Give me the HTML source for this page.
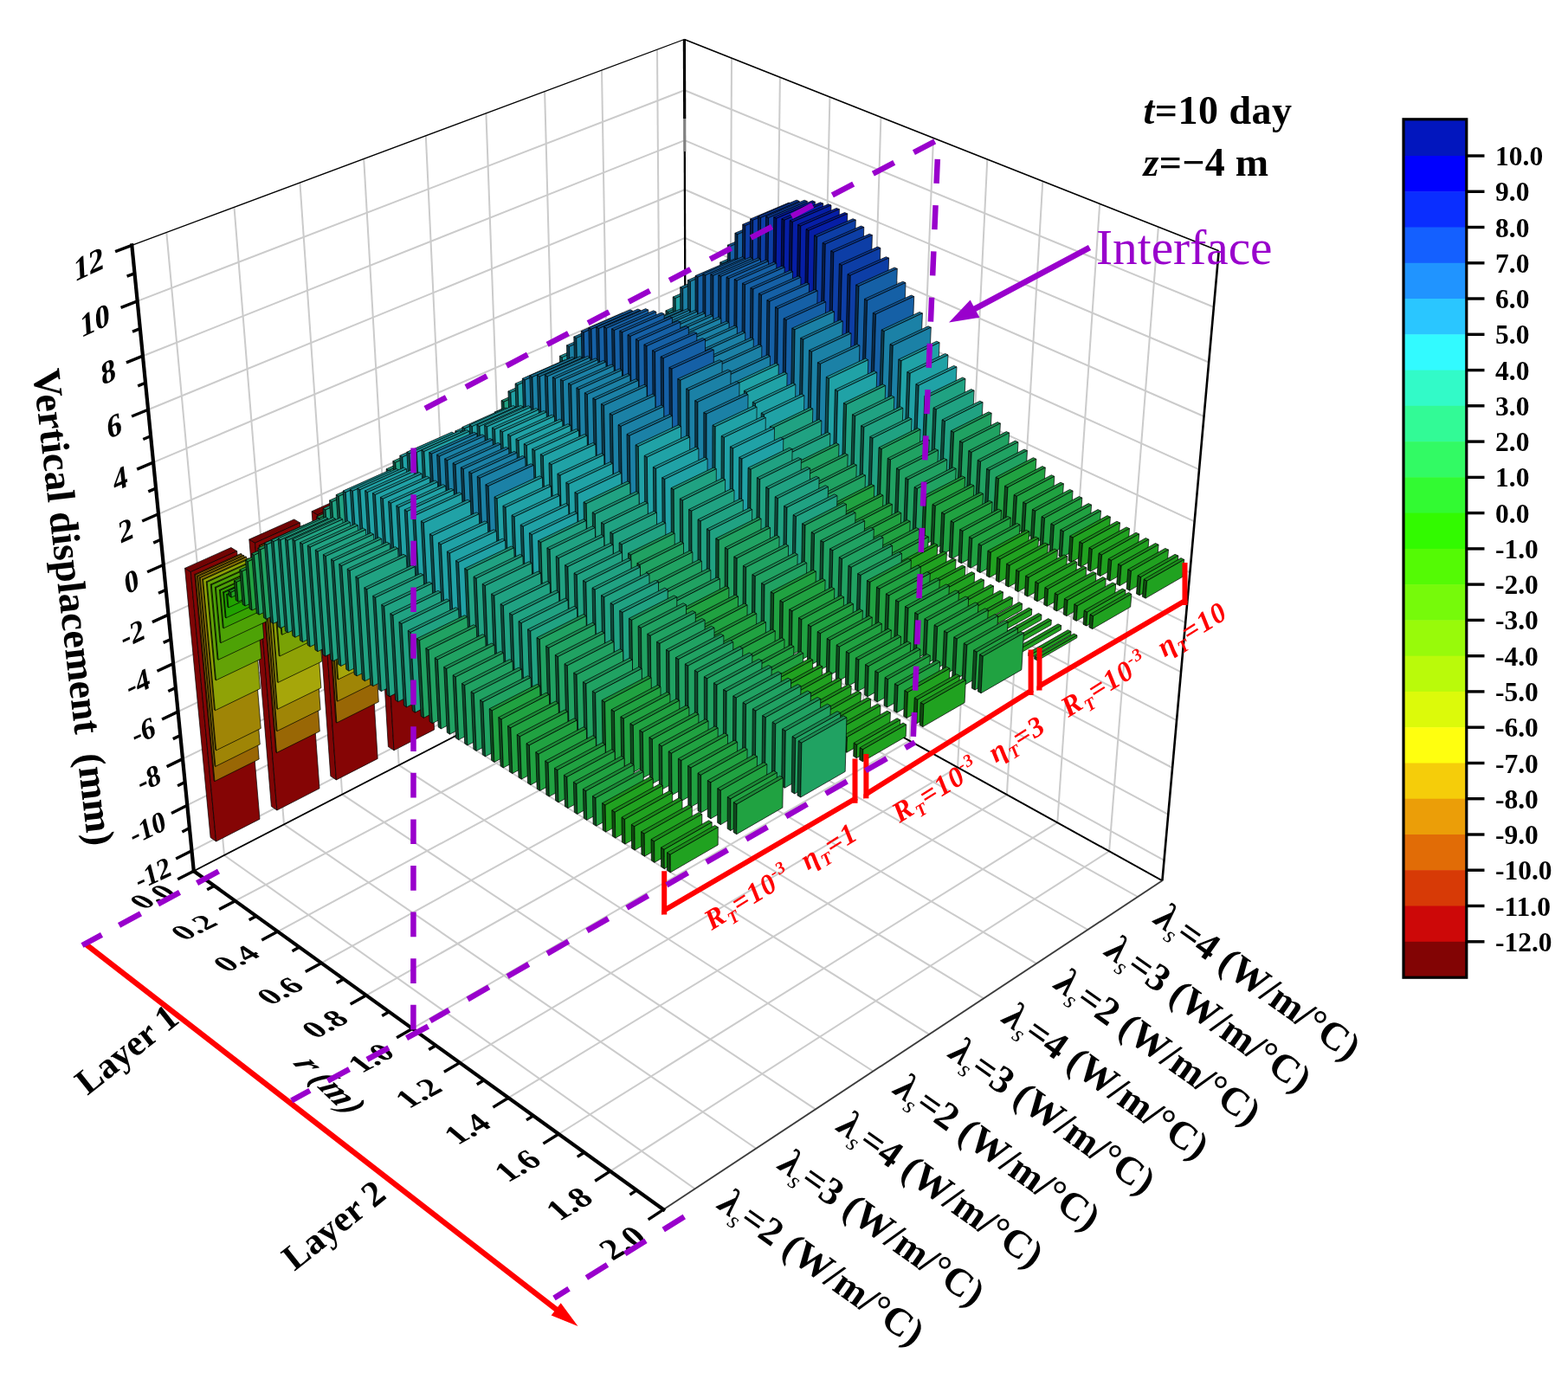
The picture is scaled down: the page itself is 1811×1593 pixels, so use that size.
<!DOCTYPE html>
<html><head><meta charset="utf-8"><title>3D bar chart</title>
<style>
html,body{margin:0;padding:0;background:#fff;}
svg{display:block;}
text{font-family:"Liberation Serif",serif;font-weight:bold;}
</style></head><body>
<svg width="1811" height="1593" viewBox="0 0 1811 1593">
<rect width="1811" height="1593" fill="#fff"/>
<g id="grid" fill="none">
<line x1="259" y1="988" x2="192.3" y2="268.5" stroke="#cbcbcb" stroke-width="2.0" />
<line x1="328" y1="952.4" x2="270.5" y2="239.4" stroke="#cbcbcb" stroke-width="2.0" />
<line x1="395.2" y1="917.7" x2="346.4" y2="211" stroke="#cbcbcb" stroke-width="2.0" />
<line x1="460.7" y1="883.9" x2="420.2" y2="183.6" stroke="#cbcbcb" stroke-width="2.0" />
<line x1="524.5" y1="851" x2="491.8" y2="156.8" stroke="#cbcbcb" stroke-width="2.0" />
<line x1="586.6" y1="818.9" x2="561.4" y2="130.9" stroke="#cbcbcb" stroke-width="2.0" />
<line x1="647.3" y1="787.6" x2="629.1" y2="105.6" stroke="#cbcbcb" stroke-width="2.0" />
<line x1="706.4" y1="757.1" x2="695" y2="81.1" stroke="#cbcbcb" stroke-width="2.0" />
<line x1="764.1" y1="727.3" x2="759" y2="57.2" stroke="#cbcbcb" stroke-width="2.0" />
<line x1="221.5" y1="982.8" x2="792.4" y2="690.8" stroke="#cbcbcb" stroke-width="2.0" />
<line x1="216.3" y1="930.2" x2="792.2" y2="641.7" stroke="#cbcbcb" stroke-width="2.0" />
<line x1="211" y1="876.6" x2="792.1" y2="591.8" stroke="#cbcbcb" stroke-width="2.0" />
<line x1="205.6" y1="822.1" x2="791.9" y2="541.1" stroke="#cbcbcb" stroke-width="2.0" />
<line x1="200.1" y1="766.6" x2="791.8" y2="489.6" stroke="#cbcbcb" stroke-width="2.0" />
<line x1="194.5" y1="710.1" x2="791.6" y2="437.2" stroke="#cbcbcb" stroke-width="2.0" />
<line x1="188.8" y1="652.5" x2="791.4" y2="384" stroke="#cbcbcb" stroke-width="2.0" />
<line x1="183" y1="593.8" x2="791.3" y2="329.9" stroke="#cbcbcb" stroke-width="2.0" />
<line x1="177.1" y1="534.1" x2="791.1" y2="274.9" stroke="#cbcbcb" stroke-width="2.0" />
<line x1="171.1" y1="473.2" x2="791" y2="219" stroke="#cbcbcb" stroke-width="2.0" />
<line x1="165" y1="411.2" x2="790.8" y2="162.1" stroke="#cbcbcb" stroke-width="2.0" />
<line x1="158.7" y1="347.9" x2="790.6" y2="104.3" stroke="#cbcbcb" stroke-width="2.0" />
<line x1="841.7" y1="739.9" x2="845" y2="67.1" stroke="#cbcbcb" stroke-width="2.0" />
<line x1="892" y1="767.8" x2="900.9" y2="89.2" stroke="#cbcbcb" stroke-width="2.0" />
<line x1="943.6" y1="796.4" x2="958.4" y2="112" stroke="#cbcbcb" stroke-width="2.0" />
<line x1="996.5" y1="825.7" x2="1017.4" y2="135.3" stroke="#cbcbcb" stroke-width="2.0" />
<line x1="1050.6" y1="855.7" x2="1078" y2="159.3" stroke="#cbcbcb" stroke-width="2.0" />
<line x1="1106.1" y1="886.4" x2="1140.3" y2="184" stroke="#cbcbcb" stroke-width="2.0" />
<line x1="1162.9" y1="917.9" x2="1204.3" y2="209.3" stroke="#cbcbcb" stroke-width="2.0" />
<line x1="1221.3" y1="950.2" x2="1270.2" y2="235.4" stroke="#cbcbcb" stroke-width="2.0" />
<line x1="1281.1" y1="983.3" x2="1337.9" y2="262.2" stroke="#cbcbcb" stroke-width="2.0" />
<line x1="792.4" y1="690.8" x2="1344.6" y2="993.8" stroke="#cbcbcb" stroke-width="2.0" />
<line x1="792.2" y1="641.7" x2="1349.3" y2="940.9" stroke="#cbcbcb" stroke-width="2.0" />
<line x1="792.1" y1="591.8" x2="1354.1" y2="887" stroke="#cbcbcb" stroke-width="2.0" />
<line x1="791.9" y1="541.1" x2="1359.1" y2="832.2" stroke="#cbcbcb" stroke-width="2.0" />
<line x1="791.8" y1="489.6" x2="1364.1" y2="776.3" stroke="#cbcbcb" stroke-width="2.0" />
<line x1="791.6" y1="437.2" x2="1369.2" y2="719.4" stroke="#cbcbcb" stroke-width="2.0" />
<line x1="791.4" y1="384" x2="1374.4" y2="661.5" stroke="#cbcbcb" stroke-width="2.0" />
<line x1="791.3" y1="329.9" x2="1379.6" y2="602.4" stroke="#cbcbcb" stroke-width="2.0" />
<line x1="791.1" y1="274.9" x2="1385" y2="542.3" stroke="#cbcbcb" stroke-width="2.0" />
<line x1="791" y1="219" x2="1390.5" y2="481" stroke="#cbcbcb" stroke-width="2.0" />
<line x1="790.8" y1="162.1" x2="1396.1" y2="418.5" stroke="#cbcbcb" stroke-width="2.0" />
<line x1="790.6" y1="104.3" x2="1401.9" y2="354.8" stroke="#cbcbcb" stroke-width="2.0" />
<line x1="271.7" y1="1040.7" x2="841.7" y2="739.9" stroke="#cbcbcb" stroke-width="2.0" />
<line x1="320.8" y1="1076.1" x2="892" y2="767.8" stroke="#cbcbcb" stroke-width="2.0" />
<line x1="371.2" y1="1112.4" x2="943.6" y2="796.4" stroke="#cbcbcb" stroke-width="2.0" />
<line x1="423" y1="1149.8" x2="996.5" y2="825.7" stroke="#cbcbcb" stroke-width="2.0" />
<line x1="476.3" y1="1188.2" x2="1050.6" y2="855.7" stroke="#cbcbcb" stroke-width="2.0" />
<line x1="531" y1="1227.6" x2="1106.1" y2="886.4" stroke="#cbcbcb" stroke-width="2.0" />
<line x1="587.3" y1="1268.2" x2="1162.9" y2="917.9" stroke="#cbcbcb" stroke-width="2.0" />
<line x1="645.2" y1="1310" x2="1221.3" y2="950.2" stroke="#cbcbcb" stroke-width="2.0" />
<line x1="704.9" y1="1352.9" x2="1281.1" y2="983.3" stroke="#cbcbcb" stroke-width="2.0" />
<line x1="259" y1="988" x2="802.5" y2="1373.3" stroke="#cbcbcb" stroke-width="2.0" />
<line x1="328" y1="952.4" x2="873.3" y2="1326.7" stroke="#cbcbcb" stroke-width="2.0" />
<line x1="395.2" y1="917.7" x2="941.9" y2="1281.4" stroke="#cbcbcb" stroke-width="2.0" />
<line x1="460.7" y1="883.9" x2="1008.5" y2="1237.5" stroke="#cbcbcb" stroke-width="2.0" />
<line x1="524.5" y1="851" x2="1073.2" y2="1194.8" stroke="#cbcbcb" stroke-width="2.0" />
<line x1="586.6" y1="818.9" x2="1136.1" y2="1153.4" stroke="#cbcbcb" stroke-width="2.0" />
<line x1="647.3" y1="787.6" x2="1197.1" y2="1113.2" stroke="#cbcbcb" stroke-width="2.0" />
<line x1="706.4" y1="757.1" x2="1256.5" y2="1074" stroke="#cbcbcb" stroke-width="2.0" />
<line x1="764.1" y1="727.3" x2="1314.2" y2="1036" stroke="#cbcbcb" stroke-width="2.0" />
<line x1="152.3" y1="283.4" x2="790.4" y2="45.5" stroke="#000" stroke-width="1.3" />
<line x1="790.4" y1="45.5" x2="1407.7" y2="289.8" stroke="#000" stroke-width="1.6" />
<line x1="223.8" y1="1006.2" x2="792.4" y2="712.7" stroke="#000" stroke-width="1.8" />
<line x1="792.4" y1="712.7" x2="1342.4" y2="1017.3" stroke="#000" stroke-width="2.0" />
<line x1="766.3" y1="1397.2" x2="1342.4" y2="1017.3" stroke="#3c3c3c" stroke-width="1.9" />
<line x1="790.8" y1="175" x2="792.4" y2="712.7" stroke="#000" stroke-width="2.3" />
<line x1="790.7" y1="137" x2="790.8" y2="175" stroke="#808080" stroke-width="3.2" />
<line x1="790.4" y1="45.5" x2="790.7" y2="137" stroke="#000" stroke-width="3.2" />
<line x1="1342.4" y1="1017.3" x2="1407.7" y2="289.8" stroke="#000" stroke-width="2.6" />
</g>
<g id="bars" stroke="#000" stroke-width="0.7" stroke-linejoin="round">
<polygon points="756.9,705.1 763.6,708.8 761.4,417.3 754.4,413.9" fill="#7f0505"/>
<polygon points="754.4,413.9 761.4,417.3 804.3,398 797.4,394.6" fill="#710404"/>
<polygon points="763.6,708.8 804.6,687.7 804.3,398 761.4,417.3" fill="#850505"/>
<polygon points="767.6,644.9 768.6,645.4 767.1,420.1 766,419.6" fill="#845804"/>
<polygon points="766,419.6 767.1,420.1 810,400.7 809,400.2" fill="#815704"/>
<polygon points="768.6,645.4 810.1,624.7 810,400.7 767.1,420.1" fill="#996705"/>
<polygon points="770.2,621 771.2,621.5 769.9,421.5 768.9,421" fill="#897306"/>
<polygon points="768.9,421 769.9,421.5 812.9,402.1 811.9,401.6" fill="#877106"/>
<polygon points="771.2,621.5 812.8,600.9 812.9,402.1 769.9,421.5" fill="#9f8506"/>
<polygon points="772.8,596.8 773.8,597.4 772.8,422.8 771.7,422.3" fill="#8f8f08"/>
<polygon points="771.7,422.3 772.8,422.8 815.7,403.4 814.7,402.9" fill="#8c8c08"/>
<polygon points="773.8,597.4 815.6,576.9 815.7,403.4 772.8,422.8" fill="#a6a60a"/>
<polygon points="775.9,567.5 776.9,568.1 776.2,424.5 775.1,424" fill="#7b8c06"/>
<polygon points="775.1,424 776.2,424.5 819.1,405 818.1,404.5" fill="#798a06"/>
<polygon points="776.9,568.1 819,547.7 819.1,405 776.2,424.5" fill="#8fa206"/>
<polygon points="780.3,538.5 781.4,539.1 780.8,426.8 779.8,426.3" fill="#688c06"/>
<polygon points="779.8,426.3 780.8,426.8 823.8,407.3 822.8,406.8" fill="#668a06"/>
<polygon points="781.4,539.1 823.6,518.9 823.8,407.3 780.8,426.8" fill="#79a206"/>
<polygon points="785.4,514.8 786.4,515.3 786.1,429.3 785,428.8" fill="#558c06"/>
<polygon points="785,428.8 786.1,429.3 829,409.8 828,409.3" fill="#548a06"/>
<polygon points="786.4,515.3 828.8,495.2 829,409.8 786.1,429.3" fill="#63a206"/>
<polygon points="790.5,496.1 791.5,496.6 791.3,431.9 790.2,431.4" fill="#428c06"/>
<polygon points="790.2,431.4 791.3,431.9 834.3,412.3 833.2,411.8" fill="#418a06"/>
<polygon points="791.5,496.6 834.1,476.6 834.3,412.3 791.3,431.9" fill="#4da206"/>
<polygon points="795.6,480 796.6,480.5 796.5,434.4 795.5,433.9" fill="#2f8c03"/>
<polygon points="795.5,433.9 796.5,434.4 839.5,414.8 838.5,414.3" fill="#2e8a03"/>
<polygon points="796.6,480.5 839.3,460.5 839.5,414.8 796.5,434.4" fill="#37a203"/>
<polygon points="799.7,465.9 800.8,466.4 800.7,436.5 799.7,436" fill="#2f8c03"/>
<polygon points="799.7,436 800.7,436.5 843.7,416.8 842.7,416.3" fill="#2e8a03"/>
<polygon points="800.8,466.4 843.6,446.5 843.7,416.8 800.7,436.5" fill="#37a203"/>
<polygon points="803.9,451.6 805,452.2 805,438.5 803.9,438" fill="#1c8c00"/>
<polygon points="803.9,438 805,438.5 848,418.8 846.9,418.3" fill="#1c8a00"/>
<polygon points="805,452.2 847.9,432.4 848,418.8 805,438.5" fill="#20a200"/>
<polygon points="806.8,439.4 809.7,440.9 809.7,427.5 806.8,426.1" fill="#0f4b0f"/>
<polygon points="806.8,426.1 809.7,427.5 852.8,407.8 849.9,406.4" fill="#1c8a1c"/>
<polygon points="809.7,440.9 852.7,421.1 852.8,407.8 809.7,427.5" fill="#20a220"/>
<polygon points="814.9,443.4 817.8,444.8 817.8,390.3 814.9,388.9" fill="#0f4b1e"/>
<polygon points="814.9,388.9 817.8,390.3 861.2,370.8 858.3,369.5" fill="#1c8a37"/>
<polygon points="817.8,444.8 860.8,424.9 861.2,370.8 817.8,390.3" fill="#20a241"/>
<polygon points="823,447.3 825.9,448.8 826.2,345.1 823.2,343.7" fill="#0f4b3c"/>
<polygon points="823.2,343.7 826.2,345.1 869.9,325.9 866.9,324.5" fill="#1c8a6e"/>
<polygon points="825.9,448.8 869,428.8 869.9,325.9 826.2,345.1" fill="#20a282"/>
<polygon points="831.2,451.3 834.2,452.8 834.7,304.4 831.7,303.1" fill="#0d3b4c"/>
<polygon points="831.7,303.1 834.7,304.4 878.7,285.4 875.7,284.1" fill="#176d8c"/>
<polygon points="834.2,452.8 877.2,432.8 878.7,285.4 834.7,304.4" fill="#1b81a6"/>
<polygon points="839.5,455.4 842.5,456.8 843.3,284.6 840.3,283.2" fill="#0a2c4c"/>
<polygon points="840.3,283.2 843.3,284.6 887.4,265.7 884.4,264.3" fill="#12518c"/>
<polygon points="842.5,456.8 885.5,436.7 887.4,265.7 843.3,284.6" fill="#1560a6"/>
<polygon points="847.9,459.4 850.8,460.9 852,270.7 848.9,269.3" fill="#0a2c4c"/>
<polygon points="848.9,269.3 852,270.7 896.3,251.8 893.2,250.4" fill="#12518c"/>
<polygon points="850.8,460.9 893.9,440.8 896.3,251.8 852,270.7" fill="#1560a6"/>
<polygon points="856.3,463.6 859.3,465 860.8,260.7 857.7,259.3" fill="#061d4c"/>
<polygon points="857.7,259.3 860.8,260.7 905.2,241.8 902.1,240.5" fill="#0b358c"/>
<polygon points="859.3,465 902.3,444.8 905.2,241.8 860.8,260.7" fill="#0d3ea6"/>
<polygon points="864.8,467.7 867.8,469.2 869.7,254.3 866.6,253" fill="#061d4c"/>
<polygon points="866.6,253 869.7,254.3 914.2,235.4 911.1,234.1" fill="#0b358c"/>
<polygon points="867.8,469.2 910.9,448.9 914.2,235.4 869.7,254.3" fill="#0d3ea6"/>
<polygon points="873.4,471.9 876.4,473.4 878.7,251.4 875.6,250" fill="#061d4c"/>
<polygon points="875.6,250 878.7,251.4 923.2,232.5 920.1,231.1" fill="#0b358c"/>
<polygon points="876.4,473.4 919.5,453 923.2,232.5 878.7,251.4" fill="#0d3ea6"/>
<polygon points="882.1,476.2 885.1,477.6 887.7,251.5 884.6,250.1" fill="#061d4c"/>
<polygon points="884.6,250.1 887.7,251.5 932.3,232.5 929.1,231.2" fill="#0b358c"/>
<polygon points="885.1,477.6 928.2,457.2 932.3,232.5 887.7,251.5" fill="#0d3ea6"/>
<polygon points="890.9,480.4 893.9,481.9 896.9,252.2 893.7,250.8" fill="#030e4c"/>
<polygon points="893.7,250.8 896.9,252.2 941.4,233.2 938.3,231.8" fill="#06198c"/>
<polygon points="893.9,481.9 937,461.4 941.4,233.2 896.9,252.2" fill="#061ea6"/>
<polygon points="899.8,484.7 902.8,486.2 906.1,254.2 902.9,252.8" fill="#030e4c"/>
<polygon points="902.9,252.8 906.1,254.2 950.7,235.1 947.5,233.8" fill="#06198c"/>
<polygon points="902.8,486.2 945.9,465.6 950.7,235.1 906.1,254.2" fill="#061ea6"/>
<polygon points="908.7,489.1 911.8,490.6 915.4,256.3 912.2,254.9" fill="#030e4c"/>
<polygon points="912.2,254.9 915.4,256.3 960,237.1 956.8,235.8" fill="#06198c"/>
<polygon points="911.8,490.6 954.8,469.9 960,237.1 915.4,256.3" fill="#061ea6"/>
<polygon points="917.7,493.5 920.8,495 924.8,261 921.6,259.6" fill="#030e4c"/>
<polygon points="921.6,259.6 924.8,261 969.4,241.7 966.2,240.4" fill="#06198c"/>
<polygon points="920.8,495 963.9,474.2 969.4,241.7 924.8,261" fill="#061ea6"/>
<polygon points="926.9,497.9 929.9,499.4 934.2,266.2 931,264.8" fill="#030e4c"/>
<polygon points="931,264.8 934.2,266.2 978.8,246.9 975.6,245.5" fill="#06198c"/>
<polygon points="929.9,499.4 973,478.6 978.8,246.9 934.2,266.2" fill="#061ea6"/>
<polygon points="936.1,502.4 939.1,503.9 943.7,273.5 940.5,272.1" fill="#061d4c"/>
<polygon points="940.5,272.1 943.7,273.5 988.3,254.1 985.1,252.7" fill="#0b358c"/>
<polygon points="939.1,503.9 982.2,483 988.3,254.1 943.7,273.5" fill="#0d3ea6"/>
<polygon points="945.4,507 948.5,508.5 953.3,281.9 950.1,280.5" fill="#061d4c"/>
<polygon points="950.1,280.5 953.3,281.9 997.8,262.4 994.6,261" fill="#0b358c"/>
<polygon points="948.5,508.5 991.5,487.4 997.8,262.4 953.3,281.9" fill="#0d3ea6"/>
<polygon points="954.7,511.5 957.9,513.1 962.9,291.3 959.7,289.9" fill="#061d4c"/>
<polygon points="959.7,289.9 962.9,291.3 1007.4,271.6 1004.2,270.2" fill="#0b358c"/>
<polygon points="957.9,513.1 1000.9,491.9 1007.4,271.6 962.9,291.3" fill="#0d3ea6"/>
<polygon points="964.2,516.2 967.3,517.7 972.5,306.3 969.3,304.9" fill="#061d4c"/>
<polygon points="969.3,304.9 972.5,306.3 1016.9,286.5 1013.7,285.1" fill="#0b358c"/>
<polygon points="967.3,517.7 1010.4,496.5 1016.9,286.5 972.5,306.3" fill="#0d3ea6"/>
<polygon points="973.8,520.8 976.9,522.4 982.2,318.1 979,316.7" fill="#061d4c"/>
<polygon points="979,316.7 982.2,318.1 1026.6,298.1 1023.4,296.7" fill="#0b358c"/>
<polygon points="976.9,522.4 1020,501 1026.6,298.1 982.2,318.1" fill="#0d3ea6"/>
<polygon points="983.5,525.5 986.6,527.1 992,330.5 988.7,329.1" fill="#0a2c4c"/>
<polygon points="988.7,329.1 992,330.5 1036.3,310.4 1033.1,309" fill="#12518c"/>
<polygon points="986.6,527.1 1029.7,505.7 1036.3,310.4 992,330.5" fill="#1560a6"/>
<polygon points="993.2,530.3 996.4,531.8 1001.7,346.9 998.5,345.4" fill="#0a2c4c"/>
<polygon points="998.5,345.4 1001.7,346.9 1046,326.6 1042.7,325.2" fill="#12518c"/>
<polygon points="996.4,531.8 1039.5,510.3 1046,326.6 1001.7,346.9" fill="#1560a6"/>
<polygon points="1003.1,535.1 1006.3,536.7 1011.6,362.9 1008.3,361.5" fill="#0a2c4c"/>
<polygon points="1008.3,361.5 1011.6,362.9 1055.7,342.5 1052.5,341" fill="#12518c"/>
<polygon points="1006.3,536.7 1049.4,515.1 1055.7,342.5 1011.6,362.9" fill="#1560a6"/>
<polygon points="1013,540 1016.2,541.5 1021.3,382.5 1018.1,381.1" fill="#0d3b4c"/>
<polygon points="1018.1,381.1 1021.3,382.5 1065.4,361.9 1062.1,360.4" fill="#176d8c"/>
<polygon points="1016.2,541.5 1059.3,519.8 1065.4,361.9 1021.3,382.5" fill="#1b81a6"/>
<polygon points="1023.1,544.9 1026.3,546.4 1031.3,399.1 1028,397.6" fill="#0d3b4c"/>
<polygon points="1028,397.6 1031.3,399.1 1075.3,378.2 1072,376.8" fill="#176d8c"/>
<polygon points="1026.3,546.4 1069.4,524.6 1075.3,378.2 1031.3,399.1" fill="#1b81a6"/>
<polygon points="1033.2,549.8 1036.4,551.3 1041.1,416.7 1037.8,415.2" fill="#0f4b4c"/>
<polygon points="1037.8,415.2 1041.1,416.7 1085.1,395.7 1081.8,394.2" fill="#1c8a8c"/>
<polygon points="1036.4,551.3 1079.5,529.4 1085.1,395.7 1041.1,416.7" fill="#20a2a6"/>
<polygon points="1043.3,554.7 1046.5,556.3 1051.2,431.2 1047.8,429.7" fill="#0f4b4c"/>
<polygon points="1047.8,429.7 1051.2,431.2 1095,410 1091.7,408.5" fill="#1c8a8c"/>
<polygon points="1046.5,556.3 1089.6,534.3 1095,410 1051.2,431.2" fill="#20a2a6"/>
<polygon points="1053.5,559.7 1056.7,561.3 1061.2,445.2 1057.9,443.7" fill="#0f4b4c"/>
<polygon points="1057.9,443.7 1061.2,445.2 1105,423.9 1101.7,422.4" fill="#1c8a8c"/>
<polygon points="1056.7,561.3 1099.8,539.2 1105,423.9 1061.2,445.2" fill="#20a2a6"/>
<polygon points="1063.7,564.6 1067,566.2 1071.3,459 1067.9,457.4" fill="#0f4b3c"/>
<polygon points="1067.9,457.4 1071.3,459 1115,437.5 1111.7,436" fill="#1c8a6e"/>
<polygon points="1067,566.2 1110,544.1 1115,437.5 1071.3,459" fill="#20a282"/>
<polygon points="1074,569.7 1077.3,571.3 1081.4,472.8 1078,471.2" fill="#0f4b3c"/>
<polygon points="1078,471.2 1081.4,472.8 1125.1,451.1 1121.7,449.6" fill="#1c8a6e"/>
<polygon points="1077.3,571.3 1120.3,549 1125.1,451.1 1081.4,472.8" fill="#20a282"/>
<polygon points="1084.3,574.7 1087.6,576.3 1091.5,486.5 1088.1,485" fill="#0f4b3c"/>
<polygon points="1088.1,485 1091.5,486.5 1135.1,464.7 1131.8,463.2" fill="#1c8a6e"/>
<polygon points="1087.6,576.3 1130.7,553.9 1135.1,464.7 1091.5,486.5" fill="#20a282"/>
<polygon points="1094.7,579.7 1098,581.3 1101.7,499.3 1098.3,497.7" fill="#0f4b2d"/>
<polygon points="1098.3,497.7 1101.7,499.3 1145.2,477.3 1141.9,475.8" fill="#1c8a52"/>
<polygon points="1098,581.3 1141,558.9 1145.2,477.3 1101.7,499.3" fill="#20a262"/>
<polygon points="1105.1,584.8 1108.4,586.4 1111.9,511.2 1108.5,509.6" fill="#0f4b2d"/>
<polygon points="1108.5,509.6 1111.9,511.2 1155.4,489.1 1152.1,487.6" fill="#1c8a52"/>
<polygon points="1108.4,586.4 1151.5,563.8 1155.4,489.1 1111.9,511.2" fill="#20a262"/>
<polygon points="1115.5,589.9 1118.9,591.5 1122.2,522.4 1118.8,520.8" fill="#0f4b2d"/>
<polygon points="1118.8,520.8 1122.2,522.4 1165.7,500.1 1162.3,498.6" fill="#1c8a52"/>
<polygon points="1118.9,591.5 1161.9,568.8 1165.7,500.1 1122.2,522.4" fill="#20a262"/>
<polygon points="1126,595 1129.4,596.7 1132.6,533.1 1129.2,531.5" fill="#0f4b2d"/>
<polygon points="1129.2,531.5 1132.6,533.1 1176,510.7 1172.6,509.1" fill="#1c8a52"/>
<polygon points="1129.4,596.7 1172.4,573.9 1176,510.7 1132.6,533.1" fill="#20a262"/>
<polygon points="1136.6,600.2 1140,601.8 1143,543.1 1139.6,541.5" fill="#0f4b2d"/>
<polygon points="1139.6,541.5 1143,543.1 1186.4,520.6 1183,519" fill="#1c8a52"/>
<polygon points="1140,601.8 1183,578.9 1186.4,520.6 1143,543.1" fill="#20a262"/>
<polygon points="1147.2,605.3 1150.6,607 1153.5,552.9 1150.1,551.3" fill="#0f4b1e"/>
<polygon points="1150.1,551.3 1153.5,552.9 1196.9,530.3 1193.4,528.7" fill="#1c8a37"/>
<polygon points="1150.6,607 1193.6,584 1196.9,530.3 1153.5,552.9" fill="#20a241"/>
<polygon points="1157.9,610.5 1161.3,612.2 1164,563 1160.6,561.4" fill="#0f4b1e"/>
<polygon points="1160.6,561.4 1164,563 1207.3,540.2 1203.9,538.6" fill="#1c8a37"/>
<polygon points="1161.3,612.2 1204.3,589.1 1207.3,540.2 1164,563" fill="#20a241"/>
<polygon points="1168.6,615.8 1172,617.4 1174.5,573.2 1171.1,571.6" fill="#0f4b1e"/>
<polygon points="1171.1,571.6 1174.5,573.2 1217.8,550.3 1214.4,548.7" fill="#1c8a37"/>
<polygon points="1172,617.4 1215,594.2 1217.8,550.3 1174.5,573.2" fill="#20a241"/>
<polygon points="1179.3,621 1182.8,622.7 1185.2,581.9 1181.7,580.2" fill="#0f4b1e"/>
<polygon points="1181.7,580.2 1185.2,581.9 1228.4,558.8 1225,557.2" fill="#1c8a37"/>
<polygon points="1182.8,622.7 1225.8,599.4 1228.4,558.8 1185.2,581.9" fill="#20a241"/>
<polygon points="1190.1,626.3 1193.6,628 1195.9,590.2 1192.4,588.6" fill="#0f4b1e"/>
<polygon points="1192.4,588.6 1195.9,590.2 1239.1,567.1 1235.6,565.4" fill="#1c8a37"/>
<polygon points="1193.6,628 1236.6,604.5 1239.1,567.1 1195.9,590.2" fill="#20a241"/>
<polygon points="1201,631.6 1204.5,633.3 1206.6,598.4 1203.1,596.8" fill="#0f4b1e"/>
<polygon points="1203.1,596.8 1206.6,598.4 1249.8,575.1 1246.3,573.5" fill="#1c8a37"/>
<polygon points="1204.5,633.3 1247.5,609.7 1249.8,575.1 1206.6,598.4" fill="#20a241"/>
<polygon points="1211.9,636.9 1215.4,638.6 1217.4,606.7 1213.9,605" fill="#0f4b1e"/>
<polygon points="1213.9,605 1217.4,606.7 1260.6,583.2 1257.1,581.6" fill="#1c8a37"/>
<polygon points="1215.4,638.6 1258.4,614.9 1260.6,583.2 1217.4,606.7" fill="#20a241"/>
<polygon points="1222.9,642.2 1226.4,643.9 1228.4,613.8 1224.8,612.1" fill="#0f4b1e"/>
<polygon points="1224.8,612.1 1228.4,613.8 1271.5,590.2 1268,588.6" fill="#1c8a37"/>
<polygon points="1226.4,643.9 1269.3,620.2 1271.5,590.2 1228.4,613.8" fill="#20a241"/>
<polygon points="1233.9,647.6 1237.4,649.3 1239.3,620.9 1235.8,619.2" fill="#0f4b0f"/>
<polygon points="1235.8,619.2 1239.3,620.9 1282.4,597.2 1278.9,595.6" fill="#1c8a1c"/>
<polygon points="1237.4,649.3 1280.4,625.4 1282.4,597.2 1239.3,620.9" fill="#20a220"/>
<polygon points="1244.9,653 1248.5,654.7 1250.4,627.7 1246.8,626" fill="#0f4b0f"/>
<polygon points="1246.8,626 1250.4,627.7 1293.5,603.9 1289.9,602.2" fill="#1c8a1c"/>
<polygon points="1248.5,654.7 1291.4,630.7 1293.5,603.9 1250.4,627.7" fill="#20a220"/>
<polygon points="1256.1,658.4 1259.6,660.1 1261.4,634.5 1257.9,632.8" fill="#0f4b0f"/>
<polygon points="1257.9,632.8 1261.4,634.5 1304.5,610.6 1301,608.9" fill="#1c8a1c"/>
<polygon points="1259.6,660.1 1302.5,636 1304.5,610.6 1261.4,634.5" fill="#20a220"/>
<polygon points="1267.2,663.8 1270.8,665.6 1272.6,640.9 1269,639.2" fill="#0f4b0f"/>
<polygon points="1269,639.2 1272.6,640.9 1315.7,616.9 1312.1,615.2" fill="#1c8a1c"/>
<polygon points="1270.8,665.6 1313.7,641.4 1315.7,616.9 1272.6,640.9" fill="#20a220"/>
<polygon points="1278.5,669.3 1282,671.1 1283.8,647.3 1280.2,645.6" fill="#0f4b0f"/>
<polygon points="1280.2,645.6 1283.8,647.3 1326.9,623.2 1323.3,621.5" fill="#1c8a1c"/>
<polygon points="1282,671.1 1324.9,646.8 1326.9,623.2 1283.8,647.3" fill="#20a220"/>
<polygon points="1289.7,674.8 1293.3,676.6 1295.1,653.4 1291.5,651.7" fill="#0f4b0f"/>
<polygon points="1291.5,651.7 1295.1,653.4 1338.1,629.2 1334.5,627.5" fill="#1c8a1c"/>
<polygon points="1293.3,676.6 1336.2,652.1 1338.1,629.2 1295.1,653.4" fill="#20a220"/>
<polygon points="1301.1,680.3 1304.7,682.1 1306.5,659.5 1302.8,657.8" fill="#0f4b0f"/>
<polygon points="1302.8,657.8 1306.5,659.5 1349.5,635.1 1345.8,633.4" fill="#1c8a1c"/>
<polygon points="1304.7,682.1 1347.6,657.6 1349.5,635.1 1306.5,659.5" fill="#20a220"/>
<polygon points="1312.5,685.9 1316.1,687.7 1317.8,666.6 1314.1,664.8" fill="#0f4b0f"/>
<polygon points="1314.1,664.8 1317.8,666.6 1360.8,642 1357.1,640.3" fill="#1c8a1c"/>
<polygon points="1316.1,687.7 1359,663 1360.8,642 1317.8,666.6" fill="#20a220"/>
<polygon points="1319.4,689.3 1323.1,691.1 1324.7,671 1321.1,669.2" fill="#0f4b0f"/>
<polygon points="1321.1,669.2 1324.7,671 1367.7,646.4 1364,644.6" fill="#1c8a1c"/>
<polygon points="1323.1,691.1 1365.9,666.3 1367.7,646.4 1324.7,671" fill="#20a220"/>
<polygon points="698.3,735 705,738.8 699.9,444.9 693,441.4" fill="#7f0505"/>
<polygon points="693,441.4 699.9,444.9 744,425.1 737.1,421.7" fill="#710404"/>
<polygon points="705,738.8 747,717.2 744,425.1 699.9,444.9" fill="#850505"/>
<polygon points="708.3,674.5 709.3,675 705.6,447.8 704.6,447.3" fill="#845804"/>
<polygon points="704.6,447.3 705.6,447.8 749.7,427.9 748.7,427.4" fill="#815704"/>
<polygon points="709.3,675 751.8,653.8 749.7,427.9 705.6,447.8" fill="#996705"/>
<polygon points="710.7,650.4 711.7,651 708.5,449.2 707.4,448.7" fill="#897306"/>
<polygon points="707.4,448.7 708.5,449.2 752.6,429.3 751.5,428.8" fill="#877106"/>
<polygon points="711.7,651 754.4,629.8 752.6,429.3 708.5,449.2" fill="#9f8506"/>
<polygon points="713,626.1 714,626.6 711.3,450.6 710.3,450.1" fill="#8f8f08"/>
<polygon points="710.3,450.1 711.3,450.6 755.4,430.7 754.4,430.2" fill="#8c8c08"/>
<polygon points="714,626.6 756.9,605.6 755.4,430.7 711.3,450.6" fill="#a6a60a"/>
<polygon points="715.8,596.6 716.8,597.1 714.7,452.3 713.6,451.8" fill="#7b8c06"/>
<polygon points="713.6,451.8 714.7,452.3 758.8,432.4 757.8,431.8" fill="#798a06"/>
<polygon points="716.8,597.1 760,576.3 758.8,432.4 714.7,452.3" fill="#8fa206"/>
<polygon points="719.9,567.4 721,567.9 719.4,454.7 718.3,454.1" fill="#688c06"/>
<polygon points="718.3,454.1 719.4,454.7 763.5,434.7 762.4,434.1" fill="#668a06"/>
<polygon points="721,567.9 764.3,547.2 763.5,434.7 719.4,454.7" fill="#79a206"/>
<polygon points="724.7,543.5 725.7,544 724.6,457.3 723.5,456.8" fill="#558c06"/>
<polygon points="723.5,456.8 724.6,457.3 768.7,437.2 767.7,436.7" fill="#548a06"/>
<polygon points="725.7,544 769.3,523.4 768.7,437.2 724.6,457.3" fill="#63a206"/>
<polygon points="729.6,524.7 730.6,525.2 729.8,459.9 728.8,459.4" fill="#428c06"/>
<polygon points="728.8,459.4 729.8,459.9 773.9,439.8 772.9,439.3" fill="#418a06"/>
<polygon points="730.6,525.2 774.3,504.7 773.9,439.8 729.8,459.9" fill="#4da206"/>
<polygon points="734.5,508.4 735.6,509 735,462.5 734,462" fill="#2f8c03"/>
<polygon points="734,462 735,462.5 779.2,442.4 778.1,441.8" fill="#2e8a03"/>
<polygon points="735.6,509 779.4,488.5 779.2,442.4 735,462.5" fill="#37a203"/>
<polygon points="738.5,494.3 739.6,494.8 739.2,464.6 738.2,464.1" fill="#2f8c03"/>
<polygon points="738.2,464.1 739.2,464.6 783.4,444.4 782.3,443.9" fill="#2e8a03"/>
<polygon points="739.6,494.8 783.5,474.4 783.4,444.4 739.2,464.6" fill="#37a203"/>
<polygon points="742.5,480 743.6,480.5 743.5,466.7 742.4,466.2" fill="#1c8c00"/>
<polygon points="742.4,466.2 743.5,466.7 787.6,446.5 786.5,446" fill="#1c8a00"/>
<polygon points="743.6,480.5 787.6,460.2 787.6,446.5 743.5,466.7" fill="#20a200"/>
<polygon points="745.3,467.7 748.2,469.1 748.1,458 745.2,456.6" fill="#0f4b0f"/>
<polygon points="745.2,456.6 748.1,458 792.3,437.8 789.4,436.4" fill="#1c8a1c"/>
<polygon points="748.2,469.1 792.3,448.8 792.3,437.8 748.1,458" fill="#20a220"/>
<polygon points="753.3,471.7 756.3,473.2 755.9,428.3 752.9,426.9" fill="#0f4b1e"/>
<polygon points="752.9,426.9 755.9,428.3 800.3,408.2 797.4,406.8" fill="#1c8a37"/>
<polygon points="756.3,473.2 800.4,452.8 800.3,408.2 755.9,428.3" fill="#20a241"/>
<polygon points="761.5,475.8 764.4,477.2 763.8,392.5 760.8,391" fill="#0f4b3c"/>
<polygon points="760.8,391 763.8,392.5 808.5,372.6 805.6,371.2" fill="#1c8a6e"/>
<polygon points="764.4,477.2 808.6,456.8 808.5,372.6 763.8,392.5" fill="#20a282"/>
<polygon points="769.7,479.9 772.6,481.4 771.9,360.3 768.9,358.9" fill="#0f4b4c"/>
<polygon points="768.9,358.9 771.9,360.3 816.9,340.5 813.9,339.2" fill="#1c8a8c"/>
<polygon points="772.6,481.4 816.8,460.8 816.9,340.5 771.9,360.3" fill="#20a2a6"/>
<polygon points="777.9,484 780.9,485.5 780.2,344.5 777.2,343.1" fill="#0f4b4c"/>
<polygon points="777.2,343.1 780.2,344.5 825.4,324.8 822.4,323.4" fill="#1c8a8c"/>
<polygon points="780.9,485.5 825.1,464.9 825.4,324.8 780.2,344.5" fill="#20a2a6"/>
<polygon points="786.3,488.2 789.3,489.7 788.7,333.2 785.7,331.8" fill="#0d3b4c"/>
<polygon points="785.7,331.8 788.7,333.2 834,313.6 831,312.2" fill="#176d8c"/>
<polygon points="789.3,489.7 833.4,469 834,313.6 788.7,333.2" fill="#1b81a6"/>
<polygon points="794.7,492.5 797.7,493.9 797.4,325.1 794.3,323.7" fill="#0d3b4c"/>
<polygon points="794.3,323.7 797.4,325.1 842.7,305.4 839.7,304" fill="#176d8c"/>
<polygon points="797.7,493.9 841.9,473.2 842.7,305.4 797.4,325.1" fill="#1b81a6"/>
<polygon points="803.3,496.7 806.2,498.2 806.1,320 803,318.6" fill="#0a2c4c"/>
<polygon points="803,318.6 806.1,320 851.5,300.4 848.4,299" fill="#12518c"/>
<polygon points="806.2,498.2 850.4,477.4 851.5,300.4 806.1,320" fill="#1560a6"/>
<polygon points="811.8,501 814.8,502.5 814.9,317.8 811.9,316.4" fill="#0a2c4c"/>
<polygon points="811.9,316.4 814.9,317.8 860.4,298.1 857.3,296.7" fill="#12518c"/>
<polygon points="814.8,502.5 859.1,481.6 860.4,298.1 814.9,317.8" fill="#1560a6"/>
<polygon points="820.5,505.4 823.5,506.9 823.9,318.3 820.8,316.9" fill="#0a2c4c"/>
<polygon points="820.8,316.9 823.9,318.3 869.4,298.5 866.3,297.1" fill="#12518c"/>
<polygon points="823.5,506.9 867.8,485.9 869.4,298.5 823.9,318.3" fill="#1560a6"/>
<polygon points="829.3,509.8 832.3,511.3 832.9,319.2 829.8,317.8" fill="#0a2c4c"/>
<polygon points="829.8,317.8 832.9,319.2 878.5,299.4 875.4,298" fill="#12518c"/>
<polygon points="832.3,511.3 876.5,490.2 878.5,299.4 832.9,319.2" fill="#1560a6"/>
<polygon points="838.1,514.2 841.2,515.7 842.1,321.6 839,320.2" fill="#0a2c4c"/>
<polygon points="839,320.2 842.1,321.6 887.6,301.7 884.5,300.3" fill="#12518c"/>
<polygon points="841.2,515.7 885.4,494.6 887.6,301.7 842.1,321.6" fill="#1560a6"/>
<polygon points="847.1,518.7 850.1,520.2 851.3,324.1 848.2,322.7" fill="#0a2c4c"/>
<polygon points="848.2,322.7 851.3,324.1 896.9,304.1 893.7,302.7" fill="#12518c"/>
<polygon points="850.1,520.2 894.4,499 896.9,304.1 851.3,324.1" fill="#1560a6"/>
<polygon points="856.1,523.2 859.2,524.8 860.6,328.8 857.5,327.3" fill="#0a2c4c"/>
<polygon points="857.5,327.3 860.6,328.8 906.2,308.7 903,307.3" fill="#12518c"/>
<polygon points="859.2,524.8 903.4,503.4 906.2,308.7 860.6,328.8" fill="#1560a6"/>
<polygon points="865.2,527.8 868.3,529.3 870,333.9 866.9,332.5" fill="#0a2c4c"/>
<polygon points="866.9,332.5 870,333.9 915.6,313.8 912.4,312.3" fill="#12518c"/>
<polygon points="868.3,529.3 912.5,507.9 915.6,313.8 870,333.9" fill="#1560a6"/>
<polygon points="874.4,532.4 877.5,533.9 879.5,340.6 876.3,339.2" fill="#0a2c4c"/>
<polygon points="876.3,339.2 879.5,340.6 925,320.3 921.9,318.9" fill="#12518c"/>
<polygon points="877.5,533.9 921.7,512.4 925,320.3 879.5,340.6" fill="#1560a6"/>
<polygon points="883.7,537.1 886.8,538.6 889,348.1 885.9,346.7" fill="#0a2c4c"/>
<polygon points="885.9,346.7 889,348.1 934.6,327.8 931.4,326.4" fill="#12518c"/>
<polygon points="886.8,538.6 931.1,517 934.6,327.8 889,348.1" fill="#1560a6"/>
<polygon points="893.1,541.8 896.2,543.3 898.7,356.4 895.5,354.9" fill="#0a2c4c"/>
<polygon points="895.5,354.9 898.7,356.4 944.2,335.9 941,334.5" fill="#12518c"/>
<polygon points="896.2,543.3 940.5,521.6 944.2,335.9 898.7,356.4" fill="#1560a6"/>
<polygon points="902.6,546.5 905.7,548.1 908.3,369.5 905.1,368" fill="#0a2c4c"/>
<polygon points="905.1,368 908.3,369.5 953.8,348.8 950.6,347.4" fill="#12518c"/>
<polygon points="905.7,548.1 949.9,526.3 953.8,348.8 908.3,369.5" fill="#1560a6"/>
<polygon points="912.1,551.3 915.3,552.9 918.1,380.7 914.8,379.2" fill="#0d3b4c"/>
<polygon points="914.8,379.2 918.1,380.7 963.5,360 960.3,358.5" fill="#176d8c"/>
<polygon points="915.3,552.9 959.5,531 963.5,360 918.1,380.7" fill="#1b81a6"/>
<polygon points="921.8,556.2 924.9,557.7 927.9,392 924.7,390.5" fill="#0d3b4c"/>
<polygon points="924.7,390.5 927.9,392 973.3,371 970,369.6" fill="#176d8c"/>
<polygon points="924.9,557.7 969.2,535.7 973.3,371 927.9,392" fill="#1b81a6"/>
<polygon points="931.5,561 934.7,562.6 937.7,406.2 934.5,404.7" fill="#0d3b4c"/>
<polygon points="934.5,404.7 937.7,406.2 983.1,385.1 979.8,383.7" fill="#176d8c"/>
<polygon points="934.7,562.6 979,540.5 983.1,385.1 937.7,406.2" fill="#1b81a6"/>
<polygon points="941.4,566 944.6,567.6 947.7,420.3 944.4,418.8" fill="#0d3b4c"/>
<polygon points="944.4,418.8 947.7,420.3 992.9,399.1 989.7,397.6" fill="#176d8c"/>
<polygon points="944.6,567.6 988.9,545.4 992.9,399.1 947.7,420.3" fill="#1b81a6"/>
<polygon points="951.4,571 954.6,572.6 957.6,437.1 954.3,435.5" fill="#0f4b4c"/>
<polygon points="954.3,435.5 957.6,437.1 1002.8,415.7 999.5,414.1" fill="#1c8a8c"/>
<polygon points="954.6,572.6 998.8,550.3 1002.8,415.7 957.6,437.1" fill="#20a2a6"/>
<polygon points="961.4,576 964.6,577.6 967.6,451.7 964.4,450.2" fill="#0f4b4c"/>
<polygon points="964.4,450.2 967.6,451.7 1012.8,430.2 1009.5,428.6" fill="#1c8a8c"/>
<polygon points="964.6,577.6 1008.9,555.2 1012.8,430.2 967.6,451.7" fill="#20a2a6"/>
<polygon points="971.5,581.1 974.7,582.7 977.7,467.2 974.4,465.6" fill="#0f4b3c"/>
<polygon points="974.4,465.6 977.7,467.2 1022.7,445.4 1019.4,443.9" fill="#1c8a6e"/>
<polygon points="974.7,582.7 1019,560.2 1022.7,445.4 977.7,467.2" fill="#20a282"/>
<polygon points="981.6,586.1 984.9,587.8 987.8,480.5 984.5,478.9" fill="#0f4b3c"/>
<polygon points="984.5,478.9 987.8,480.5 1032.8,458.6 1029.5,457" fill="#1c8a6e"/>
<polygon points="984.9,587.8 1029.1,565.2 1032.8,458.6 987.8,480.5" fill="#20a282"/>
<polygon points="991.8,591.3 995,592.9 997.9,493.4 994.6,491.8" fill="#0f4b3c"/>
<polygon points="994.6,491.8 997.9,493.4 1042.9,471.4 1039.6,469.8" fill="#1c8a6e"/>
<polygon points="995,592.9 1039.3,570.2 1042.9,471.4 997.9,493.4" fill="#20a282"/>
<polygon points="1002,596.4 1005.3,598 1008.1,506.1 1004.8,504.5" fill="#0f4b3c"/>
<polygon points="1004.8,504.5 1008.1,506.1 1053,483.9 1049.7,482.3" fill="#1c8a6e"/>
<polygon points="1005.3,598 1049.6,575.2 1053,483.9 1008.1,506.1" fill="#20a282"/>
<polygon points="1012.3,601.5 1015.6,603.2 1018.3,518.6 1015,517" fill="#0f4b2d"/>
<polygon points="1015,517 1018.3,518.6 1063.1,496.2 1059.8,494.6" fill="#1c8a52"/>
<polygon points="1015.6,603.2 1059.9,580.3 1063.1,496.2 1018.3,518.6" fill="#20a262"/>
<polygon points="1022.6,606.7 1025.9,608.4 1028.5,531 1025.2,529.4" fill="#0f4b2d"/>
<polygon points="1025.2,529.4 1028.5,531 1073.3,508.5 1070,506.9" fill="#1c8a52"/>
<polygon points="1025.9,608.4 1070.2,585.3 1073.3,508.5 1028.5,531" fill="#20a262"/>
<polygon points="1033,611.9 1036.3,613.6 1038.8,542.8 1035.5,541.1" fill="#0f4b2d"/>
<polygon points="1035.5,541.1 1038.8,542.8 1083.6,520.1 1080.2,518.5" fill="#1c8a52"/>
<polygon points="1036.3,613.6 1080.6,590.4 1083.6,520.1 1038.8,542.8" fill="#20a262"/>
<polygon points="1043.4,617.1 1046.7,618.8 1049.1,553.9 1045.8,552.2" fill="#0f4b2d"/>
<polygon points="1045.8,552.2 1049.1,553.9 1093.8,531.1 1090.5,529.5" fill="#1c8a52"/>
<polygon points="1046.7,618.8 1091,595.6 1093.8,531.1 1049.1,553.9" fill="#20a262"/>
<polygon points="1053.9,622.4 1057.2,624 1059.5,564.4 1056.1,562.7" fill="#0f4b2d"/>
<polygon points="1056.1,562.7 1059.5,564.4 1104.2,541.4 1100.8,539.8" fill="#1c8a52"/>
<polygon points="1057.2,624 1101.5,600.7 1104.2,541.4 1059.5,564.4" fill="#20a262"/>
<polygon points="1064.4,627.6 1067.7,629.3 1070,574.6 1066.6,572.9" fill="#0f4b1e"/>
<polygon points="1066.6,572.9 1070,574.6 1114.6,551.5 1111.2,549.9" fill="#1c8a37"/>
<polygon points="1067.7,629.3 1112,605.9 1114.6,551.5 1070,574.6" fill="#20a241"/>
<polygon points="1074.9,632.9 1078.3,634.6 1080.4,584.3 1077,582.6" fill="#0f4b1e"/>
<polygon points="1077,582.6 1080.4,584.3 1125,561 1121.6,559.4" fill="#1c8a37"/>
<polygon points="1078.3,634.6 1122.6,611.1 1125,561 1080.4,584.3" fill="#20a241"/>
<polygon points="1085.5,638.3 1088.9,640 1091,593.8 1087.6,592.1" fill="#0f4b1e"/>
<polygon points="1087.6,592.1 1091,593.8 1135.5,570.4 1132.1,568.8" fill="#1c8a37"/>
<polygon points="1088.9,640 1133.2,616.3 1135.5,570.4 1091,593.8" fill="#20a241"/>
<polygon points="1096.2,643.6 1099.6,645.3 1101.5,603.5 1098.1,601.8" fill="#0f4b1e"/>
<polygon points="1098.1,601.8 1101.5,603.5 1146.1,580 1142.6,578.4" fill="#1c8a37"/>
<polygon points="1099.6,645.3 1143.9,621.5 1146.1,580 1101.5,603.5" fill="#20a241"/>
<polygon points="1106.9,649 1110.4,650.7 1112.1,613.4 1108.7,611.7" fill="#0f4b1e"/>
<polygon points="1108.7,611.7 1112.1,613.4 1156.6,589.7 1153.2,588.1" fill="#1c8a37"/>
<polygon points="1110.4,650.7 1154.6,626.8 1156.6,589.7 1112.1,613.4" fill="#20a241"/>
<polygon points="1117.7,654.4 1121.1,656.1 1122.8,622 1119.4,620.3" fill="#0f4b1e"/>
<polygon points="1119.4,620.3 1122.8,622 1167.3,598.2 1163.8,596.5" fill="#1c8a37"/>
<polygon points="1121.1,656.1 1165.4,632.1 1167.3,598.2 1122.8,622" fill="#20a241"/>
<polygon points="1128.5,659.8 1132,661.5 1133.6,630.1 1130.1,628.4" fill="#0f4b1e"/>
<polygon points="1130.1,628.4 1133.6,630.1 1178,606.2 1174.5,604.5" fill="#1c8a37"/>
<polygon points="1132,661.5 1176.2,637.4 1178,606.2 1133.6,630.1" fill="#20a241"/>
<polygon points="1139.4,665.2 1142.9,667 1144.4,638 1140.9,636.3" fill="#0f4b0f"/>
<polygon points="1140.9,636.3 1144.4,638 1188.8,614 1185.3,612.3" fill="#1c8a1c"/>
<polygon points="1142.9,667 1187.1,642.8 1188.8,614 1144.4,638" fill="#20a220"/>
<polygon points="1150.3,670.7 1153.8,672.5 1155.2,646 1151.7,644.2" fill="#0f4b0f"/>
<polygon points="1151.7,644.2 1155.2,646 1199.6,621.8 1196.1,620.1" fill="#1c8a1c"/>
<polygon points="1153.8,672.5 1198,648.1 1199.6,621.8 1155.2,646" fill="#20a220"/>
<polygon points="1161.3,676.2 1164.8,678 1166.2,653.1 1162.7,651.3" fill="#0f4b0f"/>
<polygon points="1162.7,651.3 1166.2,653.1 1210.6,628.8 1207,627.1" fill="#1c8a1c"/>
<polygon points="1164.8,678 1209,653.5 1210.6,628.8 1166.2,653.1" fill="#20a220"/>
<polygon points="1172.3,681.8 1175.8,683.5 1177.2,660.2 1173.6,658.4" fill="#0f4b0f"/>
<polygon points="1173.6,658.4 1177.2,660.2 1221.5,635.8 1218,634" fill="#1c8a1c"/>
<polygon points="1175.8,683.5 1220,659 1221.5,635.8 1177.2,660.2" fill="#20a220"/>
<polygon points="1183.4,687.3 1186.9,689.1 1188.2,667 1184.7,665.3" fill="#0f4b0f"/>
<polygon points="1184.7,665.3 1188.2,667 1232.6,642.5 1229,640.8" fill="#1c8a1c"/>
<polygon points="1186.9,689.1 1231.1,664.4 1232.6,642.5 1188.2,667" fill="#20a220"/>
<polygon points="1194.5,692.9 1198.1,694.7 1199.4,673.9 1195.8,672.1" fill="#0f4b0f"/>
<polygon points="1195.8,672.1 1199.4,673.9 1243.7,649.3 1240.1,647.5" fill="#1c8a1c"/>
<polygon points="1198.1,694.7 1242.3,669.9 1243.7,649.3 1199.4,673.9" fill="#20a220"/>
<polygon points="1205.7,698.5 1209.3,700.3 1210.5,680.5 1206.9,678.7" fill="#0f4b0f"/>
<polygon points="1206.9,678.7 1210.5,680.5 1254.8,655.7 1251.3,654" fill="#1c8a1c"/>
<polygon points="1209.3,700.3 1253.5,675.4 1254.8,655.7 1210.5,680.5" fill="#20a220"/>
<polygon points="1216.9,704.1 1220.5,705.9 1221.8,687.1 1218.2,685.3" fill="#0f4b0f"/>
<polygon points="1218.2,685.3 1221.8,687.1 1266.1,662.2 1262.5,660.4" fill="#1c8a1c"/>
<polygon points="1220.5,705.9 1264.7,680.9 1266.1,662.2 1221.8,687.1" fill="#20a220"/>
<polygon points="1228.2,709.8 1231.8,711.6 1233.1,693.4 1229.4,691.6" fill="#0f4b0f"/>
<polygon points="1229.4,691.6 1233.1,693.4 1277.3,668.4 1273.7,666.6" fill="#1c8a1c"/>
<polygon points="1231.8,711.6 1276,686.5 1277.3,668.4 1233.1,693.4" fill="#20a220"/>
<polygon points="1239.6,715.5 1243.2,717.3 1244.4,699.9 1240.8,698" fill="#0f4b0f"/>
<polygon points="1240.8,698 1244.4,699.9 1288.7,674.7 1285,672.9" fill="#1c8a1c"/>
<polygon points="1243.2,717.3 1287.4,692 1288.7,674.7 1244.4,699.9" fill="#20a220"/>
<polygon points="1251,721.2 1254.6,723 1255.8,707.1 1252.1,705.3" fill="#0f4b0f"/>
<polygon points="1252.1,705.3 1255.8,707.1 1300,681.8 1296.3,680" fill="#1c8a1c"/>
<polygon points="1254.6,723 1298.8,697.6 1300,681.8 1255.8,707.1" fill="#20a220"/>
<polygon points="1258,724.7 1261.6,726.5 1262.7,711.6 1259,709.8" fill="#0f4b0f"/>
<polygon points="1259,709.8 1262.7,711.6 1306.9,686.3 1303.3,684.5" fill="#1c8a1c"/>
<polygon points="1261.6,726.5 1305.7,701.1 1306.9,686.3 1262.7,711.6" fill="#20a220"/>
<polygon points="638.2,765.7 644.9,769.6 636.9,473.3 629.9,469.7" fill="#7f0505"/>
<polygon points="629.9,469.7 636.9,473.3 682.1,452.9 675.2,449.4" fill="#710404"/>
<polygon points="644.9,769.6 688,747.5 682.1,452.9 636.9,473.3" fill="#850505"/>
<polygon points="647.5,704.8 648.5,705.4 642.5,476.2 641.5,475.7" fill="#845804"/>
<polygon points="641.5,475.7 642.5,476.2 687.8,455.8 686.8,455.3" fill="#815704"/>
<polygon points="648.5,705.4 692.1,683.6 687.8,455.8 642.5,476.2" fill="#996705"/>
<polygon points="649.6,680.6 650.6,681.1 645.4,477.7 644.3,477.2" fill="#897306"/>
<polygon points="644.3,477.2 645.4,477.7 690.7,457.2 689.6,456.7" fill="#877106"/>
<polygon points="650.6,681.1 694.4,659.5 690.7,457.2 645.4,477.7" fill="#9f8506"/>
<polygon points="651.7,656.1 652.7,656.6 648.2,479.2 647.2,478.6" fill="#8f8f08"/>
<polygon points="647.2,478.6 648.2,479.2 693.5,458.7 692.5,458.2" fill="#8c8c08"/>
<polygon points="652.7,656.6 696.7,635.1 693.5,458.7 648.2,479.2" fill="#a6a60a"/>
<polygon points="654.2,626.4 655.2,626.9 651.6,480.9 650.6,480.4" fill="#7b8c06"/>
<polygon points="650.6,480.4 651.6,480.9 696.9,460.4 695.8,459.9" fill="#798a06"/>
<polygon points="655.2,626.9 699.4,605.5 696.9,460.4 651.6,480.9" fill="#8fa206"/>
<polygon points="658,597 659,597.5 656.3,483.3 655.2,482.8" fill="#688c06"/>
<polygon points="655.2,482.8 656.3,483.3 701.6,462.8 700.5,462.2" fill="#668a06"/>
<polygon points="659,597.5 703.5,576.3 701.6,462.8 656.3,483.3" fill="#79a206"/>
<polygon points="662.5,572.9 663.5,573.5 661.5,486 660.4,485.4" fill="#558c06"/>
<polygon points="660.4,485.4 661.5,486 706.8,465.4 705.7,464.9" fill="#548a06"/>
<polygon points="663.5,573.5 708.2,552.3 706.8,465.4 661.5,486" fill="#63a206"/>
<polygon points="667.1,554 668.1,554.6 666.7,488.7 665.6,488.1" fill="#428c06"/>
<polygon points="665.6,488.1 666.7,488.7 712,468 710.9,467.5" fill="#418a06"/>
<polygon points="668.1,554.6 713,533.5 712,468 666.7,488.7" fill="#4da206"/>
<polygon points="671.9,537.7 672.9,538.2 671.9,491.4 670.9,490.8" fill="#2f8c03"/>
<polygon points="670.9,490.8 671.9,491.4 717.2,470.7 716.2,470.1" fill="#2e8a03"/>
<polygon points="672.9,538.2 717.9,517.2 717.2,470.7 671.9,491.4" fill="#37a203"/>
<polygon points="675.7,523.4 676.7,524 676.1,493.5 675,493" fill="#2f8c03"/>
<polygon points="675,493 676.1,493.5 721.4,472.8 720.4,472.3" fill="#2e8a03"/>
<polygon points="676.7,524 721.8,503 721.4,472.8 676.1,493.5" fill="#37a203"/>
<polygon points="679.5,509 680.6,509.6 680.3,495.7 679.2,495.2" fill="#1c8c00"/>
<polygon points="679.2,495.2 680.3,495.7 725.6,474.9 724.6,474.4" fill="#1c8a00"/>
<polygon points="680.6,509.6 725.8,488.7 725.6,474.9 680.3,495.7" fill="#20a200"/>
<polygon points="682.1,496.7 685,498.2 684.8,488.8 681.9,487.3" fill="#0f4b0f"/>
<polygon points="681.9,487.3 684.8,488.8 730.3,468 727.3,466.6" fill="#1c8a1c"/>
<polygon points="685,498.2 730.4,477.3 730.3,468 684.8,488.8" fill="#20a220"/>
<polygon points="690.2,500.8 693.1,502.3 692.4,464.3 689.5,462.8" fill="#0f4b1e"/>
<polygon points="689.5,462.8 692.4,464.3 738,443.6 735.1,442.2" fill="#1c8a37"/>
<polygon points="693.1,502.3 738.4,481.4 738,443.6 692.4,464.3" fill="#20a241"/>
<polygon points="698.3,505 701.2,506.5 700,434.4 697,432.9" fill="#0f4b2d"/>
<polygon points="697,432.9 700,434.4 745.8,413.8 742.9,412.4" fill="#1c8a52"/>
<polygon points="701.2,506.5 746.6,485.5 745.8,413.8 700,434.4" fill="#20a262"/>
<polygon points="706.5,509.2 709.4,510.7 707.8,407.7 704.8,406.2" fill="#0f4b3c"/>
<polygon points="704.8,406.2 707.8,407.7 753.9,387.3 750.9,385.8" fill="#1c8a6e"/>
<polygon points="709.4,510.7 754.8,489.6 753.9,387.3 707.8,407.7" fill="#20a282"/>
<polygon points="714.7,513.5 717.7,515 715.9,395.5 712.9,394" fill="#0f4b4c"/>
<polygon points="712.9,394 715.9,395.5 762.2,375.1 759.2,373.7" fill="#1c8a8c"/>
<polygon points="717.7,515 763,493.8 762.2,375.1 715.9,395.5" fill="#20a2a6"/>
<polygon points="723.1,517.8 726,519.3 724.3,387.4 721.3,385.9" fill="#0f4b4c"/>
<polygon points="721.3,385.9 724.3,387.4 770.6,367 767.6,365.6" fill="#1c8a8c"/>
<polygon points="726,519.3 771.4,498.1 770.6,367 724.3,387.4" fill="#20a2a6"/>
<polygon points="731.5,522.1 734.5,523.7 732.8,382 729.7,380.6" fill="#0f4b4c"/>
<polygon points="729.7,380.6 732.8,382 779.2,361.6 776.1,360.2" fill="#1c8a8c"/>
<polygon points="734.5,523.7 779.9,502.3 779.2,361.6 732.8,382" fill="#20a2a6"/>
<polygon points="740,526.5 743,528.1 741.4,379.2 738.3,377.8" fill="#0d3b4c"/>
<polygon points="738.3,377.8 741.4,379.2 787.9,358.8 784.8,357.4" fill="#176d8c"/>
<polygon points="743,528.1 788.4,506.6 787.9,358.8 741.4,379.2" fill="#1b81a6"/>
<polygon points="748.6,530.9 751.6,532.5 750.1,378.8 747.1,377.3" fill="#0d3b4c"/>
<polygon points="747.1,377.3 750.1,378.8 796.6,358.3 793.6,356.8" fill="#176d8c"/>
<polygon points="751.6,532.5 797,511 796.6,358.3 750.1,378.8" fill="#1b81a6"/>
<polygon points="757.2,535.4 760.2,537 759,380.4 755.9,378.9" fill="#0d3b4c"/>
<polygon points="755.9,378.9 759,380.4 805.5,359.8 802.5,358.4" fill="#176d8c"/>
<polygon points="760.2,537 805.7,515.4 805.5,359.8 759,380.4" fill="#1b81a6"/>
<polygon points="766,539.9 769,541.5 768,382.5 764.9,381" fill="#0d3b4c"/>
<polygon points="764.9,381 768,382.5 814.5,361.8 811.4,360.4" fill="#176d8c"/>
<polygon points="769,541.5 814.4,519.8 814.5,361.8 768,382.5" fill="#1b81a6"/>
<polygon points="774.8,544.5 777.9,546.1 777,385.5 773.9,384" fill="#0d3b4c"/>
<polygon points="773.9,384 777,385.5 823.6,364.8 820.5,363.3" fill="#176d8c"/>
<polygon points="777.9,546.1 823.3,524.3 823.6,364.8 777,385.5" fill="#1b81a6"/>
<polygon points="783.7,549.1 786.8,550.7 786.2,388.5 783.1,387" fill="#0d3b4c"/>
<polygon points="783.1,387 786.2,388.5 832.8,367.7 829.7,366.3" fill="#176d8c"/>
<polygon points="786.8,550.7 832.2,528.8 832.8,367.7 786.2,388.5" fill="#1b81a6"/>
<polygon points="792.8,553.8 795.8,555.3 795.4,393.4 792.3,391.9" fill="#0d3b4c"/>
<polygon points="792.3,391.9 795.4,393.4 842,372.5 838.9,371" fill="#176d8c"/>
<polygon points="795.8,555.3 841.3,533.4 842,372.5 795.4,393.4" fill="#1b81a6"/>
<polygon points="801.9,558.5 804.9,560 804.8,398.6 801.6,397.1" fill="#0d3b4c"/>
<polygon points="801.6,397.1 804.8,398.6 851.4,377.6 848.2,376.2" fill="#176d8c"/>
<polygon points="804.9,560 850.4,538 851.4,377.6 804.8,398.6" fill="#1b81a6"/>
<polygon points="811,563.2 814.1,564.8 814.2,405.3 811,403.8" fill="#0d3b4c"/>
<polygon points="811,403.8 814.2,405.3 860.8,384.2 857.6,382.7" fill="#176d8c"/>
<polygon points="814.1,564.8 859.6,542.6 860.8,384.2 814.2,405.3" fill="#1b81a6"/>
<polygon points="820.3,568 823.4,569.6 823.7,412.7 820.5,411.2" fill="#0d3b4c"/>
<polygon points="820.5,411.2 823.7,412.7 870.3,391.6 867.1,390.1" fill="#176d8c"/>
<polygon points="823.4,569.6 868.9,547.4 870.3,391.6 823.7,412.7" fill="#1b81a6"/>
<polygon points="829.7,572.8 832.8,574.4 833.3,420.8 830.1,419.3" fill="#0d3b4c"/>
<polygon points="830.1,419.3 833.3,420.8 879.9,399.5 876.7,398" fill="#176d8c"/>
<polygon points="832.8,574.4 878.3,552.1 879.9,399.5 833.3,420.8" fill="#1b81a6"/>
<polygon points="839.2,577.7 842.3,579.3 843,432.9 839.8,431.4" fill="#0d3b4c"/>
<polygon points="839.8,431.4 843,432.9 889.5,411.4 886.3,409.9" fill="#176d8c"/>
<polygon points="842.3,579.3 887.8,556.9 889.5,411.4 843,432.9" fill="#1b81a6"/>
<polygon points="848.7,582.6 851.9,584.3 852.8,442.7 849.6,441.2" fill="#0f4b4c"/>
<polygon points="849.6,441.2 852.8,442.7 899.3,421.1 896.1,419.6" fill="#1c8a8c"/>
<polygon points="851.9,584.3 897.4,561.7 899.3,421.1 852.8,442.7" fill="#20a2a6"/>
<polygon points="858.4,587.6 861.5,589.3 862.6,453 859.4,451.4" fill="#0f4b4c"/>
<polygon points="859.4,451.4 862.6,453 909.1,431.3 905.9,429.8" fill="#1c8a8c"/>
<polygon points="861.5,589.3 907,566.6 909.1,431.3 862.6,453" fill="#20a2a6"/>
<polygon points="868.1,592.7 871.3,594.3 872.5,466 869.3,464.4" fill="#0f4b4c"/>
<polygon points="869.3,464.4 872.5,466 918.9,444.1 915.7,442.6" fill="#1c8a8c"/>
<polygon points="871.3,594.3 916.8,571.6 918.9,444.1 872.5,466" fill="#20a2a6"/>
<polygon points="878,597.7 881.2,599.4 882.5,478.8 879.2,477.2" fill="#0f4b4c"/>
<polygon points="879.2,477.2 882.5,478.8 928.9,456.8 925.6,455.2" fill="#1c8a8c"/>
<polygon points="881.2,599.4 926.7,576.6 928.9,456.8 882.5,478.8" fill="#20a2a6"/>
<polygon points="887.9,602.9 891.1,604.5 892.5,494.4 889.3,492.8" fill="#0f4b3c"/>
<polygon points="889.3,492.8 892.5,494.4 938.8,472.2 935.6,470.6" fill="#1c8a6e"/>
<polygon points="891.1,604.5 936.7,581.6 938.8,472.2 892.5,494.4" fill="#20a282"/>
<polygon points="898,608.1 901.2,609.7 902.6,508.5 899.3,506.9" fill="#0f4b3c"/>
<polygon points="899.3,506.9 902.6,508.5 948.9,486.1 945.6,484.5" fill="#1c8a6e"/>
<polygon points="901.2,609.7 946.7,586.7 948.9,486.1 902.6,508.5" fill="#20a282"/>
<polygon points="908,613.3 911.3,614.9 912.7,523.4 909.4,521.8" fill="#0f4b3c"/>
<polygon points="909.4,521.8 912.7,523.4 958.9,500.9 955.6,499.3" fill="#1c8a6e"/>
<polygon points="911.3,614.9 956.8,591.8 958.9,500.9 912.7,523.4" fill="#20a282"/>
<polygon points="918.2,618.5 921.4,620.2 922.9,536 919.6,534.4" fill="#0f4b2d"/>
<polygon points="919.6,534.4 922.9,536 969,513.3 965.7,511.7" fill="#1c8a52"/>
<polygon points="921.4,620.2 967,596.9 969,513.3 922.9,536" fill="#20a262"/>
<polygon points="928.3,623.7 931.6,625.4 933.1,548.2 929.8,546.6" fill="#0f4b2d"/>
<polygon points="929.8,546.6 933.1,548.2 979.2,525.3 975.9,523.7" fill="#1c8a52"/>
<polygon points="931.6,625.4 977.1,602.1 979.2,525.3 933.1,548.2" fill="#20a262"/>
<polygon points="938.6,629 941.8,630.7 943.3,560.2 940,558.6" fill="#0f4b2d"/>
<polygon points="940,558.6 943.3,560.2 989.3,537.2 986,535.6" fill="#1c8a52"/>
<polygon points="941.8,630.7 987.4,607.2 989.3,537.2 943.3,560.2" fill="#20a262"/>
<polygon points="948.8,634.3 952.1,636 953.5,572.3 950.2,570.6" fill="#0f4b2d"/>
<polygon points="950.2,570.6 953.5,572.3 999.5,549.1 996.2,547.5" fill="#1c8a52"/>
<polygon points="952.1,636 997.7,612.4 999.5,549.1 953.5,572.3" fill="#20a262"/>
<polygon points="959.1,639.6 962.4,641.3 963.8,584.3 960.5,582.7" fill="#0f4b1e"/>
<polygon points="960.5,582.7 963.8,584.3 1009.8,561 1006.4,559.4" fill="#1c8a37"/>
<polygon points="962.4,641.3 1008,617.7 1009.8,561 963.8,584.3" fill="#20a241"/>
<polygon points="969.5,645 972.8,646.7 974.1,595.6 970.8,593.9" fill="#0f4b1e"/>
<polygon points="970.8,593.9 974.1,595.6 1020,572.2 1016.7,570.5" fill="#1c8a37"/>
<polygon points="972.8,646.7 1018.4,622.9 1020,572.2 974.1,595.6" fill="#20a241"/>
<polygon points="979.9,650.4 983.3,652.1 984.5,606.3 981.2,604.6" fill="#0f4b1e"/>
<polygon points="981.2,604.6 984.5,606.3 1030.4,582.7 1027,581" fill="#1c8a37"/>
<polygon points="983.3,652.1 1028.8,628.2 1030.4,582.7 984.5,606.3" fill="#20a241"/>
<polygon points="990.4,655.8 993.7,657.5 994.9,616.4 991.6,614.7" fill="#0f4b1e"/>
<polygon points="991.6,614.7 994.9,616.4 1040.8,592.6 1037.4,590.9" fill="#1c8a37"/>
<polygon points="993.7,657.5 1039.3,633.5 1040.8,592.6 994.9,616.4" fill="#20a241"/>
<polygon points="1000.9,661.2 1004.3,662.9 1005.4,626.1 1002,624.4" fill="#0f4b1e"/>
<polygon points="1002,624.4 1005.4,626.1 1051.2,602.2 1047.8,600.6" fill="#1c8a37"/>
<polygon points="1004.3,662.9 1049.8,638.8 1051.2,602.2 1005.4,626.1" fill="#20a241"/>
<polygon points="1011.5,666.6 1014.9,668.4 1015.9,635.3 1012.5,633.6" fill="#0f4b1e"/>
<polygon points="1012.5,633.6 1015.9,635.3 1061.7,611.3 1058.3,609.6" fill="#1c8a37"/>
<polygon points="1014.9,668.4 1060.4,644.2 1061.7,611.3 1015.9,635.3" fill="#20a241"/>
<polygon points="1022.1,672.1 1025.5,673.9 1026.5,644.4 1023.1,642.7" fill="#0f4b1e"/>
<polygon points="1023.1,642.7 1026.5,644.4 1072.3,620.2 1068.8,618.5" fill="#1c8a37"/>
<polygon points="1025.5,673.9 1071,649.5 1072.3,620.2 1026.5,644.4" fill="#20a241"/>
<polygon points="1032.8,677.6 1036.2,679.4 1037.1,653.7 1033.7,652" fill="#0f4b0f"/>
<polygon points="1033.7,652 1037.1,653.7 1082.8,629.4 1079.4,627.7" fill="#1c8a1c"/>
<polygon points="1036.2,679.4 1081.7,654.9 1082.8,629.4 1037.1,653.7" fill="#20a220"/>
<polygon points="1043.5,683.2 1046.9,684.9 1047.7,663.1 1044.3,661.4" fill="#0f4b0f"/>
<polygon points="1044.3,661.4 1047.7,663.1 1093.4,638.7 1090,637" fill="#1c8a1c"/>
<polygon points="1046.9,684.9 1092.5,660.4 1093.4,638.7 1047.7,663.1" fill="#20a220"/>
<polygon points="1054.2,688.7 1057.7,690.5 1058.4,671.3 1055,669.5" fill="#0f4b0f"/>
<polygon points="1055,669.5 1058.4,671.3 1104.1,646.7 1100.7,645" fill="#1c8a1c"/>
<polygon points="1057.7,690.5 1103.2,665.8 1104.1,646.7 1058.4,671.3" fill="#20a220"/>
<polygon points="1065.1,694.3 1068.5,696.1 1069.2,679.3 1065.8,677.5" fill="#0f4b0f"/>
<polygon points="1065.8,677.5 1069.2,679.3 1114.9,654.6 1111.4,652.9" fill="#1c8a1c"/>
<polygon points="1068.5,696.1 1114.1,671.3 1114.9,654.6 1069.2,679.3" fill="#20a220"/>
<polygon points="1075.9,699.9 1079.4,701.7 1080,687.2 1076.6,685.4" fill="#0f4b0f"/>
<polygon points="1076.6,685.4 1080,687.2 1125.7,662.3 1122.2,660.6" fill="#1c8a1c"/>
<polygon points="1079.4,701.7 1125,676.8 1125.7,662.3 1080,687.2" fill="#20a220"/>
<polygon points="1086.9,705.6 1090.4,707.4 1090.9,695.1 1087.4,693.3" fill="#0f4b0f"/>
<polygon points="1087.4,693.3 1090.9,695.1 1136.5,670.1 1133,668.4" fill="#1c8a1c"/>
<polygon points="1090.4,707.4 1135.9,682.3 1136.5,670.1 1090.9,695.1" fill="#20a220"/>
<polygon points="1097.9,711.2 1101.4,713 1101.9,702.2 1098.4,700.3" fill="#0f4b0f"/>
<polygon points="1098.4,700.3 1101.9,702.2 1147.5,677 1144,675.3" fill="#1c8a1c"/>
<polygon points="1101.4,713 1146.9,687.9 1147.5,677 1101.9,702.2" fill="#20a220"/>
<polygon points="1108.9,716.9 1112.4,718.7 1112.9,709.2 1109.3,707.4" fill="#0f4b0f"/>
<polygon points="1109.3,707.4 1112.9,709.2 1158.5,684 1154.9,682.2" fill="#1c8a1c"/>
<polygon points="1112.4,718.7 1157.9,693.5 1158.5,684 1112.9,709.2" fill="#20a220"/>
<polygon points="1120,722.7 1123.5,724.5 1123.9,716 1120.4,714.2" fill="#0f4b0f"/>
<polygon points="1120.4,714.2 1123.9,716 1169.5,690.7 1166,688.9" fill="#1c8a1c"/>
<polygon points="1123.5,724.5 1169,699.1 1169.5,690.7 1123.9,716" fill="#20a220"/>
<polygon points="1131.1,728.4 1134.7,730.2 1135.1,722.9 1131.5,721.1" fill="#0f4b0f"/>
<polygon points="1131.5,721.1 1135.1,722.9 1180.6,697.4 1177.1,695.6" fill="#1c8a1c"/>
<polygon points="1134.7,730.2 1180.2,704.7 1180.6,697.4 1135.1,722.9" fill="#20a220"/>
<polygon points="1142.3,734.2 1145.9,736 1146.3,729.4 1142.7,727.6" fill="#0f4b0f"/>
<polygon points="1142.7,727.6 1146.3,729.4 1191.8,703.8 1188.2,702" fill="#1c8a1c"/>
<polygon points="1145.9,736 1191.4,710.4 1191.8,703.8 1146.3,729.4" fill="#20a220"/>
<polygon points="1153.6,740 1157.2,741.8 1157.5,736 1153.9,734.1" fill="#0f4b0f"/>
<polygon points="1153.9,734.1 1157.5,736 1203,710.2 1199.4,708.4" fill="#1c8a1c"/>
<polygon points="1157.2,741.8 1202.7,716.1 1203,710.2 1157.5,736" fill="#20a220"/>
<polygon points="1164.9,745.8 1168.5,747.7 1168.8,742.3 1165.2,740.4" fill="#0f4b0f"/>
<polygon points="1165.2,740.4 1168.8,742.3 1214.3,716.4 1210.7,714.6" fill="#1c8a1c"/>
<polygon points="1168.5,747.7 1214,721.8 1214.3,716.4 1168.8,742.3" fill="#20a220"/>
<polygon points="1176.2,751.7 1179.9,753.6 1180.2,748.6 1176.5,746.8" fill="#0f4b0f"/>
<polygon points="1176.5,746.8 1180.2,748.6 1225.7,722.6 1222,720.8" fill="#1c8a1c"/>
<polygon points="1179.9,753.6 1225.4,727.5 1225.7,722.6 1180.2,748.6" fill="#20a220"/>
<polygon points="1187.7,757.6 1191.3,759.5 1191.5,755.7 1187.9,753.8" fill="#0f4b0f"/>
<polygon points="1187.9,753.8 1191.5,755.7 1237,729.5 1233.4,727.7" fill="#1c8a1c"/>
<polygon points="1191.3,759.5 1236.8,733.3 1237,729.5 1191.5,755.7" fill="#20a220"/>
<polygon points="1194.6,761.2 1198.3,763.1 1198.5,760.1 1194.8,758.2" fill="#0f4b0f"/>
<polygon points="1194.8,758.2 1198.5,760.1 1244,733.9 1240.3,732" fill="#1c8a1c"/>
<polygon points="1198.3,763.1 1243.8,736.8 1244,733.9 1198.5,760.1" fill="#20a220"/>
<polygon points="576.6,797.2 583.2,801.2 572.1,502.4 565.2,498.7" fill="#7f0505"/>
<polygon points="565.2,498.7 572.1,502.4 618.6,481.5 611.7,477.9" fill="#710404"/>
<polygon points="583.2,801.2 627.4,778.5 618.6,481.5 572.1,502.4" fill="#850505"/>
<polygon points="585.1,735.9 586.1,736.5 577.8,505.4 576.7,504.9" fill="#845804"/>
<polygon points="576.7,504.9 577.8,505.4 624.3,484.5 623.2,483.9" fill="#815704"/>
<polygon points="586.1,736.5 630.9,714.2 624.3,484.5 577.8,505.4" fill="#996705"/>
<polygon points="586.9,711.5 587.9,712.1 580.6,506.9 579.6,506.4" fill="#897306"/>
<polygon points="579.6,506.4 580.6,506.9 627.1,485.9 626.1,485.4" fill="#877106"/>
<polygon points="587.9,712.1 632.9,689.9 627.1,485.9 580.6,506.9" fill="#9f8506"/>
<polygon points="588.8,686.9 589.8,687.5 583.4,508.4 582.4,507.9" fill="#8f8f08"/>
<polygon points="582.4,507.9 583.4,508.4 629.9,487.4 628.9,486.9" fill="#8c8c08"/>
<polygon points="589.8,687.5 634.9,665.3 629.9,487.4 583.4,508.4" fill="#a6a60a"/>
<polygon points="590.9,656.9 591.9,657.5 586.8,510.2 585.8,509.7" fill="#7b8c06"/>
<polygon points="585.8,509.7 586.8,510.2 633.3,489.2 632.3,488.6" fill="#798a06"/>
<polygon points="591.9,657.5 637.3,635.6 633.3,489.2 586.8,510.2" fill="#8fa206"/>
<polygon points="594.4,627.4 595.4,627.9 591.4,512.7 590.4,512.2" fill="#688c06"/>
<polygon points="590.4,512.2 591.4,512.7 638,491.6 636.9,491.1" fill="#668a06"/>
<polygon points="595.4,627.9 641,606.1 638,491.6 591.4,512.7" fill="#79a206"/>
<polygon points="598.5,603.1 599.6,603.7 596.6,515.5 595.6,514.9" fill="#558c06"/>
<polygon points="595.6,514.9 596.6,515.5 643.2,494.3 642.1,493.8" fill="#548a06"/>
<polygon points="599.6,603.7 645.4,582 643.2,494.3 596.6,515.5" fill="#63a206"/>
<polygon points="603,584.1 604,584.7 601.8,518.2 600.8,517.7" fill="#428c06"/>
<polygon points="600.8,517.7 601.8,518.2 648.4,497 647.3,496.5" fill="#418a06"/>
<polygon points="604,584.7 650,563.1 648.4,497 601.8,518.2" fill="#4da206"/>
<polygon points="607.5,567.7 608.5,568.3 607,521 606,520.5" fill="#2f8c03"/>
<polygon points="606,520.5 607,521 653.6,499.7 652.5,499.2" fill="#2e8a03"/>
<polygon points="608.5,568.3 654.7,546.7 653.6,499.7 607,521" fill="#37a203"/>
<polygon points="611.1,553.4 612.2,553.9 611.2,523.2 610.2,522.7" fill="#2f8c03"/>
<polygon points="610.2,522.7 611.2,523.2 657.8,501.9 656.7,501.4" fill="#2e8a03"/>
<polygon points="612.2,553.9 658.5,532.4 657.8,501.9 611.2,523.2" fill="#37a203"/>
<polygon points="614.8,538.9 615.8,539.5 615.4,525.5 614.4,524.9" fill="#1c8c00"/>
<polygon points="614.4,524.9 615.4,525.5 662,504.1 660.9,503.6" fill="#1c8a00"/>
<polygon points="615.8,539.5 662.3,518 662,504.1 615.4,525.5" fill="#20a200"/>
<polygon points="617.3,526.4 620.1,528 619.8,517.3 616.9,515.8" fill="#0f4b0f"/>
<polygon points="616.9,515.8 619.8,517.3 666.5,496 663.6,494.5" fill="#1c8a1c"/>
<polygon points="620.1,528 666.7,506.6 666.5,496 619.8,517.3" fill="#20a220"/>
<polygon points="625.3,530.7 628.2,532.2 627,489.8 624,488.3" fill="#0f4b1e"/>
<polygon points="624,488.3 627,489.8 673.9,468.6 670.9,467.1" fill="#1c8a37"/>
<polygon points="628.2,532.2 674.8,510.8 673.9,468.6 627,489.8" fill="#20a241"/>
<polygon points="633.4,535 636.3,536.5 634.1,457.7 631.2,456.1" fill="#0f4b2d"/>
<polygon points="631.2,456.1 634.1,457.7 681.3,436.6 678.4,435.1" fill="#1c8a52"/>
<polygon points="636.3,536.5 682.9,515 681.3,436.6 634.1,457.7" fill="#20a262"/>
<polygon points="641.5,539.3 644.4,540.9 641.5,428.6 638.5,427.1" fill="#0f4b3c"/>
<polygon points="638.5,427.1 641.5,428.6 689,407.7 686,406.2" fill="#1c8a6e"/>
<polygon points="644.4,540.9 691.1,519.2 689,407.7 641.5,428.6" fill="#20a282"/>
<polygon points="649.8,543.7 652.7,545.3 649.4,412.8 646.4,411.3" fill="#0f4b4c"/>
<polygon points="646.4,411.3 649.4,412.8 697,391.9 694,390.4" fill="#1c8a8c"/>
<polygon points="652.7,545.3 699.3,523.5 697,391.9 649.4,412.8" fill="#20a2a6"/>
<polygon points="658.1,548.2 661,549.7 657.5,400.4 654.5,398.9" fill="#0d3b4c"/>
<polygon points="654.5,398.9 657.5,400.4 705.3,379.6 702.3,378.1" fill="#176d8c"/>
<polygon points="661,549.7 707.7,527.9 705.3,379.6 657.5,400.4" fill="#1b81a6"/>
<polygon points="666.5,552.6 669.5,554.2 665.8,390.5 662.8,389" fill="#0d3b4c"/>
<polygon points="662.8,389 665.8,390.5 713.7,369.7 710.7,368.2" fill="#176d8c"/>
<polygon points="669.5,554.2 716.1,532.3 713.7,369.7 665.8,390.5" fill="#1b81a6"/>
<polygon points="675,557.1 677.9,558.7 674.3,383.9 671.3,382.4" fill="#0a2c4c"/>
<polygon points="671.3,382.4 674.3,383.9 722.3,363.1 719.2,361.6" fill="#12518c"/>
<polygon points="677.9,558.7 724.6,536.7 722.3,363.1 674.3,383.9" fill="#1560a6"/>
<polygon points="683.5,561.7 686.5,563.3 683,380.2 679.9,378.7" fill="#0a2c4c"/>
<polygon points="679.9,378.7 683,380.2 731,359.3 727.9,357.8" fill="#12518c"/>
<polygon points="686.5,563.3 733.2,541.2 731,359.3 683,380.2" fill="#1560a6"/>
<polygon points="692.2,566.3 695.2,567.9 691.8,379.4 688.7,377.9" fill="#0a2c4c"/>
<polygon points="688.7,377.9 691.8,379.4 739.9,358.4 736.8,357" fill="#12518c"/>
<polygon points="695.2,567.9 741.9,545.7 739.9,358.4 691.8,379.4" fill="#1560a6"/>
<polygon points="700.9,570.9 703.9,572.5 700.7,379.1 697.6,377.6" fill="#0a2c4c"/>
<polygon points="697.6,377.6 700.7,379.1 748.8,358.1 745.7,356.6" fill="#12518c"/>
<polygon points="703.9,572.5 750.6,550.3 748.8,358.1 700.7,379.1" fill="#1560a6"/>
<polygon points="709.7,575.6 712.8,577.2 709.7,381.4 706.6,379.9" fill="#0a2c4c"/>
<polygon points="706.6,379.9 709.7,381.4 757.9,360.3 754.8,358.8" fill="#12518c"/>
<polygon points="712.8,577.2 759.5,554.9 757.9,360.3 709.7,381.4" fill="#1560a6"/>
<polygon points="718.7,580.4 721.7,582 718.9,383.7 715.8,382.2" fill="#0a2c4c"/>
<polygon points="715.8,382.2 718.9,383.7 767.1,362.6 764,361.1" fill="#12518c"/>
<polygon points="721.7,582 768.4,559.5 767.1,362.6 718.9,383.7" fill="#1560a6"/>
<polygon points="727.6,585.1 730.7,586.8 728.2,388.4 725,386.8" fill="#0a2c4c"/>
<polygon points="725,386.8 728.2,388.4 776.4,367.1 773.3,365.6" fill="#12518c"/>
<polygon points="730.7,586.8 777.4,564.2 776.4,367.1 728.2,388.4" fill="#1560a6"/>
<polygon points="736.7,590 739.8,591.6 737.6,393.5 734.4,391.9" fill="#0a2c4c"/>
<polygon points="734.4,391.9 737.6,393.5 785.8,372.1 782.6,370.6" fill="#12518c"/>
<polygon points="739.8,591.6 786.5,568.9 785.8,372.1 737.6,393.5" fill="#1560a6"/>
<polygon points="745.9,594.9 749,596.5 747.1,399.7 743.9,398.1" fill="#0a2c4c"/>
<polygon points="743.9,398.1 747.1,399.7 795.3,378.2 792.1,376.7" fill="#12518c"/>
<polygon points="749,596.5 795.7,573.7 795.3,378.2 747.1,399.7" fill="#1560a6"/>
<polygon points="755.2,599.8 758.3,601.4 756.6,406.4 753.5,404.9" fill="#0a2c4c"/>
<polygon points="753.5,404.9 756.6,406.4 804.8,384.9 801.7,383.4" fill="#12518c"/>
<polygon points="758.3,601.4 805,578.6 804.8,384.9 756.6,406.4" fill="#1560a6"/>
<polygon points="764.5,604.8 767.6,606.4 766.3,413.7 763.1,412.1" fill="#0a2c4c"/>
<polygon points="763.1,412.1 766.3,413.7 814.5,392 811.3,390.5" fill="#12518c"/>
<polygon points="767.6,606.4 814.4,583.5 814.5,392 766.3,413.7" fill="#1560a6"/>
<polygon points="774,609.8 777.1,611.4 776.1,426 772.9,424.5" fill="#0a2c4c"/>
<polygon points="772.9,424.5 776.1,426 824.3,404.2 821,402.7" fill="#12518c"/>
<polygon points="777.1,611.4 823.9,588.4 824.3,404.2 776.1,426" fill="#1560a6"/>
<polygon points="783.5,614.9 786.7,616.5 786,439.2 782.8,437.6" fill="#0d3b4c"/>
<polygon points="782.8,437.6 786,439.2 834.1,417.2 830.9,415.7" fill="#176d8c"/>
<polygon points="786.7,616.5 833.5,593.4 834.1,417.2 786,439.2" fill="#1b81a6"/>
<polygon points="793.2,620 796.3,621.7 795.9,450.7 792.7,449.1" fill="#0d3b4c"/>
<polygon points="792.7,449.1 795.9,450.7 844,428.5 840.7,427" fill="#176d8c"/>
<polygon points="796.3,621.7 843.1,598.4 844,428.5 795.9,450.7" fill="#1b81a6"/>
<polygon points="802.9,625.2 806.1,626.9 805.9,464.4 802.7,462.8" fill="#0d3b4c"/>
<polygon points="802.7,462.8 805.9,464.4 854,442.1 850.7,440.6" fill="#176d8c"/>
<polygon points="806.1,626.9 852.9,603.5 854,442.1 805.9,464.4" fill="#1b81a6"/>
<polygon points="812.8,630.4 815.9,632.1 816,478.1 812.8,476.5" fill="#0d3b4c"/>
<polygon points="812.8,476.5 816,478.1 864,455.7 860.7,454.1" fill="#176d8c"/>
<polygon points="815.9,632.1 862.8,608.6 864,455.7 816,478.1" fill="#1b81a6"/>
<polygon points="822.7,635.7 825.9,637.4 826.2,492.8 823,491.2" fill="#0f4b4c"/>
<polygon points="823,491.2 826.2,492.8 874.1,470.2 870.8,468.6" fill="#1c8a8c"/>
<polygon points="825.9,637.4 872.7,613.8 874.1,470.2 826.2,492.8" fill="#20a2a6"/>
<polygon points="832.7,641 835.9,642.7 836.5,505.2 833.2,503.6" fill="#0f4b4c"/>
<polygon points="833.2,503.6 836.5,505.2 884.3,482.5 881,480.9" fill="#1c8a8c"/>
<polygon points="835.9,642.7 882.8,619 884.3,482.5 836.5,505.2" fill="#20a2a6"/>
<polygon points="842.8,646.4 846,648.1 846.7,517.8 843.4,516.1" fill="#0f4b4c"/>
<polygon points="843.4,516.1 846.7,517.8 894.5,494.8 891.2,493.2" fill="#1c8a8c"/>
<polygon points="846,648.1 892.9,624.3 894.5,494.8 846.7,517.8" fill="#20a2a6"/>
<polygon points="852.9,651.8 856.1,653.5 857,530 853.7,528.3" fill="#0f4b4c"/>
<polygon points="853.7,528.3 857,530 904.8,506.9 901.5,505.3" fill="#1c8a8c"/>
<polygon points="856.1,653.5 903,629.6 904.8,506.9 857,530" fill="#20a2a6"/>
<polygon points="863.1,657.2 866.3,658.9 867.3,542.1 864,540.4" fill="#0f4b3c"/>
<polygon points="864,540.4 867.3,542.1 915.1,518.8 911.7,517.2" fill="#1c8a6e"/>
<polygon points="866.3,658.9 913.2,634.9 915.1,518.8 867.3,542.1" fill="#20a282"/>
<polygon points="873.3,662.6 876.5,664.3 877.7,553.6 874.4,551.9" fill="#0f4b3c"/>
<polygon points="874.4,551.9 877.7,553.6 925.4,530.2 922,528.6" fill="#1c8a6e"/>
<polygon points="876.5,664.3 923.4,640.2 925.4,530.2 877.7,553.6" fill="#20a282"/>
<polygon points="883.5,668.1 886.8,669.8 888.1,564.6 884.7,562.9" fill="#0f4b3c"/>
<polygon points="884.7,562.9 888.1,564.6 935.7,541.1 932.4,539.4" fill="#1c8a6e"/>
<polygon points="886.8,669.8 933.7,645.5 935.7,541.1 888.1,564.6" fill="#20a282"/>
<polygon points="893.8,673.5 897.1,675.3 898.5,575.6 895.2,573.9" fill="#0f4b3c"/>
<polygon points="895.2,573.9 898.5,575.6 946.1,551.9 942.8,550.3" fill="#1c8a6e"/>
<polygon points="897.1,675.3 944,650.9 946.1,551.9 898.5,575.6" fill="#20a282"/>
<polygon points="904.2,679 907.5,680.8 909,586.2 905.6,584.5" fill="#0f4b3c"/>
<polygon points="905.6,584.5 909,586.2 956.5,562.4 953.2,560.7" fill="#1c8a6e"/>
<polygon points="907.5,680.8 954.4,656.3 956.5,562.4 909,586.2" fill="#20a282"/>
<polygon points="914.6,684.6 917.9,686.4 919.5,596.6 916.1,594.8" fill="#0f4b3c"/>
<polygon points="916.1,594.8 919.5,596.6 967,572.6 963.6,570.9" fill="#1c8a6e"/>
<polygon points="917.9,686.4 964.8,661.8 967,572.6 919.5,596.6" fill="#20a282"/>
<polygon points="925.1,690.1 928.4,691.9 930,606.7 926.6,604.9" fill="#0f4b2d"/>
<polygon points="926.6,604.9 930,606.7 977.5,582.5 974.1,580.8" fill="#1c8a52"/>
<polygon points="928.4,691.9 975.3,667.2 977.5,582.5 930,606.7" fill="#20a262"/>
<polygon points="935.6,695.7 939,697.5 940.6,616.6 937.2,614.8" fill="#0f4b2d"/>
<polygon points="937.2,614.8 940.6,616.6 988.1,592.3 984.7,590.6" fill="#1c8a52"/>
<polygon points="939,697.5 985.9,672.7 988.1,592.3 940.6,616.6" fill="#20a262"/>
<polygon points="946.2,701.4 949.5,703.1 951.2,626.2 947.8,624.5" fill="#0f4b2d"/>
<polygon points="947.8,624.5 951.2,626.2 998.7,601.8 995.3,600.1" fill="#1c8a52"/>
<polygon points="949.5,703.1 996.4,678.2 998.7,601.8 951.2,626.2" fill="#20a262"/>
<polygon points="956.8,707 960.2,708.8 961.9,635.8 958.5,634" fill="#0f4b2d"/>
<polygon points="958.5,634 961.9,635.8 1009.3,611.2 1005.9,609.5" fill="#1c8a52"/>
<polygon points="960.2,708.8 1007.1,683.7 1009.3,611.2 961.9,635.8" fill="#20a262"/>
<polygon points="967.4,712.7 970.8,714.5 972.6,645.5 969.2,643.7" fill="#0f4b2d"/>
<polygon points="969.2,643.7 972.6,645.5 1020,620.8 1016.6,619" fill="#1c8a52"/>
<polygon points="970.8,714.5 1017.7,689.3 1020,620.8 972.6,645.5" fill="#20a262"/>
<polygon points="978.1,718.4 981.6,720.2 983.4,655.3 979.9,653.5" fill="#0f4b2d"/>
<polygon points="979.9,653.5 983.4,655.3 1030.7,630.4 1027.3,628.7" fill="#1c8a52"/>
<polygon points="981.6,720.2 1028.5,694.9 1030.7,630.4 983.4,655.3" fill="#20a262"/>
<polygon points="988.9,724.1 992.4,725.9 994.2,664.4 990.7,662.6" fill="#0f4b2d"/>
<polygon points="990.7,662.6 994.2,664.4 1041.5,639.4 1038,637.6" fill="#1c8a52"/>
<polygon points="992.4,725.9 1039.3,700.5 1041.5,639.4 994.2,664.4" fill="#20a262"/>
<polygon points="999.7,729.9 1003.2,731.7 1005,672.4 1001.5,670.6" fill="#0f4b1e"/>
<polygon points="1001.5,670.6 1005,672.4 1052.4,647.2 1048.9,645.4" fill="#1c8a37"/>
<polygon points="1003.2,731.7 1050.1,706.1 1052.4,647.2 1005,672.4" fill="#20a241"/>
<polygon points="1010.6,735.6 1014.1,737.5 1016,680.1 1012.5,678.3" fill="#0f4b1e"/>
<polygon points="1012.5,678.3 1016,680.1 1063.3,654.8 1059.8,653" fill="#1c8a37"/>
<polygon points="1014.1,737.5 1061,711.8 1063.3,654.8 1016,680.1" fill="#20a241"/>
<polygon points="1021.5,741.4 1025,743.3 1027,687.8 1023.4,686" fill="#0f4b1e"/>
<polygon points="1023.4,686 1027,687.8 1074.3,662.4 1070.7,660.6" fill="#1c8a37"/>
<polygon points="1025,743.3 1071.9,717.5 1074.3,662.4 1027,687.8" fill="#20a241"/>
<polygon points="1032.5,747.3 1036,749.2 1038,695.1 1034.5,693.3" fill="#0f4b1e"/>
<polygon points="1034.5,693.3 1038,695.1 1085.3,669.6 1081.7,667.8" fill="#1c8a37"/>
<polygon points="1036,749.2 1082.9,723.2 1085.3,669.6 1038,695.1" fill="#20a241"/>
<polygon points="1043.6,753.2 1047.1,755 1049.1,702.4 1045.5,700.6" fill="#0f4b1e"/>
<polygon points="1045.5,700.6 1049.1,702.4 1096.4,676.7 1092.8,674.9" fill="#1c8a37"/>
<polygon points="1047.1,755 1094,729 1096.4,676.7 1049.1,702.4" fill="#20a241"/>
<polygon points="1054.7,759.1 1058.2,760.9 1060.3,709.6 1056.7,707.8" fill="#0f4b1e"/>
<polygon points="1056.7,707.8 1060.3,709.6 1107.5,683.8 1103.9,681.9" fill="#1c8a37"/>
<polygon points="1058.2,760.9 1105.1,734.8 1107.5,683.8 1060.3,709.6" fill="#20a241"/>
<polygon points="1065.8,765 1069.4,766.9 1071.5,716.8 1067.9,714.9" fill="#0f4b1e"/>
<polygon points="1067.9,714.9 1071.5,716.8 1118.7,690.8 1115.1,689" fill="#1c8a37"/>
<polygon points="1069.4,766.9 1116.3,740.6 1118.7,690.8 1071.5,716.8" fill="#20a241"/>
<polygon points="1077,770.9 1080.6,772.9 1082.7,723.9 1079.1,722" fill="#0f4b1e"/>
<polygon points="1079.1,722 1082.7,723.9 1130,697.8 1126.4,695.9" fill="#1c8a37"/>
<polygon points="1080.6,772.9 1127.5,746.4 1130,697.8 1082.7,723.9" fill="#20a241"/>
<polygon points="1088.3,776.9 1091.9,778.8 1094.1,730.9 1090.4,729" fill="#0f4b1e"/>
<polygon points="1090.4,729 1094.1,730.9 1141.3,704.7 1137.6,702.8" fill="#1c8a37"/>
<polygon points="1091.9,778.8 1138.8,752.3 1141.3,704.7 1094.1,730.9" fill="#20a241"/>
<polygon points="1099.6,783 1103.2,784.9 1105.4,737.9 1101.8,736" fill="#0f4b1e"/>
<polygon points="1101.8,736 1105.4,737.9 1152.6,711.5 1149,709.6" fill="#1c8a37"/>
<polygon points="1103.2,784.9 1150.1,758.2 1152.6,711.5 1105.4,737.9" fill="#20a241"/>
<polygon points="1111,789 1114.6,790.9 1116.9,745.1 1113.2,743.2" fill="#0f4b1e"/>
<polygon points="1113.2,743.2 1116.9,745.1 1164.1,718.6 1160.4,716.7" fill="#1c8a37"/>
<polygon points="1114.6,790.9 1161.5,764.1 1164.1,718.6 1116.9,745.1" fill="#20a241"/>
<polygon points="1122.4,795.1 1126.1,797 1128.3,753.1 1124.6,751.2" fill="#0f4b1e"/>
<polygon points="1124.6,751.2 1128.3,753.1 1175.5,726.4 1171.8,724.6" fill="#1c8a37"/>
<polygon points="1126.1,797 1172.9,770.1 1175.5,726.4 1128.3,753.1" fill="#20a241"/>
<polygon points="1129.4,798.8 1133.1,800.7 1135.3,758.1 1131.6,756.1" fill="#0f4b1e"/>
<polygon points="1131.6,756.1 1135.3,758.1 1182.4,731.3 1178.8,729.4" fill="#1c8a37"/>
<polygon points="1133.1,800.7 1179.9,773.7 1182.4,731.3 1135.3,758.1" fill="#20a241"/>
<polygon points="513.3,829.4 519.9,833.6 505.6,532.3 498.7,528.6" fill="#7f0505"/>
<polygon points="498.7,528.6 505.6,532.3 553.3,510.9 546.4,507.2" fill="#710404"/>
<polygon points="519.9,833.6 565.3,810.3 553.3,510.9 505.6,532.3" fill="#850505"/>
<polygon points="521.1,767.9 522.1,768.5 511.2,535.4 510.2,534.9" fill="#845804"/>
<polygon points="510.2,534.9 511.2,535.4 559,513.9 557.9,513.3" fill="#815704"/>
<polygon points="522.1,768.5 568.1,745.5 559,513.9 511.2,535.4" fill="#996705"/>
<polygon points="522.6,743.3 523.6,743.9 514,537 513,536.4" fill="#897306"/>
<polygon points="513,536.4 514,537 561.8,515.4 560.8,514.9" fill="#877106"/>
<polygon points="523.6,743.9 569.8,721.1 561.8,515.4 514,537" fill="#9f8506"/>
<polygon points="524.2,718.5 525.2,719.1 516.9,538.5 515.8,538" fill="#8f8f08"/>
<polygon points="515.8,538 516.9,538.5 564.6,516.9 563.6,516.4" fill="#8c8c08"/>
<polygon points="525.2,719.1 571.5,696.4 564.6,516.9 516.9,538.5" fill="#a6a60a"/>
<polygon points="525.9,688.3 527,688.9 520.2,540.4 519.2,539.8" fill="#7b8c06"/>
<polygon points="519.2,539.8 520.2,540.4 568,518.7 567,518.2" fill="#798a06"/>
<polygon points="527,688.9 573.6,666.4 568,518.7 520.2,540.4" fill="#8fa206"/>
<polygon points="529,658.6 530,659.1 524.9,542.9 523.8,542.4" fill="#688c06"/>
<polygon points="523.8,542.4 524.9,542.9 572.6,521.2 571.6,520.7" fill="#668a06"/>
<polygon points="530,659.1 576.9,636.7 572.6,521.2 524.9,542.9" fill="#79a206"/>
<polygon points="532.9,634.2 533.9,634.8 530,545.8 529,545.2" fill="#558c06"/>
<polygon points="529,545.2 530,545.8 577.8,524 576.8,523.5" fill="#548a06"/>
<polygon points="533.9,634.8 581,612.5 577.8,524 530,545.8" fill="#63a206"/>
<polygon points="537.1,615.1 538.1,615.7 535.2,548.6 534.2,548" fill="#428c06"/>
<polygon points="534.2,548 535.2,548.6 583,526.8 582,526.2" fill="#418a06"/>
<polygon points="538.1,615.7 585.4,593.4 583,526.8 535.2,548.6" fill="#4da206"/>
<polygon points="541.4,598.6 542.4,599.1 540.4,551.5 539.4,550.9" fill="#2f8c03"/>
<polygon points="539.4,550.9 540.4,551.5 588.2,529.6 587.2,529" fill="#2e8a03"/>
<polygon points="542.4,599.1 589.9,577 588.2,529.6 540.4,551.5" fill="#37a203"/>
<polygon points="544.8,584.1 545.9,584.7 544.6,553.7 543.5,553.2" fill="#2f8c03"/>
<polygon points="543.5,553.2 544.6,553.7 592.4,531.8 591.4,531.3" fill="#2e8a03"/>
<polygon points="545.9,584.7 593.5,562.6 592.4,531.8 544.6,553.7" fill="#37a203"/>
<polygon points="548.3,569.6 549.3,570.1 548.8,556 547.7,555.5" fill="#1c8c00"/>
<polygon points="547.7,555.5 548.8,556 596.6,534.1 595.6,533.5" fill="#1c8a00"/>
<polygon points="549.3,570.1 597.1,548.1 596.6,534.1 548.8,556" fill="#20a200"/>
<polygon points="550.6,557 553.5,558.6 553.1,549.5 550.2,547.9" fill="#0f4b0f"/>
<polygon points="550.2,547.9 553.1,549.5 601,527.6 598.1,526" fill="#1c8a1c"/>
<polygon points="553.5,558.6 601.3,536.6 601,527.6 553.1,549.5" fill="#20a220"/>
<polygon points="558.6,561.4 561.5,563 560.1,526.9 557.1,525.3" fill="#0f4b1e"/>
<polygon points="557.1,525.3 560.1,526.9 608.2,505 605.3,503.5" fill="#1c8a37"/>
<polygon points="561.5,563 609.3,540.9 608.2,505 560.1,526.9" fill="#20a241"/>
<polygon points="566.6,565.8 569.5,567.4 567,500.9 564.1,499.4" fill="#0f4b2d"/>
<polygon points="564.1,499.4 567,500.9 615.4,479.2 612.5,477.7" fill="#1c8a52"/>
<polygon points="569.5,567.4 617.4,545.3 615.4,479.2 567,500.9" fill="#20a262"/>
<polygon points="574.8,570.3 577.7,571.9 574.2,477.5 571.3,476" fill="#0f4b3c"/>
<polygon points="571.3,476 574.2,477.5 622.9,455.9 619.9,454.4" fill="#1c8a6e"/>
<polygon points="577.7,571.9 625.6,549.6 622.9,455.9 574.2,477.5" fill="#20a282"/>
<polygon points="583,574.8 585.9,576.4 582,464.2 579,462.7" fill="#0f4b3c"/>
<polygon points="579,462.7 582,464.2 630.8,442.6 627.8,441.1" fill="#1c8a6e"/>
<polygon points="585.9,576.4 633.9,554.1 630.8,442.6 582,464.2" fill="#20a282"/>
<polygon points="591.3,579.4 594.2,581 589.9,453.5 586.9,452" fill="#0f4b4c"/>
<polygon points="586.9,452 589.9,453.5 638.8,431.9 635.8,430.4" fill="#1c8a8c"/>
<polygon points="594.2,581 642.2,558.5 638.8,431.9 589.9,453.5" fill="#20a2a6"/>
<polygon points="599.7,584 602.6,585.6 598,444.7 595,443.2" fill="#0f4b4c"/>
<polygon points="595,443.2 598,444.7 647.1,423.1 644.1,421.6" fill="#1c8a8c"/>
<polygon points="602.6,585.6 650.6,563.1 647.1,423.1 598,444.7" fill="#20a2a6"/>
<polygon points="608.1,588.6 611.1,590.2 606.3,438.9 603.3,437.3" fill="#0d3b4c"/>
<polygon points="603.3,437.3 606.3,438.9 655.5,417.3 652.5,415.7" fill="#176d8c"/>
<polygon points="611.1,590.2 659.1,567.6 655.5,417.3 606.3,438.9" fill="#1b81a6"/>
<polygon points="616.7,593.3 619.7,594.9 614.9,435.5 611.8,434" fill="#0d3b4c"/>
<polygon points="611.8,434 614.9,435.5 664.1,413.9 661,412.4" fill="#176d8c"/>
<polygon points="619.7,594.9 667.7,572.2 664.1,413.9 614.9,435.5" fill="#1b81a6"/>
<polygon points="625.3,598 628.3,599.7 623.6,434.9 620.5,433.4" fill="#0d3b4c"/>
<polygon points="620.5,433.4 623.6,434.9 672.9,413.2 669.8,411.7" fill="#176d8c"/>
<polygon points="628.3,599.7 676.3,576.9 672.9,413.2 623.6,434.9" fill="#1b81a6"/>
<polygon points="634,602.8 637,604.4 632.4,434.8 629.3,433.2" fill="#0d3b4c"/>
<polygon points="629.3,433.2 632.4,434.8 681.7,413 678.6,411.4" fill="#176d8c"/>
<polygon points="637,604.4 685.1,581.5 681.7,413 632.4,434.8" fill="#1b81a6"/>
<polygon points="642.8,607.6 645.9,609.3 641.4,437.3 638.3,435.8" fill="#0d3b4c"/>
<polygon points="638.3,435.8 641.4,437.3 690.7,415.5 687.6,413.9" fill="#176d8c"/>
<polygon points="645.9,609.3 693.9,586.3 690.7,415.5 641.4,437.3" fill="#1b81a6"/>
<polygon points="651.7,612.5 654.7,614.2 650.4,439.9 647.3,438.4" fill="#0d3b4c"/>
<polygon points="647.3,438.4 650.4,439.9 699.9,418 696.7,416.5" fill="#176d8c"/>
<polygon points="654.7,614.2 702.8,591.1 699.9,418 650.4,439.9" fill="#1b81a6"/>
<polygon points="660.7,617.4 663.7,619.1 659.7,444.6 656.5,443" fill="#0d3b4c"/>
<polygon points="656.5,443 659.7,444.6 709.1,422.6 706,421" fill="#176d8c"/>
<polygon points="663.7,619.1 711.8,595.9 709.1,422.6 659.7,444.6" fill="#1b81a6"/>
<polygon points="669.8,622.4 672.8,624.1 669,449.7 665.9,448.1" fill="#0d3b4c"/>
<polygon points="665.9,448.1 669,449.7 718.4,427.6 715.3,426" fill="#176d8c"/>
<polygon points="672.8,624.1 720.9,600.8 718.4,427.6 669,449.7" fill="#1b81a6"/>
<polygon points="678.9,627.4 682,629.1 678.4,455.5 675.3,453.9" fill="#0d3b4c"/>
<polygon points="675.3,453.9 678.4,455.5 727.9,433.3 724.7,431.7" fill="#176d8c"/>
<polygon points="682,629.1 730.1,605.7 727.9,433.3 678.4,455.5" fill="#1b81a6"/>
<polygon points="688.2,632.5 691.2,634.2 688,461.7 684.8,460.1" fill="#0d3b4c"/>
<polygon points="684.8,460.1 688,461.7 737.4,439.4 734.2,437.8" fill="#176d8c"/>
<polygon points="691.2,634.2 739.4,610.7 737.4,439.4 688,461.7" fill="#1b81a6"/>
<polygon points="697.5,637.6 700.6,639.3 697.6,468.3 694.4,466.7" fill="#0d3b4c"/>
<polygon points="694.4,466.7 697.6,468.3 747,445.8 743.9,444.3" fill="#176d8c"/>
<polygon points="700.6,639.3 748.7,615.7 747,445.8 697.6,468.3" fill="#1b81a6"/>
<polygon points="706.9,642.8 710,644.5 707.4,479.4 704.2,477.8" fill="#0d3b4c"/>
<polygon points="704.2,477.8 707.4,479.4 756.8,456.8 753.6,455.2" fill="#176d8c"/>
<polygon points="710,644.5 758.2,620.8 756.8,456.8 707.4,479.4" fill="#1b81a6"/>
<polygon points="716.5,648 719.6,649.7 717.3,492.4 714.1,490.8" fill="#0d3b4c"/>
<polygon points="714.1,490.8 717.3,492.4 766.7,469.6 763.5,468" fill="#176d8c"/>
<polygon points="719.6,649.7 767.7,625.9 766.7,469.6 717.3,492.4" fill="#1b81a6"/>
<polygon points="726.1,653.3 729.2,655 727.2,503.2 724,501.5" fill="#0d3b4c"/>
<polygon points="724,501.5 727.2,503.2 776.6,480.3 773.4,478.6" fill="#176d8c"/>
<polygon points="729.2,655 777.4,631.1 776.6,480.3 727.2,503.2" fill="#1b81a6"/>
<polygon points="735.8,658.6 739,660.4 737.3,515.6 734.1,514" fill="#0f4b4c"/>
<polygon points="734.1,514 737.3,515.6 786.6,492.5 783.4,490.9" fill="#1c8a8c"/>
<polygon points="739,660.4 787.1,636.3 786.6,492.5 737.3,515.6" fill="#20a2a6"/>
<polygon points="745.6,664 748.8,665.7 747.4,528.1 744.2,526.4" fill="#0f4b4c"/>
<polygon points="744.2,526.4 747.4,528.1 796.7,504.9 793.4,503.2" fill="#1c8a8c"/>
<polygon points="748.8,665.7 797,641.6 796.7,504.9 747.4,528.1" fill="#20a2a6"/>
<polygon points="755.6,669.5 758.7,671.2 757.7,541.3 754.4,539.6" fill="#0f4b4c"/>
<polygon points="754.4,539.6 757.7,541.3 806.9,517.9 803.6,516.3" fill="#1c8a8c"/>
<polygon points="758.7,671.2 806.9,646.9 806.9,517.9 757.7,541.3" fill="#20a2a6"/>
<polygon points="765.6,674.9 768.8,676.7 767.9,553.5 764.7,551.8" fill="#0f4b4c"/>
<polygon points="764.7,551.8 767.9,553.5 817.1,529.9 813.8,528.3" fill="#1c8a8c"/>
<polygon points="768.8,676.7 817,652.3 817.1,529.9 767.9,553.5" fill="#20a2a6"/>
<polygon points="775.6,680.5 778.8,682.2 778.2,565.5 775,563.8" fill="#0f4b3c"/>
<polygon points="775,563.8 778.2,565.5 827.3,541.7 824.1,540.1" fill="#1c8a6e"/>
<polygon points="778.8,682.2 827.1,657.7 827.3,541.7 778.2,565.5" fill="#20a282"/>
<polygon points="785.7,686 789,687.8 788.6,577.9 785.3,576.2" fill="#0f4b3c"/>
<polygon points="785.3,576.2 788.6,577.9 837.6,554 834.3,552.3" fill="#1c8a6e"/>
<polygon points="789,687.8 837.2,663.1 837.6,554 788.6,577.9" fill="#20a282"/>
<polygon points="795.9,691.6 799.1,693.3 798.9,590.2 795.6,588.5" fill="#0f4b3c"/>
<polygon points="795.6,588.5 798.9,590.2 848,566.2 844.6,564.5" fill="#1c8a6e"/>
<polygon points="799.1,693.3 847.4,668.6 848,566.2 798.9,590.2" fill="#20a282"/>
<polygon points="806.1,697.2 809.3,698.9 809.3,601.9 806,600.2" fill="#0f4b3c"/>
<polygon points="806,600.2 809.3,601.9 858.3,577.7 855,576" fill="#1c8a6e"/>
<polygon points="809.3,698.9 857.6,674.1 858.3,577.7 809.3,601.9" fill="#20a282"/>
<polygon points="816.3,702.8 819.6,704.6 819.7,612.8 816.4,611.1" fill="#0f4b3c"/>
<polygon points="816.4,611.1 819.7,612.8 868.7,588.5 865.4,586.7" fill="#1c8a6e"/>
<polygon points="819.6,704.6 867.9,679.6 868.7,588.5 819.7,612.8" fill="#20a282"/>
<polygon points="826.6,708.4 829.9,710.2 830.2,623.8 826.8,622" fill="#0f4b2d"/>
<polygon points="826.8,622 830.2,623.8 879.1,599.3 875.8,597.5" fill="#1c8a52"/>
<polygon points="829.9,710.2 878.2,685.1 879.1,599.3 830.2,623.8" fill="#20a262"/>
<polygon points="837,714.1 840.3,715.9 840.7,634.4 837.3,632.6" fill="#0f4b2d"/>
<polygon points="837.3,632.6 840.7,634.4 889.6,609.7 886.2,608" fill="#1c8a52"/>
<polygon points="840.3,715.9 888.6,690.7 889.6,609.7 840.7,634.4" fill="#20a262"/>
<polygon points="847.4,719.8 850.7,721.6 851.2,644.9 847.8,643.1" fill="#0f4b2d"/>
<polygon points="847.8,643.1 851.2,644.9 900.1,620.1 896.7,618.3" fill="#1c8a52"/>
<polygon points="850.7,721.6 899,696.3 900.1,620.1 851.2,644.9" fill="#20a262"/>
<polygon points="857.8,725.5 861.2,727.4 861.7,655.3 858.4,653.5" fill="#0f4b2d"/>
<polygon points="858.4,653.5 861.7,655.3 910.6,630.3 907.2,628.5" fill="#1c8a52"/>
<polygon points="861.2,727.4 909.5,701.9 910.6,630.3 861.7,655.3" fill="#20a262"/>
<polygon points="868.3,731.3 871.7,733.1 872.3,665.5 868.9,663.7" fill="#0f4b2d"/>
<polygon points="868.9,663.7 872.3,665.5 921.2,640.4 917.8,638.6" fill="#1c8a52"/>
<polygon points="871.7,733.1 920,707.6 921.2,640.4 872.3,665.5" fill="#20a262"/>
<polygon points="878.9,737.1 882.3,738.9 883,675.5 879.6,673.7" fill="#0f4b2d"/>
<polygon points="879.6,673.7 883,675.5 931.8,650.3 928.4,648.5" fill="#1c8a52"/>
<polygon points="882.3,738.9 930.6,713.2 931.8,650.3 883,675.5" fill="#20a262"/>
<polygon points="889.5,742.9 892.9,744.8 893.7,685.5 890.2,683.7" fill="#0f4b1e"/>
<polygon points="890.2,683.7 893.7,685.5 942.4,660.1 939,658.3" fill="#1c8a37"/>
<polygon points="892.9,744.8 941.2,718.9 942.4,660.1 893.7,685.5" fill="#20a241"/>
<polygon points="900.1,748.8 903.6,750.6 904.4,695.7 900.9,693.8" fill="#0f4b1e"/>
<polygon points="900.9,693.8 904.4,695.7 953.1,670.1 949.7,668.3" fill="#1c8a37"/>
<polygon points="903.6,750.6 951.9,724.7 953.1,670.1 904.4,695.7" fill="#20a241"/>
<polygon points="910.9,754.6 914.3,756.5 915.1,705.9 911.7,704" fill="#0f4b1e"/>
<polygon points="911.7,704 915.1,705.9 963.8,680.1 960.4,678.3" fill="#1c8a37"/>
<polygon points="914.3,756.5 962.6,730.4 963.8,680.1 915.1,705.9" fill="#20a241"/>
<polygon points="921.6,760.5 925.1,762.4 925.9,715.6 922.5,713.7" fill="#0f4b1e"/>
<polygon points="922.5,713.7 925.9,715.6 974.6,689.7 971.1,687.8" fill="#1c8a37"/>
<polygon points="925.1,762.4 973.4,736.2 974.6,689.7 925.9,715.6" fill="#20a241"/>
<polygon points="932.4,766.5 935.9,768.4 936.8,723.7 933.3,721.8" fill="#0f4b1e"/>
<polygon points="933.3,721.8 936.8,723.7 985.5,697.7 982,695.8" fill="#1c8a37"/>
<polygon points="935.9,768.4 984.2,742 985.5,697.7 936.8,723.7" fill="#20a241"/>
<polygon points="943.3,772.4 946.8,774.3 947.7,731.6 944.2,729.7" fill="#0f4b1e"/>
<polygon points="944.2,729.7 947.7,731.6 996.4,705.4 992.9,703.6" fill="#1c8a37"/>
<polygon points="946.8,774.3 995.1,747.9 996.4,705.4 947.7,731.6" fill="#20a241"/>
<polygon points="954.2,778.4 957.7,780.3 958.7,739.5 955.2,737.6" fill="#0f4b1e"/>
<polygon points="955.2,737.6 958.7,739.5 1007.3,713.2 1003.8,711.3" fill="#1c8a37"/>
<polygon points="957.7,780.3 1006.1,753.7 1007.3,713.2 958.7,739.5" fill="#20a241"/>
<polygon points="965.2,784.4 968.7,786.4 969.7,747.1 966.2,745.1" fill="#0f4b1e"/>
<polygon points="966.2,745.1 969.7,747.1 1018.4,720.6 1014.8,718.7" fill="#1c8a37"/>
<polygon points="968.7,786.4 1017.1,759.6 1018.4,720.6 969.7,747.1" fill="#20a241"/>
<polygon points="976.3,790.5 979.8,792.4 980.8,754.6 977.3,752.7" fill="#0f4b1e"/>
<polygon points="977.3,752.7 980.8,754.6 1029.4,728 1025.9,726.2" fill="#1c8a37"/>
<polygon points="979.8,792.4 1028.1,765.6 1029.4,728 980.8,754.6" fill="#20a241"/>
<polygon points="987.4,796.6 990.9,798.5 992,762.1 988.4,760.2" fill="#0f4b1e"/>
<polygon points="988.4,760.2 992,762.1 1040.6,735.4 1037,733.5" fill="#1c8a37"/>
<polygon points="990.9,798.5 1039.2,771.5 1040.6,735.4 992,762.1" fill="#20a241"/>
<polygon points="998.5,802.7 1002.1,804.7 1003.2,769.7 999.6,767.7" fill="#0f4b1e"/>
<polygon points="999.6,767.7 1003.2,769.7 1051.8,742.8 1048.2,740.9" fill="#1c8a37"/>
<polygon points="1002.1,804.7 1050.4,777.5 1051.8,742.8 1003.2,769.7" fill="#20a241"/>
<polygon points="1009.7,808.8 1013.3,810.8 1014.4,777.1 1010.8,775.2" fill="#0f4b1e"/>
<polygon points="1010.8,775.2 1014.4,777.1 1063,750.1 1059.4,748.2" fill="#1c8a37"/>
<polygon points="1013.3,810.8 1061.6,783.6 1063,750.1 1014.4,777.1" fill="#20a241"/>
<polygon points="1021,815 1024.6,817 1025.7,784.6 1022.1,782.6" fill="#0f4b1e"/>
<polygon points="1022.1,782.6 1025.7,784.6 1074.3,757.4 1070.7,755.5" fill="#1c8a37"/>
<polygon points="1024.6,817 1072.9,789.6 1074.3,757.4 1025.7,784.6" fill="#20a241"/>
<polygon points="1032.3,821.2 1035.9,823.2 1037.1,791.9 1033.4,790" fill="#0f4b1e"/>
<polygon points="1033.4,790 1037.1,791.9 1085.6,764.6 1082,762.7" fill="#1c8a37"/>
<polygon points="1035.9,823.2 1084.2,795.7 1085.6,764.6 1037.1,791.9" fill="#20a241"/>
<polygon points="1043.7,827.5 1047.3,829.5 1048.5,799.7 1044.8,797.7" fill="#0f4b0f"/>
<polygon points="1044.8,797.7 1048.5,799.7 1097,772.2 1093.3,770.3" fill="#1c8a1c"/>
<polygon points="1047.3,829.5 1095.6,801.8 1097,772.2 1048.5,799.7" fill="#20a220"/>
<polygon points="1055.1,833.7 1058.8,835.7 1059.9,808.2 1056.2,806.2" fill="#0f4b0f"/>
<polygon points="1056.2,806.2 1059.9,808.2 1108.4,780.6 1104.7,778.7" fill="#1c8a1c"/>
<polygon points="1058.8,835.7 1107.1,807.9 1108.4,780.6 1059.9,808.2" fill="#20a220"/>
<polygon points="1062.1,837.6 1065.8,839.6 1066.9,813.5 1063.2,811.5" fill="#0f4b0f"/>
<polygon points="1063.2,811.5 1066.9,813.5 1115.4,785.8 1111.7,783.8" fill="#1c8a1c"/>
<polygon points="1065.8,839.6 1114.1,811.7 1115.4,785.8 1066.9,813.5" fill="#20a220"/>
<polygon points="448.4,862.6 455,866.8 437.2,563.1 430.3,559.2" fill="#7f0505"/>
<polygon points="430.3,559.2 437.2,563.1 486.3,541 479.4,537.2" fill="#710404"/>
<polygon points="455,866.8 501.6,842.9 486.3,541 437.2,563.1" fill="#850505"/>
<polygon points="455.4,800.7 456.4,801.3 442.8,566.3 441.8,565.7" fill="#845804"/>
<polygon points="441.8,565.7 442.8,566.3 491.9,544.1 490.9,543.6" fill="#815704"/>
<polygon points="456.4,801.3 503.6,777.7 491.9,544.1 442.8,566.3" fill="#996705"/>
<polygon points="456.6,775.9 457.6,776.5 445.6,567.9 444.6,567.3" fill="#897306"/>
<polygon points="444.6,567.3 445.6,567.9 494.7,545.7 493.7,545.1" fill="#877106"/>
<polygon points="457.6,776.5 505,753.1 494.7,545.7 445.6,567.9" fill="#9f8506"/>
<polygon points="457.8,750.9 458.8,751.5 448.5,569.5 447.4,568.9" fill="#8f8f08"/>
<polygon points="447.4,568.9 448.5,569.5 497.6,547.3 496.5,546.7" fill="#8c8c08"/>
<polygon points="458.8,751.5 506.4,728.2 497.6,547.3 448.5,569.5" fill="#a6a60a"/>
<polygon points="459.2,720.6 460.2,721.2 451.8,571.4 450.8,570.8" fill="#7b8c06"/>
<polygon points="450.8,570.8 451.8,571.4 500.9,549.1 499.9,548.5" fill="#798a06"/>
<polygon points="460.2,721.2 508.1,698 500.9,549.1 451.8,571.4" fill="#8fa206"/>
<polygon points="461.9,690.6 462.9,691.2 456.4,574 455.4,573.4" fill="#688c06"/>
<polygon points="455.4,573.4 456.4,574 505.5,551.7 504.5,551.1" fill="#668a06"/>
<polygon points="462.9,691.2 511.1,668.2 505.5,551.7 456.4,574" fill="#79a206"/>
<polygon points="465.5,666.1 466.5,666.7 461.6,576.9 460.5,576.3" fill="#558c06"/>
<polygon points="460.5,576.3 461.6,576.9 510.7,554.5 509.7,554" fill="#548a06"/>
<polygon points="466.5,666.7 514.9,643.8 510.7,554.5 461.6,576.9" fill="#63a206"/>
<polygon points="469.4,646.9 470.4,647.5 466.7,579.8 465.7,579.2" fill="#428c06"/>
<polygon points="465.7,579.2 466.7,579.8 515.9,557.4 514.8,556.8" fill="#418a06"/>
<polygon points="470.4,647.5 519,624.6 515.9,557.4 466.7,579.8" fill="#4da206"/>
<polygon points="473.4,630.3 474.5,630.9 471.9,582.7 470.9,582.2" fill="#2f8c03"/>
<polygon points="470.9,582.2 471.9,582.7 521.1,560.3 520,559.7" fill="#2e8a03"/>
<polygon points="474.5,630.9 523.3,608.1 521.1,560.3 471.9,582.7" fill="#37a203"/>
<polygon points="476.7,615.7 477.7,616.3 476.1,585.1 475,584.5" fill="#2f8c03"/>
<polygon points="475,584.5 476.1,585.1 525.2,562.6 524.2,562" fill="#2e8a03"/>
<polygon points="477.7,616.3 526.6,593.6 525.2,562.6 476.1,585.1" fill="#37a203"/>
<polygon points="479.9,601.1 481,601.7 480.2,587.5 479.2,586.9" fill="#1c8c00"/>
<polygon points="479.2,586.9 480.2,587.5 529.4,564.9 528.4,564.3" fill="#1c8a00"/>
<polygon points="481,601.7 530,579.1 529.4,564.9 480.2,587.5" fill="#20a200"/>
<polygon points="482.1,588.5 484.9,590.1 484.5,582.5 481.7,580.8" fill="#0f4b0f"/>
<polygon points="481.7,580.8 484.5,582.5 533.8,559.9 530.9,558.3" fill="#1c8a1c"/>
<polygon points="484.9,590.1 534.1,567.5 533.8,559.9 484.5,582.5" fill="#20a220"/>
<polygon points="490,593 492.9,594.6 491.4,564.5 488.5,562.9" fill="#0f4b1e"/>
<polygon points="488.5,562.9 491.4,564.5 540.9,542 537.9,540.4" fill="#1c8a37"/>
<polygon points="492.9,594.6 542.1,571.9 540.9,542 491.4,564.5" fill="#20a241"/>
<polygon points="498.1,597.5 500.9,599.2 498.3,544.1 495.3,542.5" fill="#0f4b1e"/>
<polygon points="495.3,542.5 498.3,544.1 547.9,521.7 545,520.1" fill="#1c8a37"/>
<polygon points="500.9,599.2 550.2,576.4 547.9,521.7 498.3,544.1" fill="#20a241"/>
<polygon points="506.2,602.1 509.1,603.8 505.4,525.8 502.4,524.2" fill="#0f4b2d"/>
<polygon points="502.4,524.2 505.4,525.8 555.3,503.4 552.3,501.8" fill="#1c8a52"/>
<polygon points="509.1,603.8 558.3,580.9 555.3,503.4 505.4,525.8" fill="#20a262"/>
<polygon points="514.4,606.8 517.3,608.4 513,515.2 510,513.6" fill="#0f4b3c"/>
<polygon points="510,513.6 513,515.2 563,492.8 560,491.3" fill="#1c8a6e"/>
<polygon points="517.3,608.4 566.6,585.5 563,492.8 513,515.2" fill="#20a282"/>
<polygon points="522.6,611.5 525.6,613.1 520.8,506.7 517.8,505" fill="#0f4b3c"/>
<polygon points="517.8,505 520.8,506.7 570.9,484.3 567.9,482.7" fill="#1c8a6e"/>
<polygon points="525.6,613.1 574.9,590 570.9,484.3 520.8,506.7" fill="#20a282"/>
<polygon points="531,616.2 533.9,617.9 528.7,499.5 525.8,497.9" fill="#0f4b4c"/>
<polygon points="525.8,497.9 528.7,499.5 579,477.1 576,475.6" fill="#1c8a8c"/>
<polygon points="533.9,617.9 583.3,594.7 579,477.1 528.7,499.5" fill="#20a2a6"/>
<polygon points="539.4,621 542.4,622.6 536.9,495 533.9,493.4" fill="#0f4b4c"/>
<polygon points="533.9,493.4 536.9,495 587.3,472.6 584.3,471" fill="#1c8a8c"/>
<polygon points="542.4,622.6 591.7,599.4 587.3,472.6 536.9,495" fill="#20a2a6"/>
<polygon points="547.9,625.8 550.9,627.5 545.4,492.6 542.3,490.9" fill="#0f4b4c"/>
<polygon points="542.3,490.9 545.4,492.6 595.8,470.1 592.8,468.5" fill="#1c8a8c"/>
<polygon points="550.9,627.5 600.3,604.1 595.8,470.1 545.4,492.6" fill="#20a2a6"/>
<polygon points="556.5,630.7 559.5,632.3 554,492.5 550.9,490.9" fill="#0f4b4c"/>
<polygon points="550.9,490.9 554,492.5 604.5,470 601.4,468.4" fill="#1c8a8c"/>
<polygon points="559.5,632.3 608.9,608.9 604.5,470 554,492.5" fill="#20a2a6"/>
<polygon points="565.2,635.6 568.2,637.3 562.7,492.9 559.6,491.3" fill="#0f4b4c"/>
<polygon points="559.6,491.3 562.7,492.9 613.2,470.3 610.2,468.7" fill="#1c8a8c"/>
<polygon points="568.2,637.3 617.6,613.7 613.2,470.3 562.7,492.9" fill="#20a2a6"/>
<polygon points="574,640.5 577,642.2 571.6,495.9 568.5,494.2" fill="#0f4b4c"/>
<polygon points="568.5,494.2 571.6,495.9 622.2,473.2 619.1,471.6" fill="#1c8a8c"/>
<polygon points="577,642.2 626.4,618.6 622.2,473.2 571.6,495.9" fill="#20a2a6"/>
<polygon points="582.9,645.6 585.9,647.3 580.6,498.9 577.5,497.2" fill="#0f4b4c"/>
<polygon points="577.5,497.2 580.6,498.9 631.2,476.1 628.1,474.5" fill="#1c8a8c"/>
<polygon points="585.9,647.3 635.3,623.5 631.2,476.1 580.6,498.9" fill="#20a2a6"/>
<polygon points="591.8,650.6 594.9,652.3 589.7,503.7 586.6,502" fill="#0f4b4c"/>
<polygon points="586.6,502 589.7,503.7 640.4,480.8 637.3,479.2" fill="#1c8a8c"/>
<polygon points="594.9,652.3 644.3,628.5 640.4,480.8 589.7,503.7" fill="#20a2a6"/>
<polygon points="600.9,655.7 603.9,657.5 599,508.8 595.9,507.2" fill="#0f4b4c"/>
<polygon points="595.9,507.2 599,508.8 649.7,485.8 646.6,484.2" fill="#1c8a8c"/>
<polygon points="603.9,657.5 653.4,633.5 649.7,485.8 599,508.8" fill="#20a2a6"/>
<polygon points="610,660.9 613,662.6 608.4,514.5 605.2,512.8" fill="#0f4b4c"/>
<polygon points="605.2,512.8 608.4,514.5 659.1,491.4 655.9,489.7" fill="#1c8a8c"/>
<polygon points="613,662.6 662.5,638.6 659.1,491.4 608.4,514.5" fill="#20a2a6"/>
<polygon points="619.2,666.1 622.3,667.9 617.8,520.4 614.7,518.7" fill="#0f4b4c"/>
<polygon points="614.7,518.7 617.8,520.4 668.5,497.2 665.4,495.6" fill="#1c8a8c"/>
<polygon points="622.3,667.9 671.8,643.7 668.5,497.2 617.8,520.4" fill="#20a2a6"/>
<polygon points="628.5,671.4 631.6,673.2 627.4,526.6 624.3,524.9" fill="#0f4b4c"/>
<polygon points="624.3,524.9 627.4,526.6 678.1,503.2 675,501.6" fill="#1c8a8c"/>
<polygon points="631.6,673.2 681.1,648.9 678.1,503.2 627.4,526.6" fill="#20a2a6"/>
<polygon points="637.9,676.7 641,678.5 637.2,536.6 634,534.9" fill="#0f4b4c"/>
<polygon points="634,534.9 637.2,536.6 687.9,513.2 684.7,511.5" fill="#1c8a8c"/>
<polygon points="641,678.5 690.6,654.1 687.9,513.2 637.2,536.6" fill="#20a2a6"/>
<polygon points="647.4,682.1 650.6,683.9 647.1,549 643.9,547.3" fill="#0f4b4c"/>
<polygon points="643.9,547.3 647.1,549 697.7,525.4 694.6,523.8" fill="#1c8a8c"/>
<polygon points="650.6,683.9 700.1,659.4 697.7,525.4 647.1,549" fill="#20a2a6"/>
<polygon points="657,687.6 660.2,689.3 657,559.1 653.8,557.4" fill="#0f4b4c"/>
<polygon points="653.8,557.4 657,559.1 707.7,535.3 704.5,533.7" fill="#1c8a8c"/>
<polygon points="660.2,689.3 709.8,664.7 707.7,535.3 657,559.1" fill="#20a2a6"/>
<polygon points="666.7,693.1 669.9,694.8 667.1,570.4 663.9,568.7" fill="#0f4b4c"/>
<polygon points="663.9,568.7 667.1,570.4 717.7,546.5 714.5,544.8" fill="#1c8a8c"/>
<polygon points="669.9,694.8 719.5,670.1 717.7,546.5 667.1,570.4" fill="#20a2a6"/>
<polygon points="676.5,698.6 679.7,700.4 677.2,581.8 674,580.1" fill="#0f4b3c"/>
<polygon points="674,580.1 677.2,581.8 727.8,557.7 724.6,556" fill="#1c8a6e"/>
<polygon points="679.7,700.4 729.3,675.5 727.8,557.7 677.2,581.8" fill="#20a282"/>
<polygon points="686.5,704.2 689.6,706 687.4,593.8 684.2,592" fill="#0f4b3c"/>
<polygon points="684.2,592 687.4,593.8 738,569.5 734.7,567.8" fill="#1c8a6e"/>
<polygon points="689.6,706 739.3,681 738,569.5 687.4,593.8" fill="#20a282"/>
<polygon points="696.4,709.9 699.6,711.7 697.7,605.4 694.5,603.7" fill="#0f4b3c"/>
<polygon points="694.5,603.7 697.7,605.4 748.2,581 745,579.3" fill="#1c8a6e"/>
<polygon points="699.6,711.7 749.3,686.6 748.2,581 697.7,605.4" fill="#20a282"/>
<polygon points="706.5,715.5 709.7,717.4 708,616.7 704.8,614.9" fill="#0f4b3c"/>
<polygon points="704.8,614.9 708,616.7 758.5,592.1 755.2,590.4" fill="#1c8a6e"/>
<polygon points="709.7,717.4 759.3,692.1 758.5,592.1 708,616.7" fill="#20a282"/>
<polygon points="716.6,721.2 719.8,723.1 718.4,628.9 715.1,627.1" fill="#0f4b3c"/>
<polygon points="715.1,627.1 718.4,628.9 768.8,604.2 765.5,602.4" fill="#1c8a6e"/>
<polygon points="719.8,723.1 769.4,697.7 768.8,604.2 718.4,628.9" fill="#20a282"/>
<polygon points="726.7,727 729.9,728.8 728.8,641 725.5,639.2" fill="#0f4b2d"/>
<polygon points="725.5,639.2 728.8,641 779.2,616.1 775.9,614.4" fill="#1c8a52"/>
<polygon points="729.9,728.8 779.6,703.3 779.2,616.1 728.8,641" fill="#20a262"/>
<polygon points="736.9,732.8 740.1,734.6 739.2,652.4 735.9,650.6" fill="#0f4b2d"/>
<polygon points="735.9,650.6 739.2,652.4 789.5,627.4 786.2,625.6" fill="#1c8a52"/>
<polygon points="740.1,734.6 789.8,709 789.5,627.4 739.2,652.4" fill="#20a262"/>
<polygon points="747.1,738.5 750.4,740.4 749.6,663 746.3,661.2" fill="#0f4b2d"/>
<polygon points="746.3,661.2 749.6,663 799.9,637.8 796.6,636.1" fill="#1c8a52"/>
<polygon points="750.4,740.4 800.1,714.7 799.9,637.8 749.6,663" fill="#20a262"/>
<polygon points="757.4,744.4 760.7,746.2 760.1,673.7 756.8,671.8" fill="#0f4b2d"/>
<polygon points="756.8,671.8 760.1,673.7 810.4,648.3 807.1,646.5" fill="#1c8a52"/>
<polygon points="760.7,746.2 810.4,720.4 810.4,648.3 760.1,673.7" fill="#20a262"/>
<polygon points="767.7,750.2 771,752.1 770.6,684.1 767.2,682.2" fill="#0f4b2d"/>
<polygon points="767.2,682.2 770.6,684.1 820.9,658.6 817.5,656.8" fill="#1c8a52"/>
<polygon points="771,752.1 820.8,726.1 820.9,658.6 770.6,684.1" fill="#20a262"/>
<polygon points="778.1,756.1 781.4,758 781.1,694.4 777.8,692.6" fill="#0f4b2d"/>
<polygon points="777.8,692.6 781.1,694.4 831.4,668.7 828,666.9" fill="#1c8a52"/>
<polygon points="781.4,758 831.2,731.9 831.4,668.7 781.1,694.4" fill="#20a262"/>
<polygon points="788.5,762 791.9,763.9 791.7,704.7 788.3,702.9" fill="#0f4b1e"/>
<polygon points="788.3,702.9 791.7,704.7 841.9,678.9 838.5,677.1" fill="#1c8a37"/>
<polygon points="791.9,763.9 841.6,737.7 841.9,678.9 791.7,704.7" fill="#20a241"/>
<polygon points="799,767.9 802.4,769.8 802.3,715 798.9,713.1" fill="#0f4b1e"/>
<polygon points="798.9,713.1 802.3,715 852.5,689 849.1,687.1" fill="#1c8a37"/>
<polygon points="802.4,769.8 852.1,743.5 852.5,689 802.3,715" fill="#20a241"/>
<polygon points="809.6,773.9 812.9,775.8 813,725.1 809.6,723.2" fill="#0f4b1e"/>
<polygon points="809.6,723.2 813,725.1 863.1,698.9 859.7,697.1" fill="#1c8a37"/>
<polygon points="812.9,775.8 862.7,749.3 863.1,698.9 813,725.1" fill="#20a241"/>
<polygon points="820.2,779.9 823.6,781.8 823.6,735.1 820.2,733.2" fill="#0f4b1e"/>
<polygon points="820.2,733.2 823.6,735.1 873.8,708.8 870.4,707" fill="#1c8a37"/>
<polygon points="823.6,781.8 873.3,755.2 873.8,708.8 823.6,735.1" fill="#20a241"/>
<polygon points="830.8,785.9 834.2,787.9 834.4,745.3 830.9,743.4" fill="#0f4b1e"/>
<polygon points="830.9,743.4 834.4,745.3 884.5,718.8 881.1,717" fill="#1c8a37"/>
<polygon points="834.2,787.9 884,761.1 884.5,718.8 834.4,745.3" fill="#20a241"/>
<polygon points="841.5,792 844.9,793.9 845.1,755.5 841.7,753.6" fill="#0f4b1e"/>
<polygon points="841.7,753.6 845.1,755.5 895.3,728.9 891.8,727" fill="#1c8a37"/>
<polygon points="844.9,793.9 894.7,767.1 895.3,728.9 845.1,755.5" fill="#20a241"/>
<polygon points="852.3,798.1 855.7,800 856,765.4 852.5,763.5" fill="#0f4b1e"/>
<polygon points="852.5,763.5 856,765.4 906,738.6 902.6,736.8" fill="#1c8a37"/>
<polygon points="855.7,800 905.5,773 906,738.6 856,765.4" fill="#20a241"/>
<polygon points="863.1,804.2 866.5,806.2 866.8,773.6 863.4,771.7" fill="#0f4b1e"/>
<polygon points="863.4,771.7 866.8,773.6 916.9,746.7 913.4,744.8" fill="#1c8a37"/>
<polygon points="866.5,806.2 916.3,779 916.9,746.7 866.8,773.6" fill="#20a241"/>
<polygon points="873.9,810.4 877.4,812.3 877.7,781.6 874.3,779.6" fill="#0f4b1e"/>
<polygon points="874.3,779.6 877.7,781.6 927.8,754.5 924.3,752.6" fill="#1c8a37"/>
<polygon points="877.4,812.3 927.2,785 927.8,754.5 877.7,781.6" fill="#20a241"/>
<polygon points="884.9,816.5 888.4,818.5 888.7,789.5 885.2,787.6" fill="#0f4b0f"/>
<polygon points="885.2,787.6 888.7,789.5 938.8,762.3 935.3,760.4" fill="#1c8a1c"/>
<polygon points="888.4,818.5 938.2,791.1 938.8,762.3 888.7,789.5" fill="#20a220"/>
<polygon points="895.8,822.7 899.3,824.7 899.7,797.2 896.2,795.3" fill="#0f4b0f"/>
<polygon points="896.2,795.3 899.7,797.2 949.8,769.9 946.3,767.9" fill="#1c8a1c"/>
<polygon points="899.3,824.7 949.2,797.2 949.8,769.9 899.7,797.2" fill="#20a220"/>
<polygon points="906.9,829 910.4,831 910.8,805 907.3,803" fill="#0f4b0f"/>
<polygon points="907.3,803 910.8,805 960.9,777.5 957.3,775.5" fill="#1c8a1c"/>
<polygon points="910.4,831 960.2,803.3 960.9,777.5 910.8,805" fill="#20a220"/>
<polygon points="918,835.3 921.5,837.3 921.9,812.7 918.4,810.7" fill="#0f4b0f"/>
<polygon points="918.4,810.7 921.9,812.7 972,785 968.4,783.1" fill="#1c8a1c"/>
<polygon points="921.5,837.3 971.3,809.4 972,785 921.9,812.7" fill="#20a220"/>
<polygon points="929.1,841.6 932.7,843.6 933.1,820.4 929.5,818.4" fill="#0f4b0f"/>
<polygon points="929.5,818.4 933.1,820.4 983.2,792.6 979.6,790.6" fill="#1c8a1c"/>
<polygon points="932.7,843.6 982.5,815.6 983.2,792.6 933.1,820.4" fill="#20a220"/>
<polygon points="940.3,847.9 943.9,849.9 944.4,828.1 940.8,826.1" fill="#0f4b0f"/>
<polygon points="940.8,826.1 944.4,828.1 994.4,800.1 990.8,798.1" fill="#1c8a1c"/>
<polygon points="943.9,849.9 993.7,821.8 994.4,800.1 944.4,828.1" fill="#20a220"/>
<polygon points="951.6,854.3 955.2,856.3 955.6,835.8 952,833.7" fill="#0f4b0f"/>
<polygon points="952,833.7 955.6,835.8 1005.7,807.7 1002,805.7" fill="#1c8a1c"/>
<polygon points="955.2,856.3 1005,828.1 1005.7,807.7 955.6,835.8" fill="#20a220"/>
<polygon points="962.9,860.7 966.5,862.8 967,843.4 963.4,841.4" fill="#0f4b0f"/>
<polygon points="963.4,841.4 967,843.4 1017,815.2 1013.4,813.2" fill="#1c8a1c"/>
<polygon points="966.5,862.8 1016.4,834.4 1017,815.2 967,843.4" fill="#20a220"/>
<polygon points="974.3,867.1 977.9,869.2 978.4,851.5 974.7,849.4" fill="#0f4b0f"/>
<polygon points="974.7,849.4 978.4,851.5 1028.4,823.1 1024.7,821.1" fill="#1c8a1c"/>
<polygon points="977.9,869.2 1027.7,840.7 1028.4,823.1 978.4,851.5" fill="#20a220"/>
<polygon points="985.7,873.6 989.3,875.7 989.8,860.3 986.1,858.3" fill="#0f4b0f"/>
<polygon points="986.1,858.3 989.8,860.3 1039.8,831.7 1036.1,829.7" fill="#1c8a1c"/>
<polygon points="989.3,875.7 1039.2,847 1039.8,831.7 989.8,860.3" fill="#20a220"/>
<polygon points="992.7,877.6 996.4,879.7 996.8,865.7 993.1,863.7" fill="#0f4b0f"/>
<polygon points="993.1,863.7 996.8,865.7 1046.7,837.1 1043.1,835" fill="#1c8a1c"/>
<polygon points="996.4,879.7 1046.2,850.9 1046.7,837.1 996.8,865.7" fill="#20a220"/>
<polygon points="381.8,896.6 388.4,900.9 366.9,594.7 360.1,590.7" fill="#7f0505"/>
<polygon points="360.1,590.7 366.9,594.7 417.4,572 410.5,568.1" fill="#710404"/>
<polygon points="388.4,900.9 436.2,876.4 417.4,572 366.9,594.7" fill="#850505"/>
<polygon points="387.9,834.4 388.9,835 372.5,598 371.5,597.4" fill="#845804"/>
<polygon points="371.5,597.4 372.5,598 423,575.2 422,574.6" fill="#815704"/>
<polygon points="388.9,835 437.3,810.8 423,575.2 372.5,598" fill="#996705"/>
<polygon points="388.8,809.4 389.8,810.1 375.3,599.6 374.3,599" fill="#897306"/>
<polygon points="374.3,599 375.3,599.6 425.8,576.8 424.8,576.2" fill="#877106"/>
<polygon points="389.8,810.1 438.5,786 425.8,576.8 375.3,599.6" fill="#9f8506"/>
<polygon points="389.7,784.3 390.7,784.9 378.1,601.3 377.1,600.7" fill="#8f8f08"/>
<polygon points="377.1,600.7 378.1,601.3 428.6,578.4 427.6,577.9" fill="#8c8c08"/>
<polygon points="390.7,784.9 439.6,761 428.6,578.4 378.1,601.3" fill="#a6a60a"/>
<polygon points="390.7,753.7 391.7,754.3 381.4,603.2 380.4,602.6" fill="#7b8c06"/>
<polygon points="380.4,602.6 381.4,603.2 431.9,580.3 430.9,579.8" fill="#798a06"/>
<polygon points="391.7,754.3 440.9,730.5 431.9,580.3 381.4,603.2" fill="#8fa206"/>
<polygon points="393,723.5 394,724.2 386,605.9 385,605.3" fill="#688c06"/>
<polygon points="385,605.3 386,605.9 436.6,583 435.5,582.4" fill="#668a06"/>
<polygon points="394,724.2 443.5,700.5 436.6,583 386,605.9" fill="#79a206"/>
<polygon points="396.2,698.9 397.2,699.5 391.2,608.9 390.1,608.3" fill="#558c06"/>
<polygon points="390.1,608.3 391.2,608.9 441.7,585.9 440.7,585.3" fill="#548a06"/>
<polygon points="397.2,699.5 446.9,675.9 441.7,585.9 391.2,608.9" fill="#63a206"/>
<polygon points="399.8,679.5 400.8,680.1 396.3,611.9 395.3,611.3" fill="#428c06"/>
<polygon points="395.3,611.3 396.3,611.9 446.9,588.9 445.8,588.3" fill="#418a06"/>
<polygon points="400.8,680.1 450.8,656.7 446.9,588.9 396.3,611.9" fill="#4da206"/>
<polygon points="403.6,662.8 404.6,663.5 401.5,614.9 400.4,614.3" fill="#2f8c03"/>
<polygon points="400.4,614.3 401.5,614.9 452,591.8 451,591.2" fill="#2e8a03"/>
<polygon points="404.6,663.5 454.8,640.1 452,591.8 401.5,614.9" fill="#37a203"/>
<polygon points="406.6,648.2 407.6,648.9 405.6,617.3 404.6,616.7" fill="#2f8c03"/>
<polygon points="404.6,616.7 405.6,617.3 456.2,594.2 455.1,593.6" fill="#2e8a03"/>
<polygon points="407.6,648.9 457.9,625.5 456.2,594.2 405.6,617.3" fill="#37a203"/>
<polygon points="409.6,633.5 410.7,634.1 409.8,619.8 408.7,619.2" fill="#1c8c00"/>
<polygon points="408.7,619.2 409.8,619.8 460.3,596.6 459.3,596" fill="#1c8a00"/>
<polygon points="410.7,634.1 461.1,610.9 460.3,596.6 409.8,619.8" fill="#20a200"/>
<polygon points="411.6,620.8 414.4,622.5 414,615.1 411.1,613.4" fill="#0f4b0f"/>
<polygon points="411.1,613.4 414,615.1 464.6,591.9 461.8,590.2" fill="#1c8a1c"/>
<polygon points="414.4,622.5 465,599.3 464.6,591.9 414,615.1" fill="#20a220"/>
<polygon points="419.5,625.5 422.4,627.1 420.6,598.4 417.7,596.8" fill="#0f4b0f"/>
<polygon points="417.7,596.8 420.6,598.4 471.5,575.3 468.6,573.6" fill="#1c8a1c"/>
<polygon points="422.4,627.1 473,603.8 471.5,575.3 420.6,598.4" fill="#20a220"/>
<polygon points="427.5,630.2 430.4,631.8 427.3,580.7 424.4,579.1" fill="#0f4b1e"/>
<polygon points="424.4,579.1 427.3,580.7 478.4,557.6 475.5,556" fill="#1c8a37"/>
<polygon points="430.4,631.8 481,608.4 478.4,557.6 427.3,580.7" fill="#20a241"/>
<polygon points="435.6,634.9 438.5,636.6 434.2,564.6 431.3,562.9" fill="#0f4b2d"/>
<polygon points="431.3,562.9 434.2,564.6 485.5,541.5 482.6,539.9" fill="#1c8a52"/>
<polygon points="438.5,636.6 489.2,613 485.5,541.5 434.2,564.6" fill="#20a262"/>
<polygon points="443.8,639.7 446.7,641.4 441.6,553.5 438.6,551.8" fill="#0f4b2d"/>
<polygon points="438.6,551.8 441.6,553.5 493,530.4 490.1,528.8" fill="#1c8a52"/>
<polygon points="446.7,641.4 497.4,617.7 493,530.4 441.6,553.5" fill="#20a262"/>
<polygon points="452,644.5 454.9,646.2 449.1,543.5 446.1,541.8" fill="#0f4b3c"/>
<polygon points="446.1,541.8 449.1,543.5 500.7,520.4 497.7,518.8" fill="#1c8a6e"/>
<polygon points="454.9,646.2 505.6,622.4 500.7,520.4 449.1,543.5" fill="#20a282"/>
<polygon points="460.3,649.3 463.2,651.1 456.8,534.3 453.8,532.7" fill="#0f4b3c"/>
<polygon points="453.8,532.7 456.8,534.3 508.5,511.3 505.5,509.6" fill="#1c8a6e"/>
<polygon points="463.2,651.1 514,627.2 508.5,511.3 456.8,534.3" fill="#20a282"/>
<polygon points="468.7,654.3 471.7,656 464.8,528 461.8,526.3" fill="#0f4b4c"/>
<polygon points="461.8,526.3 464.8,528 516.6,504.9 513.6,503.3" fill="#1c8a8c"/>
<polygon points="471.7,656 522.4,632 516.6,504.9 464.8,528" fill="#20a2a6"/>
<polygon points="477.2,659.2 480.2,661 472.9,523.9 469.9,522.2" fill="#0f4b4c"/>
<polygon points="469.9,522.2 472.9,523.9 524.9,500.7 521.9,499.1" fill="#1c8a8c"/>
<polygon points="480.2,661 531,636.9 524.9,500.7 472.9,523.9" fill="#20a2a6"/>
<polygon points="485.8,664.2 488.8,666 481.4,522.5 478.3,520.8" fill="#0f4b4c"/>
<polygon points="478.3,520.8 481.4,522.5 533.4,499.3 530.4,497.7" fill="#1c8a8c"/>
<polygon points="488.8,666 539.6,641.8 533.4,499.3 481.4,522.5" fill="#20a2a6"/>
<polygon points="494.4,669.3 497.4,671.1 489.9,521.5 486.9,519.9" fill="#0f4b4c"/>
<polygon points="486.9,519.9 489.9,521.5 542.1,498.3 539,496.6" fill="#1c8a8c"/>
<polygon points="497.4,671.1 548.3,646.8 542.1,498.3 489.9,521.5" fill="#20a2a6"/>
<polygon points="503.2,674.4 506.2,676.2 498.8,524.2 495.7,522.6" fill="#0d3b4c"/>
<polygon points="495.7,522.6 498.8,524.2 550.9,500.9 547.9,499.3" fill="#176d8c"/>
<polygon points="506.2,676.2 557,651.8 550.9,500.9 498.8,524.2" fill="#1b81a6"/>
<polygon points="512,679.6 515,681.3 507.7,527 504.6,525.3" fill="#0d3b4c"/>
<polygon points="504.6,525.3 507.7,527 559.9,503.6 556.8,501.9" fill="#176d8c"/>
<polygon points="515,681.3 565.9,656.9 559.9,503.6 507.7,527" fill="#1b81a6"/>
<polygon points="520.9,684.8 524,686.6 516.8,531.7 513.7,530" fill="#0d3b4c"/>
<polygon points="513.7,530 516.8,531.7 569.1,508.1 566,506.5" fill="#176d8c"/>
<polygon points="524,686.6 574.9,662 569.1,508.1 516.8,531.7" fill="#1b81a6"/>
<polygon points="529.9,690.1 533,691.9 526.1,536.7 523,535" fill="#0d3b4c"/>
<polygon points="523,535 526.1,536.7 578.3,513.1 575.2,511.4" fill="#176d8c"/>
<polygon points="533,691.9 583.9,667.2 578.3,513.1 526.1,536.7" fill="#1b81a6"/>
<polygon points="539,695.4 542.1,697.2 535.4,541.8 532.3,540.1" fill="#0d3b4c"/>
<polygon points="532.3,540.1 535.4,541.8 587.7,518 584.5,516.4" fill="#176d8c"/>
<polygon points="542.1,697.2 593,672.4 587.7,518 535.4,541.8" fill="#1b81a6"/>
<polygon points="548.2,700.8 551.3,702.6 544.8,546.9 541.7,545.2" fill="#0d3b4c"/>
<polygon points="541.7,545.2 544.8,546.9 597.1,523.1 594,521.4" fill="#176d8c"/>
<polygon points="551.3,702.6 602.3,677.7 597.1,523.1 544.8,546.9" fill="#1b81a6"/>
<polygon points="557.5,706.2 560.6,708 554.3,552.2 551.2,550.4" fill="#0d3b4c"/>
<polygon points="551.2,550.4 554.3,552.2 606.7,528.2 603.5,526.5" fill="#176d8c"/>
<polygon points="560.6,708 611.6,683 606.7,528.2 554.3,552.2" fill="#1b81a6"/>
<polygon points="566.9,711.7 570,713.5 564.1,561.5 560.9,559.8" fill="#0d3b4c"/>
<polygon points="560.9,559.8 564.1,561.5 616.4,537.4 613.2,535.7" fill="#176d8c"/>
<polygon points="570,713.5 621,688.4 616.4,537.4 564.1,561.5" fill="#1b81a6"/>
<polygon points="576.4,717.2 579.5,719.1 574.2,575.9 571,574.1" fill="#0f4b4c"/>
<polygon points="571,574.1 574.2,575.9 626.4,551.6 623.2,549.8" fill="#1c8a8c"/>
<polygon points="579.5,719.1 630.5,693.8 626.4,551.6 574.2,575.9" fill="#20a2a6"/>
<polygon points="586,722.8 589.1,724.7 584.1,586.1 580.9,584.4" fill="#0f4b4c"/>
<polygon points="580.9,584.4 584.1,586.1 636.4,561.7 633.2,560" fill="#1c8a8c"/>
<polygon points="589.1,724.7 640.1,699.3 636.4,561.7 584.1,586.1" fill="#20a2a6"/>
<polygon points="595.6,728.5 598.8,730.3 594.2,597 591,595.2" fill="#0f4b4c"/>
<polygon points="591,595.2 594.2,597 646.4,572.4 643.2,570.7" fill="#1c8a8c"/>
<polygon points="598.8,730.3 649.8,704.8 646.4,572.4 594.2,597" fill="#20a2a6"/>
<polygon points="605.4,734.2 608.6,736.1 604.4,608.1 601.2,606.3" fill="#0f4b4c"/>
<polygon points="601.2,606.3 604.4,608.1 656.6,583.3 653.3,581.6" fill="#1c8a8c"/>
<polygon points="608.6,736.1 659.6,710.5 656.6,583.3 604.4,608.1" fill="#20a2a6"/>
<polygon points="615.3,740 618.5,741.9 614.6,617.6 611.4,615.8" fill="#0f4b4c"/>
<polygon points="611.4,615.8 614.6,617.6 666.8,592.7 663.5,591" fill="#1c8a8c"/>
<polygon points="618.5,741.9 669.6,716.1 666.8,592.7 614.6,617.6" fill="#20a2a6"/>
<polygon points="625.2,745.8 628.4,747.7 624.9,626.5 621.6,624.7" fill="#0f4b3c"/>
<polygon points="621.6,624.7 624.9,626.5 677,601.4 673.8,599.7" fill="#1c8a6e"/>
<polygon points="628.4,747.7 679.6,721.8 677,601.4 624.9,626.5" fill="#20a282"/>
<polygon points="635.2,751.7 638.5,753.6 635.1,634.8 631.9,633" fill="#0f4b3c"/>
<polygon points="631.9,633 635.1,634.8 687.3,609.6 684,607.8" fill="#1c8a6e"/>
<polygon points="638.5,753.6 689.6,727.6 687.3,609.6 635.1,634.8" fill="#20a282"/>
<polygon points="645.3,757.6 648.5,759.4 645.5,644.7 642.2,642.9" fill="#0f4b3c"/>
<polygon points="642.2,642.9 645.5,644.7 697.6,619.4 694.4,617.6" fill="#1c8a6e"/>
<polygon points="648.5,759.4 699.7,733.3 697.6,619.4 645.5,644.7" fill="#20a282"/>
<polygon points="655.4,763.5 658.6,765.4 655.9,654.7 652.6,652.8" fill="#0f4b3c"/>
<polygon points="652.6,652.8 655.9,654.7 708,629.2 704.7,627.4" fill="#1c8a6e"/>
<polygon points="658.6,765.4 709.8,739.1 708,629.2 655.9,654.7" fill="#20a282"/>
<polygon points="665.6,769.4 668.8,771.3 666.3,664 663,662.1" fill="#0f4b3c"/>
<polygon points="663,662.1 666.3,664 718.5,638.3 715.1,636.5" fill="#1c8a6e"/>
<polygon points="668.8,771.3 720,744.9 718.5,638.3 666.3,664" fill="#20a282"/>
<polygon points="675.8,775.4 679.1,777.3 676.8,672.5 673.5,670.7" fill="#0f4b3c"/>
<polygon points="673.5,670.7 676.8,672.5 728.9,646.7 725.6,644.9" fill="#1c8a6e"/>
<polygon points="679.1,777.3 730.3,750.8 728.9,646.7 676.8,672.5" fill="#20a282"/>
<polygon points="686,781.4 689.3,783.3 687.3,681.1 684,679.2" fill="#0f4b3c"/>
<polygon points="684,679.2 687.3,681.1 739.4,655.2 736.1,653.3" fill="#1c8a6e"/>
<polygon points="689.3,783.3 740.6,756.7 739.4,655.2 687.3,681.1" fill="#20a282"/>
<polygon points="696.4,787.4 699.7,789.4 697.9,689.7 694.5,687.8" fill="#0f4b3c"/>
<polygon points="694.5,687.8 697.9,689.7 749.9,663.6 746.6,661.8" fill="#1c8a6e"/>
<polygon points="699.7,789.4 750.9,762.6 749.9,663.6 697.9,689.7" fill="#20a282"/>
<polygon points="706.7,793.5 710,795.4 708.4,698.5 705.1,696.6" fill="#0f4b3c"/>
<polygon points="705.1,696.6 708.4,698.5 760.5,672.2 757.2,670.4" fill="#1c8a6e"/>
<polygon points="710,795.4 761.3,768.5 760.5,672.2 708.4,698.5" fill="#20a282"/>
<polygon points="717.1,799.6 720.5,801.5 719.1,707.4 715.7,705.5" fill="#0f4b3c"/>
<polygon points="715.7,705.5 719.1,707.4 771.2,681 767.8,679.1" fill="#1c8a6e"/>
<polygon points="720.5,801.5 771.7,774.5 771.2,681 719.1,707.4" fill="#20a282"/>
<polygon points="727.6,805.7 731,807.7 729.8,716.3 726.4,714.4" fill="#0f4b2d"/>
<polygon points="726.4,714.4 729.8,716.3 781.8,689.7 778.4,687.9" fill="#1c8a52"/>
<polygon points="731,807.7 782.2,780.5 781.8,689.7 729.8,716.3" fill="#20a262"/>
<polygon points="738.1,811.9 741.5,813.8 740.5,725.3 737.1,723.3" fill="#0f4b2d"/>
<polygon points="737.1,723.3 740.5,725.3 792.5,698.6 789.1,696.7" fill="#1c8a52"/>
<polygon points="741.5,813.8 792.8,786.5 792.5,698.6 740.5,725.3" fill="#20a262"/>
<polygon points="748.7,818.1 752.1,820 751.3,734.3 747.8,732.3" fill="#0f4b2d"/>
<polygon points="747.8,732.3 751.3,734.3 803.3,707.4 799.9,705.5" fill="#1c8a52"/>
<polygon points="752.1,820 803.4,792.6 803.3,707.4 751.3,734.3" fill="#20a262"/>
<polygon points="759.3,824.3 762.7,826.3 762.1,743.3 758.6,741.4" fill="#0f4b2d"/>
<polygon points="758.6,741.4 762.1,743.3 814.1,716.3 810.7,714.4" fill="#1c8a52"/>
<polygon points="762.7,826.3 814.1,798.7 814.1,716.3 762.1,743.3" fill="#20a262"/>
<polygon points="770,830.5 773.4,832.5 772.9,752.4 769.5,750.5" fill="#0f4b2d"/>
<polygon points="769.5,750.5 772.9,752.4 825,725.2 821.5,723.3" fill="#1c8a52"/>
<polygon points="773.4,832.5 824.8,804.8 825,725.2 772.9,752.4" fill="#20a262"/>
<polygon points="780.8,836.8 784.2,838.8 783.9,761.5 780.4,759.6" fill="#0f4b2d"/>
<polygon points="780.4,759.6 783.9,761.5 835.9,734.2 832.4,732.3" fill="#1c8a52"/>
<polygon points="784.2,838.8 835.6,811 835.9,734.2 783.9,761.5" fill="#20a262"/>
<polygon points="791.6,843.1 795,845.1 794.8,769.1 791.3,767.1" fill="#0f4b2d"/>
<polygon points="791.3,767.1 794.8,769.1 846.8,741.6 843.3,739.7" fill="#1c8a52"/>
<polygon points="795,845.1 846.4,817.1 846.8,741.6 794.8,769.1" fill="#20a262"/>
<polygon points="802.4,849.5 805.9,851.5 805.8,776.4 802.3,774.4" fill="#0f4b2d"/>
<polygon points="802.3,774.4 805.8,776.4 857.8,748.8 854.3,746.8" fill="#1c8a52"/>
<polygon points="805.9,851.5 857.3,823.4 857.8,748.8 805.8,776.4" fill="#20a262"/>
<polygon points="813.3,855.8 816.8,857.9 816.9,783.8 813.3,781.8" fill="#0f4b2d"/>
<polygon points="813.3,781.8 816.9,783.8 868.9,756 865.3,754" fill="#1c8a52"/>
<polygon points="816.8,857.9 868.2,829.6 868.9,756 816.9,783.8" fill="#20a262"/>
<polygon points="824.3,862.3 827.8,864.3 828,791.2 824.4,789.1" fill="#0f4b2d"/>
<polygon points="824.4,789.1 828,791.2 880,763.2 876.4,761.3" fill="#1c8a52"/>
<polygon points="827.8,864.3 879.2,835.9 880,763.2 828,791.2" fill="#20a262"/>
<polygon points="835.3,868.7 838.8,870.8 839.1,798.6 835.6,796.6" fill="#0f4b2d"/>
<polygon points="835.6,796.6 839.1,798.6 891.2,770.5 887.6,768.5" fill="#1c8a52"/>
<polygon points="838.8,870.8 890.2,842.2 891.2,770.5 839.1,798.6" fill="#20a262"/>
<polygon points="846.4,875.2 849.9,877.3 850.4,806 846.8,804" fill="#0f4b2d"/>
<polygon points="846.8,804 850.4,806 902.4,777.8 898.8,775.8" fill="#1c8a52"/>
<polygon points="849.9,877.3 901.3,848.5 902.4,777.8 850.4,806" fill="#20a262"/>
<polygon points="857.5,881.7 861.1,883.8 861.6,813.5 858,811.5" fill="#0f4b2d"/>
<polygon points="858,811.5 861.6,813.5 913.6,785.2 910,783.2" fill="#1c8a52"/>
<polygon points="861.1,883.8 912.5,854.9 913.6,785.2 861.6,813.5" fill="#20a262"/>
<polygon points="868.7,888.2 872.3,890.3 873,821.1 869.3,819" fill="#0f4b2d"/>
<polygon points="869.3,819 873,821.1 925,792.5 921.4,790.5" fill="#1c8a52"/>
<polygon points="872.3,890.3 923.7,861.3 925,792.5 873,821.1" fill="#20a262"/>
<polygon points="879.9,894.8 883.5,896.9 884.4,828.7 880.7,826.6" fill="#0f4b2d"/>
<polygon points="880.7,826.6 884.4,828.7 936.4,800 932.7,797.9" fill="#1c8a52"/>
<polygon points="883.5,896.9 935,867.8 936.4,800 884.4,828.7" fill="#20a262"/>
<polygon points="891.3,901.4 894.9,903.6 895.8,836.3 892.1,834.2" fill="#0f4b2d"/>
<polygon points="892.1,834.2 895.8,836.3 947.8,807.4 944.1,805.4" fill="#1c8a52"/>
<polygon points="894.9,903.6 946.3,874.3 947.8,807.4 895.8,836.3" fill="#20a262"/>
<polygon points="902.6,908.1 906.3,910.2 907.3,844.3 903.6,842.2" fill="#0f4b2d"/>
<polygon points="903.6,842.2 907.3,844.3 959.3,815.3 955.6,813.2" fill="#1c8a52"/>
<polygon points="906.3,910.2 957.7,880.8 959.3,815.3 907.3,844.3" fill="#20a262"/>
<polygon points="914.1,914.8 917.7,916.9 918.8,852.9 915.1,850.8" fill="#0f4b2d"/>
<polygon points="915.1,850.8 918.8,852.9 970.8,823.7 967.1,821.6" fill="#1c8a52"/>
<polygon points="917.7,916.9 969.2,887.3 970.8,823.7 918.8,852.9" fill="#20a262"/>
<polygon points="921,918.9 924.7,921 925.9,858.1 922.2,856" fill="#0f4b2d"/>
<polygon points="922.2,856 925.9,858.1 977.9,828.8 974.2,826.8" fill="#1c8a52"/>
<polygon points="924.7,921 976.2,891.3 977.9,828.8 925.9,858.1" fill="#20a262"/>
<polygon points="313.4,931.6 319.9,936 294.6,627.2 287.8,623.1" fill="#7f0505"/>
<polygon points="287.8,623.1 294.6,627.2 346.5,603.9 339.7,599.9" fill="#710404"/>
<polygon points="319.9,936 369,910.8 346.5,603.9 294.6,627.2" fill="#850505"/>
<polygon points="318.6,868.9 319.5,869.6 300.2,630.6 299.2,630" fill="#845804"/>
<polygon points="299.2,630 300.2,630.6 352.1,607.2 351.1,606.6" fill="#815704"/>
<polygon points="319.5,869.6 369.3,844.8 352.1,607.2 300.2,630.6" fill="#996705"/>
<polygon points="319.1,843.9 320.1,844.5 303,632.3 302,631.7" fill="#897306"/>
<polygon points="302,631.7 303,632.3 354.9,608.8 353.9,608.2" fill="#877106"/>
<polygon points="320.1,844.5 370.1,819.8 354.9,608.8 303,632.3" fill="#9f8506"/>
<polygon points="319.6,818.5 320.6,819.2 305.8,634 304.8,633.3" fill="#8f8f08"/>
<polygon points="304.8,633.3 305.8,634 357.7,610.5 356.7,609.9" fill="#8c8c08"/>
<polygon points="320.6,819.2 370.9,794.6 357.7,610.5 305.8,634" fill="#a6a60a"/>
<polygon points="320.2,787.8 321.2,788.4 309.1,636 308.1,635.3" fill="#7b8c06"/>
<polygon points="308.1,635.3 309.1,636 361,612.4 360,611.8" fill="#798a06"/>
<polygon points="321.2,788.4 371.8,764 361,612.4 309.1,636" fill="#8fa206"/>
<polygon points="322.1,757.4 323.1,758 313.7,638.7 312.6,638.1" fill="#688c06"/>
<polygon points="312.6,638.1 313.7,638.7 365.6,615.2 364.6,614.6" fill="#668a06"/>
<polygon points="323.1,758 374,733.7 365.6,615.2 313.7,638.7" fill="#79a206"/>
<polygon points="324.9,732.6 325.9,733.2 318.8,641.8 317.7,641.2" fill="#558c06"/>
<polygon points="317.7,641.2 318.8,641.8 370.7,618.2 369.7,617.6" fill="#548a06"/>
<polygon points="325.9,733.2 377.1,709 370.7,618.2 318.8,641.8" fill="#63a206"/>
<polygon points="328.2,713.1 329.2,713.8 323.9,644.9 322.9,644.3" fill="#428c06"/>
<polygon points="322.9,644.3 323.9,644.9 375.9,621.2 374.9,620.6" fill="#418a06"/>
<polygon points="329.2,713.8 380.6,689.6 375.9,621.2 323.9,644.9" fill="#4da206"/>
<polygon points="331.8,696.4 332.8,697 329,648 328,647.4" fill="#2f8c03"/>
<polygon points="328,647.4 329,648 381,624.3 380,623.7" fill="#2e8a03"/>
<polygon points="332.8,697 384.3,672.9 381,624.3 329,648" fill="#37a203"/>
<polygon points="334.5,681.7 335.6,682.3 333.1,650.5 332.1,649.9" fill="#2f8c03"/>
<polygon points="332.1,649.9 333.1,650.5 385.2,626.7 384.1,626.1" fill="#2e8a03"/>
<polygon points="335.6,682.3 387.3,658.3 385.2,626.7 333.1,650.5" fill="#37a203"/>
<polygon points="337.3,666.9 338.4,667.5 337.3,653 336.2,652.4" fill="#1c8c00"/>
<polygon points="336.2,652.4 337.3,653 389.3,629.1 388.3,628.5" fill="#1c8a00"/>
<polygon points="338.4,667.5 390.3,643.6 389.3,629.1 337.3,653" fill="#20a200"/>
<polygon points="339.1,654.1 341.9,655.8 341.4,649.2 338.6,647.5" fill="#0f4b0f"/>
<polygon points="338.6,647.5 341.4,649.2 393.5,625.3 390.7,623.6" fill="#1c8a1c"/>
<polygon points="341.9,655.8 394,631.9 393.5,625.3 341.4,649.2" fill="#20a220"/>
<polygon points="347,658.9 349.8,660.6 348,635.4 345.1,633.6" fill="#0f4b0f"/>
<polygon points="345.1,633.6 348,635.4 400.3,611.5 397.4,609.8" fill="#1c8a1c"/>
<polygon points="349.8,660.6 401.9,636.6 400.3,611.5 348,635.4" fill="#20a220"/>
<polygon points="354.9,663.7 357.8,665.4 354.6,621.5 351.7,619.8" fill="#0f4b1e"/>
<polygon points="351.7,619.8 354.6,621.5 407.1,597.7 404.2,596" fill="#1c8a37"/>
<polygon points="357.8,665.4 409.9,641.3 407.1,597.7 354.6,621.5" fill="#20a241"/>
<polygon points="363,668.6 365.9,670.3 361.5,608.8 358.6,607.1" fill="#0f4b2d"/>
<polygon points="358.6,607.1 361.5,608.8 414.2,584.9 411.3,583.3" fill="#1c8a52"/>
<polygon points="365.9,670.3 418,646.1 414.2,584.9 361.5,608.8" fill="#20a262"/>
<polygon points="371.1,673.5 374,675.2 368.7,598.7 365.7,597" fill="#0f4b2d"/>
<polygon points="365.7,597 368.7,598.7 421.5,574.9 418.6,573.2" fill="#1c8a52"/>
<polygon points="374,675.2 426.2,650.9 421.5,574.9 368.7,598.7" fill="#20a262"/>
<polygon points="379.3,678.5 382.2,680.2 376,589 373,587.3" fill="#0f4b3c"/>
<polygon points="373,587.3 376,589 429,565.2 426,563.5" fill="#1c8a6e"/>
<polygon points="382.2,680.2 434.4,655.8 429,565.2 376,589" fill="#20a282"/>
<polygon points="387.6,683.5 390.5,685.2 383.4,579.8 380.5,578.1" fill="#0f4b3c"/>
<polygon points="380.5,578.1 383.4,579.8 436.6,556 433.6,554.3" fill="#1c8a6e"/>
<polygon points="390.5,685.2 442.7,660.7 436.6,556 383.4,579.8" fill="#20a282"/>
<polygon points="396,688.5 398.9,690.3 391.2,573.3 388.2,571.6" fill="#0f4b3c"/>
<polygon points="388.2,571.6 391.2,573.3 444.5,549.4 441.5,547.7" fill="#1c8a6e"/>
<polygon points="398.9,690.3 451.1,665.7 444.5,549.4 391.2,573.3" fill="#20a282"/>
<polygon points="404.4,693.6 407.4,695.4 399.2,568.8 396.2,567.1" fill="#0f4b4c"/>
<polygon points="396.2,567.1 399.2,568.8 452.6,544.9 449.6,543.2" fill="#1c8a8c"/>
<polygon points="407.4,695.4 459.6,670.7 452.6,544.9 399.2,568.8" fill="#20a2a6"/>
<polygon points="412.9,698.8 415.9,700.6 407.4,567.2 404.4,565.4" fill="#0f4b4c"/>
<polygon points="404.4,565.4 407.4,567.2 461,543.2 457.9,541.5" fill="#1c8a8c"/>
<polygon points="415.9,700.6 468.2,675.7 461,543.2 407.4,567.2" fill="#20a2a6"/>
<polygon points="421.6,704 424.5,705.8 415.9,565.8 412.8,564.1" fill="#0f4b4c"/>
<polygon points="412.8,564.1 415.9,565.8 469.4,541.8 466.4,540.1" fill="#1c8a8c"/>
<polygon points="424.5,705.8 476.9,680.9 469.4,541.8 415.9,565.8" fill="#20a2a6"/>
<polygon points="430.3,709.3 433.3,711.1 424.6,568.6 421.6,566.9" fill="#0f4b4c"/>
<polygon points="421.6,566.9 424.6,568.6 478.2,544.5 475.2,542.8" fill="#1c8a8c"/>
<polygon points="433.3,711.1 485.6,686 478.2,544.5 424.6,568.6" fill="#20a2a6"/>
<polygon points="439.1,714.6 442.1,716.4 433.5,571.5 430.4,569.7" fill="#0f4b4c"/>
<polygon points="430.4,569.7 433.5,571.5 487.2,547.3 484.1,545.6" fill="#1c8a8c"/>
<polygon points="442.1,716.4 494.4,691.2 487.2,547.3 433.5,571.5" fill="#20a2a6"/>
<polygon points="447.9,720 451,721.8 442.5,576.2 439.4,574.4" fill="#0f4b4c"/>
<polygon points="439.4,574.4 442.5,576.2 496.2,551.8 493.2,550.1" fill="#1c8a8c"/>
<polygon points="451,721.8 503.4,696.5 496.2,551.8 442.5,576.2" fill="#20a2a6"/>
<polygon points="456.9,725.4 459.9,727.3 451.7,581.2 448.6,579.4" fill="#0f4b4c"/>
<polygon points="448.6,579.4 451.7,581.2 505.4,556.8 502.3,555" fill="#1c8a8c"/>
<polygon points="459.9,727.3 512.4,701.8 505.4,556.8 451.7,581.2" fill="#20a2a6"/>
<polygon points="466,730.9 469,732.7 460.9,586 457.8,584.2" fill="#0f4b4c"/>
<polygon points="457.8,584.2 460.9,586 514.7,561.4 511.6,559.7" fill="#1c8a8c"/>
<polygon points="469,732.7 521.5,707.2 514.7,561.4 460.9,586" fill="#20a2a6"/>
<polygon points="475.1,736.4 478.2,738.3 470.3,590.7 467.2,588.9" fill="#0f4b4c"/>
<polygon points="467.2,588.9 470.3,590.7 524.1,566 521,564.3" fill="#1c8a8c"/>
<polygon points="478.2,738.3 530.7,712.6 524.1,566 470.3,590.7" fill="#20a2a6"/>
<polygon points="484.4,742 487.5,743.9 479.7,595.3 476.6,593.5" fill="#0f4b4c"/>
<polygon points="476.6,593.5 479.7,595.3 533.5,570.5 530.4,568.8" fill="#1c8a8c"/>
<polygon points="487.5,743.9 540,718.1 533.5,570.5 479.7,595.3" fill="#20a2a6"/>
<polygon points="493.7,747.7 496.8,749.6 489.4,603.9 486.3,602.1" fill="#0f4b4c"/>
<polygon points="486.3,602.1 489.4,603.9 543.3,579 540.1,577.2" fill="#1c8a8c"/>
<polygon points="496.8,749.6 549.4,723.7 543.3,579 489.4,603.9" fill="#20a2a6"/>
<polygon points="503.2,753.4 506.3,755.3 499.6,618.8 496.4,617" fill="#0f4b4c"/>
<polygon points="496.4,617 499.6,618.8 553.3,593.7 550.2,591.9" fill="#1c8a8c"/>
<polygon points="506.3,755.3 558.8,729.3 553.3,593.7 499.6,618.8" fill="#20a2a6"/>
<polygon points="512.7,759.2 515.8,761.1 509.5,628.9 506.4,627.1" fill="#0f4b4c"/>
<polygon points="506.4,627.1 509.5,628.9 563.3,603.6 560.1,601.9" fill="#1c8a8c"/>
<polygon points="515.8,761.1 568.4,734.9 563.3,603.6 509.5,628.9" fill="#20a2a6"/>
<polygon points="522.4,765 525.5,766.9 519.6,639 516.4,637.2" fill="#0f4b4c"/>
<polygon points="516.4,637.2 519.6,639 573.3,613.6 570.1,611.8" fill="#1c8a8c"/>
<polygon points="525.5,766.9 578.1,740.7 573.3,613.6 519.6,639" fill="#20a2a6"/>
<polygon points="532.1,770.9 535.3,772.8 529.7,649.5 526.5,647.7" fill="#0f4b4c"/>
<polygon points="526.5,647.7 529.7,649.5 583.5,624 580.3,622.2" fill="#1c8a8c"/>
<polygon points="535.3,772.8 587.9,746.4 583.5,624 529.7,649.5" fill="#20a2a6"/>
<polygon points="542,776.9 545.1,778.8 539.9,658.5 536.7,656.7" fill="#0f4b3c"/>
<polygon points="536.7,656.7 539.9,658.5 593.7,632.8 590.4,631" fill="#1c8a6e"/>
<polygon points="545.1,778.8 597.8,752.3 593.7,632.8 539.9,658.5" fill="#20a282"/>
<polygon points="551.9,782.9 555.1,784.8 550.2,668.1 547,666.2" fill="#0f4b3c"/>
<polygon points="547,666.2 550.2,668.1 603.9,642.2 600.7,640.4" fill="#1c8a6e"/>
<polygon points="555.1,784.8 607.7,758.2 603.9,642.2 550.2,668.1" fill="#20a282"/>
<polygon points="561.9,788.9 565,790.9 560.5,676.5 557.2,674.6" fill="#0f4b3c"/>
<polygon points="557.2,674.6 560.5,676.5 614.2,650.5 610.9,648.7" fill="#1c8a6e"/>
<polygon points="565,790.9 617.8,764.1 614.2,650.5 560.5,676.5" fill="#20a282"/>
<polygon points="571.9,795 575.1,796.9 570.9,688.1 567.6,686.2" fill="#0f4b3c"/>
<polygon points="567.6,686.2 570.9,688.1 624.6,661.9 621.3,660" fill="#1c8a6e"/>
<polygon points="575.1,796.9 627.8,770 624.6,661.9 570.9,688.1" fill="#20a282"/>
<polygon points="582,801.1 585.2,803 581.4,699.7 578.1,697.8" fill="#0f4b3c"/>
<polygon points="578.1,697.8 581.4,699.7 635.1,673.4 631.8,671.5" fill="#1c8a6e"/>
<polygon points="585.2,803 637.9,776 635.1,673.4 581.4,699.7" fill="#20a282"/>
<polygon points="592.1,807.2 595.3,809.2 591.9,710.4 588.6,708.4" fill="#0f4b3c"/>
<polygon points="588.6,708.4 591.9,710.4 645.5,683.8 642.2,682" fill="#1c8a6e"/>
<polygon points="595.3,809.2 648.1,782 645.5,683.8 591.9,710.4" fill="#20a282"/>
<polygon points="602.3,813.4 605.5,815.3 602.3,719.7 599,717.7" fill="#0f4b3c"/>
<polygon points="599,717.7 602.3,719.7 656,693 652.7,691.1" fill="#1c8a6e"/>
<polygon points="605.5,815.3 658.3,788 656,693 602.3,719.7" fill="#20a282"/>
<polygon points="612.5,819.6 615.8,821.5 612.8,729 609.5,727.1" fill="#0f4b3c"/>
<polygon points="609.5,727.1 612.8,729 666.5,702.2 663.1,700.3" fill="#1c8a6e"/>
<polygon points="615.8,821.5 668.6,794.1 666.5,702.2 612.8,729" fill="#20a282"/>
<polygon points="622.8,825.8 626.1,827.8 623.4,738.5 620,736.6" fill="#0f4b2d"/>
<polygon points="620,736.6 623.4,738.5 677,711.5 673.7,709.6" fill="#1c8a52"/>
<polygon points="626.1,827.8 678.9,800.2 677,711.5 623.4,738.5" fill="#20a262"/>
<polygon points="633.1,832 636.4,834 634,748.4 630.6,746.4" fill="#0f4b2d"/>
<polygon points="630.6,746.4 634,748.4 687.6,721.2 684.2,719.3" fill="#1c8a52"/>
<polygon points="636.4,834 689.3,806.3 687.6,721.2 634,748.4" fill="#20a262"/>
<polygon points="643.5,838.3 646.8,840.3 644.6,758.6 641.3,756.6" fill="#0f4b2d"/>
<polygon points="641.3,756.6 644.6,758.6 698.2,731.2 694.9,729.3" fill="#1c8a52"/>
<polygon points="646.8,840.3 699.7,812.5 698.2,731.2 644.6,758.6" fill="#20a262"/>
<polygon points="654,844.7 657.3,846.7 655.3,768.9 652,766.9" fill="#0f4b2d"/>
<polygon points="652,766.9 655.3,768.9 708.9,741.4 705.5,739.4" fill="#1c8a52"/>
<polygon points="657.3,846.7 710.2,818.7 708.9,741.4 655.3,768.9" fill="#20a262"/>
<polygon points="664.5,851 667.8,853 666.1,779.3 662.7,777.3" fill="#0f4b2d"/>
<polygon points="662.7,777.3 666.1,779.3 719.6,751.7 716.2,749.7" fill="#1c8a52"/>
<polygon points="667.8,853 720.7,824.9 719.6,751.7 666.1,779.3" fill="#20a262"/>
<polygon points="675,857.4 678.4,859.4 676.9,789.9 673.4,787.9" fill="#0f4b2d"/>
<polygon points="673.4,787.9 676.9,789.9 730.4,762 727,760.1" fill="#1c8a52"/>
<polygon points="678.4,859.4 731.3,831.1 730.4,762 676.9,789.9" fill="#20a262"/>
<polygon points="685.6,863.8 689,865.9 687.7,800.4 684.3,798.4" fill="#0f4b2d"/>
<polygon points="684.3,798.4 687.7,800.4 741.2,772.4 737.8,770.4" fill="#1c8a52"/>
<polygon points="689,865.9 742,837.4 741.2,772.4 687.7,800.4" fill="#20a262"/>
<polygon points="696.3,870.3 699.7,872.3 698.6,811 695.1,808.9" fill="#0f4b1e"/>
<polygon points="695.1,808.9 698.6,811 752.1,782.8 748.6,780.8" fill="#1c8a37"/>
<polygon points="699.7,872.3 752.7,843.7 752.1,782.8 698.6,811" fill="#20a241"/>
<polygon points="707,876.7 710.4,878.8 709.5,821.8 706,819.8" fill="#0f4b1e"/>
<polygon points="706,819.8 709.5,821.8 763,793.4 759.5,791.4" fill="#1c8a37"/>
<polygon points="710.4,878.8 763.4,850.1 763,793.4 709.5,821.8" fill="#20a241"/>
<polygon points="717.8,883.3 721.2,885.3 720.4,830 716.9,828" fill="#0f4b1e"/>
<polygon points="716.9,828 720.4,830 773.9,801.5 770.4,799.5" fill="#1c8a37"/>
<polygon points="721.2,885.3 774.2,856.5 773.9,801.5 720.4,830" fill="#20a241"/>
<polygon points="728.6,889.8 732.1,891.9 731.3,837.9 727.9,835.8" fill="#0f4b1e"/>
<polygon points="727.9,835.8 731.3,837.9 784.8,809.2 781.3,807.2" fill="#1c8a37"/>
<polygon points="732.1,891.9 785.1,862.9 784.8,809.2 731.3,837.9" fill="#20a241"/>
<polygon points="739.5,896.4 743,898.5 742.4,845.8 738.8,843.7" fill="#0f4b1e"/>
<polygon points="738.8,843.7 742.4,845.8 795.9,816.9 792.3,814.9" fill="#1c8a37"/>
<polygon points="743,898.5 796,869.3 795.9,816.9 742.4,845.8" fill="#20a241"/>
<polygon points="750.4,903 753.9,905.1 753.4,853.9 749.9,851.8" fill="#0f4b1e"/>
<polygon points="749.9,851.8 753.4,853.9 806.9,824.9 803.4,822.8" fill="#1c8a37"/>
<polygon points="753.9,905.1 807,875.8 806.9,824.9 753.4,853.9" fill="#20a241"/>
<polygon points="761.4,909.7 764.9,911.8 764.6,862 761,859.9" fill="#0f4b1e"/>
<polygon points="761,859.9 764.6,862 818.1,832.9 814.5,830.8" fill="#1c8a37"/>
<polygon points="764.9,911.8 818,882.3 818.1,832.9 764.6,862" fill="#20a241"/>
<polygon points="772.5,916.4 776,918.5 775.7,870.2 772.2,868.1" fill="#0f4b1e"/>
<polygon points="772.2,868.1 775.7,870.2 829.2,840.9 825.7,838.9" fill="#1c8a37"/>
<polygon points="776,918.5 829.1,888.9 829.2,840.9 775.7,870.2" fill="#20a241"/>
<polygon points="783.6,923.1 787.1,925.2 787,878.5 783.4,876.4" fill="#0f4b1e"/>
<polygon points="783.4,876.4 787,878.5 840.5,849 836.9,846.9" fill="#1c8a37"/>
<polygon points="787.1,925.2 840.2,895.5 840.5,849 787,878.5" fill="#20a241"/>
<polygon points="794.8,929.9 798.3,932 798.2,886.9 794.6,884.7" fill="#0f4b1e"/>
<polygon points="794.6,884.7 798.2,886.9 851.7,857.2 848.1,855.1" fill="#1c8a37"/>
<polygon points="798.3,932 851.4,902.1 851.7,857.2 798.2,886.9" fill="#20a241"/>
<polygon points="806,936.7 809.6,938.8 809.6,895.3 806,893.1" fill="#0f4b1e"/>
<polygon points="806,893.1 809.6,895.3 863.1,865.5 859.5,863.4" fill="#1c8a37"/>
<polygon points="809.6,938.8 862.7,908.7 863.1,865.5 809.6,895.3" fill="#20a241"/>
<polygon points="817.3,943.5 820.9,945.7 821,903.8 817.3,901.6" fill="#0f4b1e"/>
<polygon points="817.3,901.6 821,903.8 874.5,873.8 870.8,871.7" fill="#1c8a37"/>
<polygon points="820.9,945.7 874,915.4 874.5,873.8 821,903.8" fill="#20a241"/>
<polygon points="828.7,950.4 832.3,952.6 832.4,913 828.8,910.8" fill="#0f4b1e"/>
<polygon points="828.8,910.8 832.4,913 885.9,882.8 882.2,880.7" fill="#1c8a37"/>
<polygon points="832.3,952.6 885.4,922.1 885.9,882.8 832.4,913" fill="#20a241"/>
<polygon points="840.1,957.3 843.7,959.5 843.9,922.9 840.3,920.7" fill="#0f4b1e"/>
<polygon points="840.3,920.7 843.9,922.9 897.4,892.6 893.7,890.4" fill="#1c8a37"/>
<polygon points="843.7,959.5 896.9,928.9 897.4,892.6 843.9,922.9" fill="#20a241"/>
<polygon points="847.1,961.5 850.7,963.7 851,929 847.3,926.8" fill="#0f4b1e"/>
<polygon points="847.3,926.8 851,929 904.4,898.5 900.7,896.4" fill="#1c8a37"/>
<polygon points="850.7,963.7 903.9,933 904.4,898.5 851,929" fill="#20a241"/>
<polygon points="243.1,967.5 249.6,972 220.3,660.7 213.5,656.4" fill="#7f0505"/>
<polygon points="213.5,656.4 220.3,660.7 273.7,636.7 266.9,632.5" fill="#710404"/>
<polygon points="249.6,972 300,946.2 273.7,636.7 220.3,660.7" fill="#850505"/>
<polygon points="247.1,901.8 248,902.5 225.8,664.1 224.8,663.5" fill="#845804"/>
<polygon points="224.8,663.5 225.8,664.1 279.2,640.1 278.2,639.4" fill="#815704"/>
<polygon points="248,902.5 299.2,877 279.2,640.1 225.8,664.1" fill="#996705"/>
<polygon points="248,884.7 248.9,885.4 228.6,665.9 227.6,665.2" fill="#897306"/>
<polygon points="227.6,665.2 228.6,665.9 282,641.8 281,641.1" fill="#877106"/>
<polygon points="248.9,885.4 300.3,859.9 282,641.8 228.6,665.9" fill="#9f8506"/>
<polygon points="248.8,866.1 249.7,866.8 231.3,667.6 230.3,667" fill="#897306"/>
<polygon points="230.3,667 231.3,667.6 284.8,643.5 283.8,642.8" fill="#877106"/>
<polygon points="249.7,866.8 301.3,841.4 284.8,643.5 231.3,667.6" fill="#9f8506"/>
<polygon points="247.5,820 248.5,820.7 234.6,669.7 233.6,669" fill="#7b8c06"/>
<polygon points="233.6,669 234.6,669.7 288.1,645.5 287.1,644.8" fill="#798a06"/>
<polygon points="248.5,820.7 300.5,795.5 288.1,645.5 234.6,669.7" fill="#8fa206"/>
<polygon points="248.5,785.2 249.5,785.8 239.2,672.5 238.2,671.9" fill="#558c06"/>
<polygon points="238.2,671.9 239.2,672.5 292.7,648.3 291.6,647.6" fill="#548a06"/>
<polygon points="249.5,785.8 301.9,760.9 292.7,648.3 239.2,672.5" fill="#63a206"/>
<polygon points="251.1,761.6 252.1,762.2 244.3,675.7 243.2,675.1" fill="#428c06"/>
<polygon points="243.2,675.1 244.3,675.7 297.8,651.4 296.7,650.8" fill="#418a06"/>
<polygon points="252.1,762.2 304.8,737.3 297.8,651.4 244.3,675.7" fill="#4da206"/>
<polygon points="254.1,742 255.1,742.6 249.4,678.9 248.3,678.3" fill="#428c06"/>
<polygon points="248.3,678.3 249.4,678.9 302.9,654.5 301.8,653.9" fill="#418a06"/>
<polygon points="255.1,742.6 308,717.8 302.9,654.5 249.4,678.9" fill="#4da206"/>
<polygon points="257.3,725.1 258.3,725.7 254.5,682.1 253.4,681.5" fill="#2f8c03"/>
<polygon points="253.4,681.5 254.5,682.1 308,657.6 307,657" fill="#2e8a03"/>
<polygon points="258.3,725.7 311.5,701 308,657.6 254.5,682.1" fill="#37a203"/>
<polygon points="260.1,713.2 261.1,713.8 258.6,684.7 257.5,684" fill="#1c8c00"/>
<polygon points="257.5,684 258.6,684.7 312.1,660.1 311.1,659.5" fill="#1c8a00"/>
<polygon points="261.1,713.8 314.4,689.1 312.1,660.1 258.6,684.7" fill="#20a200"/>
<polygon points="262.9,701.2 263.9,701.9 262.7,687.2 261.6,686.6" fill="#1c8c00"/>
<polygon points="261.6,686.6 262.7,687.2 316.2,662.7 315.2,662" fill="#1c8a00"/>
<polygon points="263.9,701.9 317.4,677.2 316.2,662.7 262.7,687.2" fill="#20a200"/>
<polygon points="264.5,688.4 267.3,690.1 266.8,684.3 263.9,682.5" fill="#0f4b0f"/>
<polygon points="263.9,682.5 266.8,684.3 320.4,659.7 317.6,658" fill="#1c8a1c"/>
<polygon points="267.3,690.1 320.9,665.5 320.4,659.7 266.8,684.3" fill="#20a220"/>
<polygon points="272.3,693.3 275.1,695.1 273.2,672.5 270.4,670.8" fill="#0f4b0f"/>
<polygon points="270.4,670.8 273.2,672.5 327,647.9 324.2,646.2" fill="#1c8a1c"/>
<polygon points="275.1,695.1 328.8,670.3 327,647.9 273.2,672.5" fill="#20a220"/>
<polygon points="280.2,698.2 283.1,700 279.7,660 276.8,658.2" fill="#0f4b1e"/>
<polygon points="276.8,658.2 279.7,660 333.7,635.4 330.8,633.7" fill="#1c8a37"/>
<polygon points="283.1,700 336.7,675.2 333.7,635.4 279.7,660" fill="#20a241"/>
<polygon points="288.2,703.3 291.1,705 286.4,648.7 283.5,646.9" fill="#0f4b1e"/>
<polygon points="283.5,646.9 286.4,648.7 340.6,624.1 337.7,622.4" fill="#1c8a37"/>
<polygon points="291.1,705 344.8,680.1 340.6,624.1 286.4,648.7" fill="#20a241"/>
<polygon points="296.3,708.3 299.2,710.1 293.5,641.3 290.6,639.6" fill="#0f4b2d"/>
<polygon points="290.6,639.6 293.5,641.3 347.9,616.7 345,615" fill="#1c8a52"/>
<polygon points="299.2,710.1 352.9,685.1 347.9,616.7 293.5,641.3" fill="#20a262"/>
<polygon points="304.5,713.4 307.4,715.2 300.9,634.9 297.9,633.1" fill="#0f4b2d"/>
<polygon points="297.9,633.1 300.9,634.9 355.4,610.3 352.4,608.5" fill="#1c8a52"/>
<polygon points="307.4,715.2 361.1,690.1 355.4,610.3 300.9,634.9" fill="#20a262"/>
<polygon points="312.7,718.6 315.6,720.4 308.3,629.1 305.4,627.4" fill="#0f4b3c"/>
<polygon points="305.4,627.4 308.3,629.1 363,604.5 360,602.7" fill="#1c8a6e"/>
<polygon points="315.6,720.4 369.4,695.2 363,604.5 308.3,629.1" fill="#20a282"/>
<polygon points="321,723.8 324,725.6 316.1,625.6 313.2,623.8" fill="#0f4b3c"/>
<polygon points="313.2,623.8 316.1,625.6 370.9,600.9 367.9,599.1" fill="#1c8a6e"/>
<polygon points="324,725.6 377.8,700.3 370.9,600.9 316.1,625.6" fill="#20a282"/>
<polygon points="329.4,729.1 332.4,730.9 324.1,623.8 321.1,622" fill="#0f4b3c"/>
<polygon points="321.1,622 324.1,623.8 379,599 376,597.3" fill="#1c8a6e"/>
<polygon points="332.4,730.9 386.2,705.4 379,599 324.1,623.8" fill="#20a282"/>
<polygon points="337.9,734.4 340.9,736.2 332.4,624.2 329.4,622.4" fill="#0f4b3c"/>
<polygon points="329.4,622.4 332.4,624.2 387.3,599.3 384.3,597.6" fill="#1c8a6e"/>
<polygon points="340.9,736.2 394.7,710.7 387.3,599.3 332.4,624.2" fill="#20a282"/>
<polygon points="346.5,739.8 349.5,741.6 340.8,624.8 337.8,623" fill="#0f4b3c"/>
<polygon points="337.8,623 340.8,624.8 395.8,599.9 392.8,598.1" fill="#1c8a6e"/>
<polygon points="349.5,741.6 403.4,715.9 395.8,599.9 340.8,624.8" fill="#20a282"/>
<polygon points="355.2,745.2 358.1,747.1 349.5,628.4 346.5,626.6" fill="#0f4b3c"/>
<polygon points="346.5,626.6 349.5,628.4 404.5,603.4 401.5,601.6" fill="#1c8a6e"/>
<polygon points="358.1,747.1 412.1,721.2 404.5,603.4 349.5,628.4" fill="#20a282"/>
<polygon points="363.9,750.7 366.9,752.6 358.3,632 355.2,630.2" fill="#0f4b3c"/>
<polygon points="355.2,630.2 358.3,632 413.4,606.9 410.3,605.1" fill="#1c8a6e"/>
<polygon points="366.9,752.6 420.9,726.6 413.4,606.9 358.3,632" fill="#20a282"/>
<polygon points="372.8,756.2 375.8,758.1 367.2,637.1 364.2,635.3" fill="#0f4b3c"/>
<polygon points="364.2,635.3 367.2,637.1 422.4,611.9 419.3,610.1" fill="#1c8a6e"/>
<polygon points="375.8,758.1 429.8,732 422.4,611.9 367.2,637.1" fill="#20a282"/>
<polygon points="381.7,761.8 384.7,763.7 376.4,642.5 373.3,640.7" fill="#0f4b3c"/>
<polygon points="373.3,640.7 376.4,642.5 431.5,617.2 428.4,615.4" fill="#1c8a6e"/>
<polygon points="384.7,763.7 438.7,737.5 431.5,617.2 376.4,642.5" fill="#20a282"/>
<polygon points="390.7,767.5 393.8,769.4 385.5,648 382.5,646.2" fill="#0f4b3c"/>
<polygon points="382.5,646.2 385.5,648 440.7,622.5 437.6,620.7" fill="#1c8a6e"/>
<polygon points="393.8,769.4 447.8,743.1 440.7,622.5 385.5,648" fill="#20a282"/>
<polygon points="399.8,773.2 402.9,775.1 394.8,653.6 391.7,651.7" fill="#0f4b3c"/>
<polygon points="391.7,651.7 394.8,653.6 450.1,627.9 447,626.1" fill="#1c8a6e"/>
<polygon points="402.9,775.1 457,748.7 450.1,627.9 394.8,653.6" fill="#20a282"/>
<polygon points="409.1,779 412.1,780.9 404.2,659.2 401.1,657.3" fill="#0f4b3c"/>
<polygon points="401.1,657.3 404.2,659.2 459.5,633.4 456.4,631.6" fill="#1c8a6e"/>
<polygon points="412.1,780.9 466.2,754.3 459.5,633.4 404.2,659.2" fill="#20a282"/>
<polygon points="418.4,784.8 421.4,786.7 413.9,668 410.8,666.2" fill="#0f4b3c"/>
<polygon points="410.8,666.2 413.9,668 469.2,642.1 466,640.3" fill="#1c8a6e"/>
<polygon points="421.4,786.7 475.6,760 469.2,642.1 413.9,668" fill="#20a282"/>
<polygon points="427.8,790.7 430.8,792.6 423.9,680.7 420.8,678.9" fill="#0f4b3c"/>
<polygon points="420.8,678.9 423.9,680.7 479.1,654.7 476,652.8" fill="#1c8a6e"/>
<polygon points="430.8,792.6 485,765.8 479.1,654.7 423.9,680.7" fill="#20a282"/>
<polygon points="437.3,796.6 440.4,798.6 433.8,690.3 430.7,688.4" fill="#0f4b3c"/>
<polygon points="430.7,688.4 433.8,690.3 489,664.1 485.9,662.3" fill="#1c8a6e"/>
<polygon points="440.4,798.6 494.6,771.7 489,664.1 433.8,690.3" fill="#20a282"/>
<polygon points="446.9,802.7 450,804.6 443.8,700.4 440.7,698.5" fill="#0f4b3c"/>
<polygon points="440.7,698.5 443.8,700.4 499.1,674 495.9,672.2" fill="#1c8a6e"/>
<polygon points="450,804.6 504.2,777.5 499.1,674 443.8,700.4" fill="#20a282"/>
<polygon points="456.6,808.7 459.7,810.7 454,710.7 450.8,708.8" fill="#0f4b3c"/>
<polygon points="450.8,708.8 454,710.7 509.2,684.1 506,682.3" fill="#1c8a6e"/>
<polygon points="459.7,810.7 514,783.5 509.2,684.1 454,710.7" fill="#20a282"/>
<polygon points="466.4,814.9 469.5,816.9 464.1,720.5 460.9,718.6" fill="#0f4b3c"/>
<polygon points="460.9,718.6 464.1,720.5 519.3,693.8 516.1,691.9" fill="#1c8a6e"/>
<polygon points="469.5,816.9 523.8,789.5 519.3,693.8 464.1,720.5" fill="#20a282"/>
<polygon points="476.3,821.1 479.4,823.1 474.4,730.4 471.2,728.5" fill="#0f4b3c"/>
<polygon points="471.2,728.5 474.4,730.4 529.6,703.6 526.4,701.7" fill="#1c8a6e"/>
<polygon points="479.4,823.1 533.7,795.6 529.6,703.6 474.4,730.4" fill="#20a282"/>
<polygon points="486.2,827.3 489.4,829.3 484.7,739.7 481.4,737.7" fill="#0f4b2d"/>
<polygon points="481.4,737.7 484.7,739.7 539.8,712.6 536.6,710.7" fill="#1c8a52"/>
<polygon points="489.4,829.3 543.7,801.7 539.8,712.6 484.7,739.7" fill="#20a262"/>
<polygon points="496.2,833.6 499.4,835.6 495.1,750.8 491.8,748.9" fill="#0f4b2d"/>
<polygon points="491.8,748.9 495.1,750.8 550.2,723.6 547,721.7" fill="#1c8a52"/>
<polygon points="499.4,835.6 553.8,807.8 550.2,723.6 495.1,750.8" fill="#20a262"/>
<polygon points="506.2,839.9 509.4,841.9 505.5,762 502.2,760.1" fill="#0f4b2d"/>
<polygon points="502.2,760.1 505.5,762 560.6,734.7 557.4,732.7" fill="#1c8a52"/>
<polygon points="509.4,841.9 563.8,814 560.6,734.7 505.5,762" fill="#20a262"/>
<polygon points="516.3,846.2 519.5,848.2 515.9,772.5 512.7,770.5" fill="#0f4b2d"/>
<polygon points="512.7,770.5 515.9,772.5 571.1,745 567.8,743" fill="#1c8a52"/>
<polygon points="519.5,848.2 574,820.2 571.1,745 515.9,772.5" fill="#20a262"/>
<polygon points="526.5,852.5 529.7,854.6 526.4,782 523.1,780" fill="#0f4b2d"/>
<polygon points="523.1,780 526.4,782 581.5,754.3 578.2,752.4" fill="#1c8a52"/>
<polygon points="529.7,854.6 584.2,826.4 581.5,754.3 526.4,782" fill="#20a262"/>
<polygon points="536.7,858.9 539.9,861 536.8,791.6 533.5,789.5" fill="#0f4b2d"/>
<polygon points="533.5,789.5 536.8,791.6 592,763.7 588.6,761.7" fill="#1c8a52"/>
<polygon points="539.9,861 594.4,832.7 592,763.7 536.8,791.6" fill="#20a262"/>
<polygon points="546.9,865.4 550.2,867.4 547.3,801.1 544,799.1" fill="#0f4b2d"/>
<polygon points="544,799.1 547.3,801.1 602.5,773.1 599.1,771.1" fill="#1c8a52"/>
<polygon points="550.2,867.4 604.7,839 602.5,773.1 547.3,801.1" fill="#20a262"/>
<polygon points="557.2,871.8 560.5,873.9 557.9,810.9 554.6,808.8" fill="#0f4b2d"/>
<polygon points="554.6,808.8 557.9,810.9 613,782.7 609.7,780.7" fill="#1c8a52"/>
<polygon points="560.5,873.9 615,845.3 613,782.7 557.9,810.9" fill="#20a262"/>
<polygon points="567.6,878.3 570.9,880.4 568.5,820.8 565.2,818.8" fill="#0f4b1e"/>
<polygon points="565.2,818.8 568.5,820.8 623.6,792.4 620.3,790.4" fill="#1c8a37"/>
<polygon points="570.9,880.4 625.4,851.6 623.6,792.4 568.5,820.8" fill="#20a241"/>
<polygon points="578,884.8 581.3,886.9 579.2,830.8 575.8,828.7" fill="#0f4b1e"/>
<polygon points="575.8,828.7 579.2,830.8 634.3,802.2 630.9,800.2" fill="#1c8a37"/>
<polygon points="581.3,886.9 635.9,858 634.3,802.2 579.2,830.8" fill="#20a241"/>
<polygon points="588.4,891.4 591.8,893.5 589.9,840.8 586.5,838.7" fill="#0f4b1e"/>
<polygon points="586.5,838.7 589.9,840.8 645,812.1 641.6,810.1" fill="#1c8a37"/>
<polygon points="591.8,893.5 646.4,864.4 645,812.1 589.9,840.8" fill="#20a241"/>
<polygon points="599,898 602.3,900.1 600.6,850.8 597.2,848.7" fill="#0f4b1e"/>
<polygon points="597.2,848.7 600.6,850.8 655.7,822 652.3,819.9" fill="#1c8a37"/>
<polygon points="602.3,900.1 656.9,870.9 655.7,822 600.6,850.8" fill="#20a241"/>
<polygon points="609.5,904.6 612.9,906.7 611.4,860.9 608,858.8" fill="#0f4b1e"/>
<polygon points="608,858.8 611.4,860.9 666.5,831.9 663.1,829.8" fill="#1c8a37"/>
<polygon points="612.9,906.7 667.6,877.4 666.5,831.9 611.4,860.9" fill="#20a241"/>
<polygon points="620.2,911.3 623.6,913.4 622.2,871.1 618.8,868.9" fill="#0f4b1e"/>
<polygon points="618.8,868.9 622.2,871.1 677.3,841.8 673.9,839.8" fill="#1c8a37"/>
<polygon points="623.6,913.4 678.2,883.9 677.3,841.8 622.2,871.1" fill="#20a241"/>
<polygon points="630.9,918 634.3,920.1 633.1,881.2 629.7,879.1" fill="#0f4b1e"/>
<polygon points="629.7,879.1 633.1,881.2 688.2,851.8 684.7,849.7" fill="#1c8a37"/>
<polygon points="634.3,920.1 689,890.5 688.2,851.8 633.1,881.2" fill="#20a241"/>
<polygon points="641.6,924.7 645,926.9 644,889.5 640.5,887.4" fill="#0f4b1e"/>
<polygon points="640.5,887.4 644,889.5 699.1,860 695.6,857.9" fill="#1c8a37"/>
<polygon points="645,926.9 699.7,897 699.1,860 644,889.5" fill="#20a241"/>
<polygon points="652.4,931.5 655.9,933.6 654.9,897.5 651.4,895.4" fill="#0f4b1e"/>
<polygon points="651.4,895.4 654.9,897.5 710,867.8 706.5,865.7" fill="#1c8a37"/>
<polygon points="655.9,933.6 710.6,903.7 710,867.8 654.9,897.5" fill="#20a241"/>
<polygon points="663.3,938.3 666.7,940.4 665.9,905.6 662.4,903.4" fill="#0f4b1e"/>
<polygon points="662.4,903.4 665.9,905.6 721,875.7 717.5,873.6" fill="#1c8a37"/>
<polygon points="666.7,940.4 721.5,910.3 721,875.7 665.9,905.6" fill="#20a241"/>
<polygon points="674.2,945.1 677.7,947.3 676.9,913.7 673.4,911.5" fill="#0f4b1e"/>
<polygon points="673.4,911.5 676.9,913.7 732,883.6 728.5,881.5" fill="#1c8a37"/>
<polygon points="677.7,947.3 732.4,917 732,883.6 676.9,913.7" fill="#20a241"/>
<polygon points="685.1,952 688.7,954.2 688,921.8 684.5,919.6" fill="#0f4b1e"/>
<polygon points="684.5,919.6 688,921.8 743.1,891.6 739.5,889.4" fill="#1c8a37"/>
<polygon points="688.7,954.2 743.4,923.7 743.1,891.6 688,921.8" fill="#20a241"/>
<polygon points="696.2,958.9 699.7,961.1 699.1,930 695.6,927.8" fill="#0f4b0f"/>
<polygon points="695.6,927.8 699.1,930 754.2,899.6 750.7,897.4" fill="#1c8a1c"/>
<polygon points="699.7,961.1 754.5,930.5 754.2,899.6 699.1,930" fill="#20a220"/>
<polygon points="707.3,965.9 710.8,968.1 710.3,938.2 706.8,936" fill="#0f4b0f"/>
<polygon points="706.8,936 710.3,938.2 765.4,907.6 761.9,905.5" fill="#1c8a1c"/>
<polygon points="710.8,968.1 765.6,937.3 765.4,907.6 710.3,938.2" fill="#20a220"/>
<polygon points="718.4,972.8 722,975.1 721.6,946.4 718,944.2" fill="#0f4b0f"/>
<polygon points="718,944.2 721.6,946.4 776.7,915.7 773.1,913.5" fill="#1c8a1c"/>
<polygon points="722,975.1 776.8,944.2 776.7,915.7 721.6,946.4" fill="#20a220"/>
<polygon points="729.6,979.9 733.2,982.1 732.9,954.7 729.3,952.5" fill="#0f4b0f"/>
<polygon points="729.3,952.5 732.9,954.7 788,923.8 784.4,921.6" fill="#1c8a1c"/>
<polygon points="733.2,982.1 788.1,951 788,923.8 732.9,954.7" fill="#20a220"/>
<polygon points="740.9,986.9 744.5,989.2 744.2,963.1 740.6,960.8" fill="#0f4b0f"/>
<polygon points="740.6,960.8 744.2,963.1 799.3,932 795.7,929.8" fill="#1c8a1c"/>
<polygon points="744.5,989.2 799.4,957.9 799.3,932 744.2,963.1" fill="#20a220"/>
<polygon points="752.3,994 755.9,996.3 755.7,971.9 752,969.6" fill="#0f4b0f"/>
<polygon points="752,969.6 755.7,971.9 810.8,940.6 807.1,938.4" fill="#1c8a1c"/>
<polygon points="755.9,996.3 810.8,964.9 810.8,940.6 755.7,971.9" fill="#20a220"/>
<polygon points="763.6,1001.2 767.3,1003.5 767.1,981.4 763.5,979.1" fill="#0f4b0f"/>
<polygon points="763.5,979.1 767.1,981.4 822.2,949.9 818.6,947.7" fill="#1c8a1c"/>
<polygon points="767.3,1003.5 822.2,971.9 822.2,949.9 767.1,981.4" fill="#20a220"/>
<polygon points="770.6,1005.6 774.3,1007.8 774.2,987.2 770.5,984.9" fill="#0f4b0f"/>
<polygon points="770.5,984.9 774.2,987.2 829.3,955.6 825.6,953.4" fill="#1c8a1c"/>
<polygon points="774.3,1007.8 829.2,976.1 829.3,955.6 774.2,987.2" fill="#20a220"/>
</g>
<g id="axes">
<line x1="223.8" y1="1006.2" x2="152.3" y2="283.4" stroke="#000" stroke-width="4.2" stroke-linecap="square"/>
<line x1="223.8" y1="1006.2" x2="766.3" y2="1397.2" stroke="#000" stroke-width="4.2" stroke-linecap="square"/>
<line x1="221.5" y1="982.8" x2="203.2" y2="992.1" stroke="#000" stroke-width="3.4" />
<line x1="218.9" y1="956.6" x2="210.4" y2="960.9" stroke="#000" stroke-width="3.4" />
<line x1="216.3" y1="930.2" x2="198" y2="939.4" stroke="#000" stroke-width="3.4" />
<line x1="213.7" y1="903.5" x2="205.1" y2="907.7" stroke="#000" stroke-width="3.4" />
<line x1="211" y1="876.6" x2="192.6" y2="885.6" stroke="#000" stroke-width="3.4" />
<line x1="208.3" y1="849.5" x2="199.8" y2="853.6" stroke="#000" stroke-width="3.4" />
<line x1="205.6" y1="822.1" x2="187.1" y2="831" stroke="#000" stroke-width="3.4" />
<line x1="202.9" y1="794.5" x2="194.3" y2="798.5" stroke="#000" stroke-width="3.4" />
<line x1="200.1" y1="766.6" x2="181.5" y2="775.3" stroke="#000" stroke-width="3.4" />
<line x1="197.3" y1="738.5" x2="188.7" y2="742.4" stroke="#000" stroke-width="3.4" />
<line x1="194.5" y1="710.1" x2="175.9" y2="718.6" stroke="#000" stroke-width="3.4" />
<line x1="191.7" y1="681.4" x2="183" y2="685.3" stroke="#000" stroke-width="3.4" />
<line x1="188.8" y1="652.5" x2="170.1" y2="660.8" stroke="#000" stroke-width="3.4" />
<line x1="185.9" y1="623.3" x2="177.2" y2="627.1" stroke="#000" stroke-width="3.4" />
<line x1="183" y1="593.8" x2="164.2" y2="602" stroke="#000" stroke-width="3.4" />
<line x1="180.1" y1="564.1" x2="171.3" y2="567.9" stroke="#000" stroke-width="3.4" />
<line x1="177.1" y1="534.1" x2="158.2" y2="542.1" stroke="#000" stroke-width="3.4" />
<line x1="174.1" y1="503.8" x2="165.3" y2="507.5" stroke="#000" stroke-width="3.4" />
<line x1="171.1" y1="473.2" x2="152.1" y2="481" stroke="#000" stroke-width="3.4" />
<line x1="168" y1="442.3" x2="159.2" y2="445.9" stroke="#000" stroke-width="3.4" />
<line x1="165" y1="411.2" x2="145.9" y2="418.8" stroke="#000" stroke-width="3.4" />
<line x1="161.8" y1="379.7" x2="153" y2="383.2" stroke="#000" stroke-width="3.4" />
<line x1="158.7" y1="347.9" x2="139.6" y2="355.3" stroke="#000" stroke-width="3.4" />
<line x1="155.5" y1="315.8" x2="146.6" y2="319.2" stroke="#000" stroke-width="3.4" />
<line x1="152.3" y1="283.4" x2="133.1" y2="290.6" stroke="#000" stroke-width="3.4" />
<line x1="223.8" y1="1006.2" x2="205.2" y2="1015.8" stroke="#000" stroke-width="3.4" />
<line x1="247.6" y1="1023.3" x2="239.2" y2="1027.7" stroke="#000" stroke-width="3.4" />
<line x1="271.7" y1="1040.7" x2="253.1" y2="1050.5" stroke="#000" stroke-width="3.4" />
<line x1="296" y1="1058.2" x2="287.7" y2="1062.7" stroke="#000" stroke-width="3.4" />
<line x1="320.8" y1="1076.1" x2="302.3" y2="1086" stroke="#000" stroke-width="3.4" />
<line x1="345.8" y1="1094.1" x2="337.5" y2="1098.7" stroke="#000" stroke-width="3.4" />
<line x1="371.2" y1="1112.4" x2="352.8" y2="1122.6" stroke="#000" stroke-width="3.4" />
<line x1="396.9" y1="1131" x2="388.6" y2="1135.6" stroke="#000" stroke-width="3.4" />
<line x1="423" y1="1149.8" x2="404.7" y2="1160.1" stroke="#000" stroke-width="3.4" />
<line x1="449.5" y1="1168.8" x2="441.2" y2="1173.5" stroke="#000" stroke-width="3.4" />
<line x1="476.3" y1="1188.2" x2="458.1" y2="1198.7" stroke="#000" stroke-width="3.4" />
<line x1="503.4" y1="1207.7" x2="495.2" y2="1212.5" stroke="#000" stroke-width="3.4" />
<line x1="531" y1="1227.6" x2="512.9" y2="1238.3" stroke="#000" stroke-width="3.4" />
<line x1="559" y1="1247.8" x2="550.8" y2="1252.7" stroke="#000" stroke-width="3.4" />
<line x1="587.3" y1="1268.2" x2="569.4" y2="1279.1" stroke="#000" stroke-width="3.4" />
<line x1="616.1" y1="1288.9" x2="608" y2="1293.9" stroke="#000" stroke-width="3.4" />
<line x1="645.2" y1="1310" x2="627.4" y2="1321.1" stroke="#000" stroke-width="3.4" />
<line x1="674.8" y1="1331.3" x2="666.8" y2="1336.4" stroke="#000" stroke-width="3.4" />
<line x1="704.9" y1="1352.9" x2="687.2" y2="1364.3" stroke="#000" stroke-width="3.4" />
<line x1="735.4" y1="1374.9" x2="727.4" y2="1380.1" stroke="#000" stroke-width="3.4" />
<line x1="766.3" y1="1397.2" x2="748.7" y2="1408.8" stroke="#000" stroke-width="3.4" />
</g>
<g id="layers" fill="none">
<line x1="97.5" y1="1089.5" x2="652.0" y2="1520.0" stroke="#ff0000" stroke-width="6.4" />
<polygon points="667.5,1532.0 636.7,1519.5 647.7,1505.3" fill="#ff0000"/>
<polyline points="767.2,1006.2 767.2,1051.5 987.5,922.8 987.5,876.5" stroke="#ff0000" stroke-width="6" fill="none" stroke-linejoin="miter"/>
<line x1="767.2" y1="1051.5" x2="767.2" y2="1056.5" stroke="#ff0000" stroke-width="6"/>
<line x1="987.5" y1="922.8" x2="987.5" y2="927.8" stroke="#ff0000" stroke-width="6"/>
<polyline points="1000.4,871.0 1000.4,917.3 1190.6,798.0 1190.6,750.6" stroke="#ff0000" stroke-width="6" fill="none" stroke-linejoin="miter"/>
<line x1="1000.4" y1="917.3" x2="1000.4" y2="922.3" stroke="#ff0000" stroke-width="6"/>
<line x1="1190.6" y1="798.0" x2="1190.6" y2="803.0" stroke="#ff0000" stroke-width="6"/>
<polyline points="1200.5,748.3 1200.5,792.5 1368.5,694.0 1368.5,650.0" stroke="#ff0000" stroke-width="6" fill="none" stroke-linejoin="miter"/>
<line x1="1200.5" y1="792.5" x2="1200.5" y2="797.5" stroke="#ff0000" stroke-width="6"/>
<line x1="1368.5" y1="694.0" x2="1368.5" y2="699.0" stroke="#ff0000" stroke-width="6"/>
</g>
<g id="interface-arrow">
<line x1="1258.5" y1="286.0" x2="1122.5" y2="358.4" stroke="#9900cc" stroke-width="6.8" />
<polygon points="1096.0,372.5 1120.6,346.4 1131.4,366.7" fill="#9900cc"/>
</g>
<g id="colorbar">
<rect x="1621.0" y="137.8" width="72.8" height="42.7" fill="rgb(2,22,190)"/>
<rect x="1621.0" y="180.0" width="72.8" height="41.8" fill="rgb(0,0,255)"/>
<rect x="1621.0" y="221.3" width="72.8" height="41.8" fill="rgb(10,46,255)"/>
<rect x="1621.0" y="262.5" width="72.8" height="41.8" fill="rgb(20,96,255)"/>
<rect x="1621.0" y="303.8" width="72.8" height="41.8" fill="rgb(32,148,255)"/>
<rect x="1621.0" y="345.0" width="72.8" height="41.8" fill="rgb(42,198,255)"/>
<rect x="1621.0" y="386.3" width="72.8" height="41.8" fill="rgb(50,250,255)"/>
<rect x="1621.0" y="427.6" width="72.8" height="41.8" fill="rgb(50,250,200)"/>
<rect x="1621.0" y="468.8" width="72.8" height="41.8" fill="rgb(50,250,150)"/>
<rect x="1621.0" y="510.1" width="72.8" height="41.8" fill="rgb(50,250,100)"/>
<rect x="1621.0" y="551.4" width="72.8" height="41.8" fill="rgb(50,250,50)"/>
<rect x="1621.0" y="592.6" width="72.8" height="41.8" fill="rgb(50,250,0)"/>
<rect x="1621.0" y="633.9" width="72.8" height="41.8" fill="rgb(84,250,5)"/>
<rect x="1621.0" y="675.1" width="72.8" height="41.8" fill="rgb(118,250,10)"/>
<rect x="1621.0" y="716.4" width="72.8" height="41.8" fill="rgb(152,250,10)"/>
<rect x="1621.0" y="757.7" width="72.8" height="41.8" fill="rgb(186,250,10)"/>
<rect x="1621.0" y="798.9" width="72.8" height="41.8" fill="rgb(220,250,10)"/>
<rect x="1621.0" y="840.2" width="72.8" height="41.8" fill="rgb(255,255,15)"/>
<rect x="1621.0" y="881.5" width="72.8" height="41.8" fill="rgb(245,205,10)"/>
<rect x="1621.0" y="922.7" width="72.8" height="41.8" fill="rgb(235,158,8)"/>
<rect x="1621.0" y="964.0" width="72.8" height="41.8" fill="rgb(225,108,6)"/>
<rect x="1621.0" y="1005.2" width="72.8" height="41.8" fill="rgb(215,58,6)"/>
<rect x="1621.0" y="1046.5" width="72.8" height="41.8" fill="rgb(205,8,8)"/>
<rect x="1621.0" y="1087.8" width="72.8" height="41.9" fill="rgb(130,4,4)"/>
<rect x="1621.0" y="137.8" width="72.8" height="991.4" fill="none" stroke="#000" stroke-width="3.2"/>
<line x1="1693.8" y1="180.0" x2="1714.5" y2="180.0" stroke="#000" stroke-width="3.4" />
<text x="1727" y="191.0" font-size="31.5">10.0</text>
<line x1="1693.8" y1="221.3" x2="1714.5" y2="221.3" stroke="#000" stroke-width="3.4" />
<text x="1727" y="232.3" font-size="31.5">9.0</text>
<line x1="1693.8" y1="262.5" x2="1714.5" y2="262.5" stroke="#000" stroke-width="3.4" />
<text x="1727" y="273.5" font-size="31.5">8.0</text>
<line x1="1693.8" y1="303.8" x2="1714.5" y2="303.8" stroke="#000" stroke-width="3.4" />
<text x="1727" y="314.8" font-size="31.5">7.0</text>
<line x1="1693.8" y1="345.0" x2="1714.5" y2="345.0" stroke="#000" stroke-width="3.4" />
<text x="1727" y="356.0" font-size="31.5">6.0</text>
<line x1="1693.8" y1="386.3" x2="1714.5" y2="386.3" stroke="#000" stroke-width="3.4" />
<text x="1727" y="397.3" font-size="31.5">5.0</text>
<line x1="1693.8" y1="427.6" x2="1714.5" y2="427.6" stroke="#000" stroke-width="3.4" />
<text x="1727" y="438.6" font-size="31.5">4.0</text>
<line x1="1693.8" y1="468.8" x2="1714.5" y2="468.8" stroke="#000" stroke-width="3.4" />
<text x="1727" y="479.8" font-size="31.5">3.0</text>
<line x1="1693.8" y1="510.1" x2="1714.5" y2="510.1" stroke="#000" stroke-width="3.4" />
<text x="1727" y="521.1" font-size="31.5">2.0</text>
<line x1="1693.8" y1="551.4" x2="1714.5" y2="551.4" stroke="#000" stroke-width="3.4" />
<text x="1727" y="562.4" font-size="31.5">1.0</text>
<line x1="1693.8" y1="592.6" x2="1714.5" y2="592.6" stroke="#000" stroke-width="3.4" />
<text x="1727" y="603.6" font-size="31.5">0.0</text>
<line x1="1693.8" y1="633.9" x2="1714.5" y2="633.9" stroke="#000" stroke-width="3.4" />
<text x="1727" y="644.9" font-size="31.5">-1.0</text>
<line x1="1693.8" y1="675.1" x2="1714.5" y2="675.1" stroke="#000" stroke-width="3.4" />
<text x="1727" y="686.1" font-size="31.5">-2.0</text>
<line x1="1693.8" y1="716.4" x2="1714.5" y2="716.4" stroke="#000" stroke-width="3.4" />
<text x="1727" y="727.4" font-size="31.5">-3.0</text>
<line x1="1693.8" y1="757.7" x2="1714.5" y2="757.7" stroke="#000" stroke-width="3.4" />
<text x="1727" y="768.7" font-size="31.5">-4.0</text>
<line x1="1693.8" y1="798.9" x2="1714.5" y2="798.9" stroke="#000" stroke-width="3.4" />
<text x="1727" y="809.9" font-size="31.5">-5.0</text>
<line x1="1693.8" y1="840.2" x2="1714.5" y2="840.2" stroke="#000" stroke-width="3.4" />
<text x="1727" y="851.2" font-size="31.5">-6.0</text>
<line x1="1693.8" y1="881.5" x2="1714.5" y2="881.5" stroke="#000" stroke-width="3.4" />
<text x="1727" y="892.5" font-size="31.5">-7.0</text>
<line x1="1693.8" y1="922.7" x2="1714.5" y2="922.7" stroke="#000" stroke-width="3.4" />
<text x="1727" y="933.7" font-size="31.5">-8.0</text>
<line x1="1693.8" y1="964.0" x2="1714.5" y2="964.0" stroke="#000" stroke-width="3.4" />
<text x="1727" y="975.0" font-size="31.5">-9.0</text>
<line x1="1693.8" y1="1005.2" x2="1714.5" y2="1005.2" stroke="#000" stroke-width="3.4" />
<text x="1727" y="1016.2" font-size="31.5">-10.0</text>
<line x1="1693.8" y1="1046.5" x2="1714.5" y2="1046.5" stroke="#000" stroke-width="3.4" />
<text x="1727" y="1057.5" font-size="31.5">-11.0</text>
<line x1="1693.8" y1="1087.8" x2="1714.5" y2="1087.8" stroke="#000" stroke-width="3.4" />
<text x="1727" y="1098.8" font-size="31.5">-12.0</text>
</g>
<g id="notes">
<text x="1320.5" y="143" font-size="46" letter-spacing="0.5"><tspan font-style="italic">t</tspan>=10 day</text>
<text x="1320.5" y="203" font-size="46" letter-spacing="0.3"><tspan font-style="italic">z</tspan>=−4 m</text>
<text x="1266" y="305" font-size="57.3" fill="#9900cc" style="font-weight:normal">Interface</text>
</g>
<g id="zlabels" font-size="38" text-anchor="end">
<text transform="matrix(0.770,-0.359,0.219,0.850,199.1,1010.6)">-12</text>
<text transform="matrix(0.782,-0.365,0.207,0.863,193.1,957.9)">-10</text>
<text transform="matrix(0.793,-0.370,0.195,0.875,187.0,904.2)">-8</text>
<text transform="matrix(0.804,-0.375,0.182,0.888,180.8,849.6)">-6</text>
<text transform="matrix(0.816,-0.380,0.170,0.900,174.5,793.9)">-4</text>
<text transform="matrix(0.827,-0.386,0.156,0.913,168.1,737.3)">-2</text>
<text transform="matrix(0.838,-0.391,0.142,0.925,161.6,679.6)">0</text>
<text transform="matrix(0.850,-0.396,0.128,0.938,155.0,620.8)">2</text>
<text transform="matrix(0.861,-0.401,0.114,0.950,148.3,560.9)">4</text>
<text transform="matrix(0.872,-0.407,0.099,0.963,141.5,499.9)">6</text>
<text transform="matrix(0.884,-0.412,0.083,0.975,134.5,437.7)">8</text>
<text transform="matrix(0.895,-0.417,0.067,0.988,127.4,374.3)">10</text>
<text transform="matrix(0.906,-0.423,0.051,1.000,120.3,309.7)">12</text>
</g>
<text id="ztitle" transform="translate(38,428) rotate(83.4)" font-size="46" xml:space="preserve">Vertical displacement  (mm)</text>
<g id="rlabels" font-size="38" text-anchor="end">
<text transform="matrix(0.839,-0.400,0.754,0.453,205.5,1032.1)">0.0</text>
<text transform="matrix(0.843,-0.411,0.756,0.478,253.4,1067.5)">0.2</text>
<text transform="matrix(0.847,-0.422,0.756,0.502,302.6,1103.8)">0.4</text>
<text transform="matrix(0.850,-0.433,0.756,0.528,353.1,1141.1)">0.6</text>
<text transform="matrix(0.853,-0.444,0.755,0.553,405.0,1179.3)">0.8</text>
<text transform="matrix(0.856,-0.455,0.754,0.578,458.3,1218.7)">1.0</text>
<text transform="matrix(0.859,-0.467,0.751,0.604,513.1,1259.1)">1.2</text>
<text transform="matrix(0.862,-0.478,0.748,0.630,569.5,1300.6)">1.4</text>
<text transform="matrix(0.865,-0.489,0.744,0.656,627.5,1343.3)">1.6</text>
<text transform="matrix(0.868,-0.501,0.739,0.682,687.2,1387.2)">1.8</text>
<text transform="matrix(0.870,-0.513,0.734,0.709,748.8,1432.5)">2.0</text>
</g>
<text id="rtitle" transform="matrix(0.684,0.655,-1.034,0.278,337.2,1228)" font-size="42"><tspan font-style="italic">r</tspan> (m)</text>
<text transform="translate(101,1266) rotate(-38.5)" font-size="42">Layer 1</text>
<text transform="translate(340,1469) rotate(-38.5)" font-size="42">Layer 2</text>
<g id="lambda" font-size="45">
<text transform="translate(827.5,1395.3) rotate(35.4)"><tspan font-style="italic">λ</tspan><tspan font-size="27" font-style="italic" dy="9" style="font-weight:normal">s</tspan><tspan dy="-9">=2 (W/m/°C)</tspan></text>
<text transform="translate(897.3,1349.6) rotate(35.4)"><tspan font-style="italic">λ</tspan><tspan font-size="27" font-style="italic" dy="9" style="font-weight:normal">s</tspan><tspan dy="-9">=3 (W/m/°C)</tspan></text>
<text transform="translate(964.9,1305.3) rotate(35.4)"><tspan font-style="italic">λ</tspan><tspan font-size="27" font-style="italic" dy="9" style="font-weight:normal">s</tspan><tspan dy="-9">=4 (W/m/°C)</tspan></text>
<text transform="translate(1030.5,1262.3) rotate(35.4)"><tspan font-style="italic">λ</tspan><tspan font-size="27" font-style="italic" dy="9" style="font-weight:normal">s</tspan><tspan dy="-9">=2 (W/m/°C)</tspan></text>
<text transform="translate(1094.2,1220.6) rotate(35.4)"><tspan font-style="italic">λ</tspan><tspan font-size="27" font-style="italic" dy="9" style="font-weight:normal">s</tspan><tspan dy="-9">=3 (W/m/°C)</tspan></text>
<text transform="translate(1156.1,1180.1) rotate(35.4)"><tspan font-style="italic">λ</tspan><tspan font-size="27" font-style="italic" dy="9" style="font-weight:normal">s</tspan><tspan dy="-9">=4 (W/m/°C)</tspan></text>
<text transform="translate(1216.1,1140.8) rotate(35.4)"><tspan font-style="italic">λ</tspan><tspan font-size="27" font-style="italic" dy="9" style="font-weight:normal">s</tspan><tspan dy="-9">=2 (W/m/°C)</tspan></text>
<text transform="translate(1274.5,1102.6) rotate(35.4)"><tspan font-style="italic">λ</tspan><tspan font-size="27" font-style="italic" dy="9" style="font-weight:normal">s</tspan><tspan dy="-9">=3 (W/m/°C)</tspan></text>
<text transform="translate(1331.2,1065.5) rotate(35.4)"><tspan font-style="italic">λ</tspan><tspan font-size="27" font-style="italic" dy="9" style="font-weight:normal">s</tspan><tspan dy="-9">=4 (W/m/°C)</tspan></text>
</g>
<g id="rt" fill="#ff0000" font-size="33" font-style="italic" letter-spacing="1.3">
<text transform="translate(822.0,1075.0) rotate(-32)" xml:space="preserve"><tspan>R</tspan><tspan font-size="20" dy="7">T</tspan><tspan dy="-7">=10</tspan><tspan font-size="20" dy="-13">-3</tspan><tspan dy="13">  η</tspan><tspan font-size="20" dy="7">T</tspan><tspan dy="-7">=1</tspan></text>
<text transform="translate(1039.0,951.0) rotate(-32)" xml:space="preserve"><tspan>R</tspan><tspan font-size="20" dy="7">T</tspan><tspan dy="-7">=10</tspan><tspan font-size="20" dy="-13">-3</tspan><tspan dy="13">  η</tspan><tspan font-size="20" dy="7">T</tspan><tspan dy="-7">=3</tspan></text>
<text transform="translate(1234.0,829.0) rotate(-32)" xml:space="preserve"><tspan>R</tspan><tspan font-size="20" dy="7">T</tspan><tspan dy="-7">=10</tspan><tspan font-size="20" dy="-13">-3</tspan><tspan dy="13">  η</tspan><tspan font-size="20" dy="7">T</tspan><tspan dy="-7">=10</tspan></text>
</g>
<g id="interface-lines" fill="none">
<line x1="477.4" y1="1189.5" x2="477.6" y2="517.6" stroke="#9900cc" stroke-width="6.5" stroke-dasharray="28.7 24.9"/>
<line x1="491.0" y1="471.8" x2="1079.7" y2="163.3" stroke="#9900cc" stroke-width="6.5" stroke-dasharray="27.5 25.6"/>
<line x1="1082.8" y1="183.8" x2="1054.5" y2="858.8" stroke="#9900cc" stroke-width="6.5" stroke-dasharray="28 25.3"/>
<line x1="1056.7" y1="857.5" x2="497.0" y2="1179.2" stroke="#9900cc" stroke-width="6.5" stroke-dasharray="28.3 24.7" stroke-dashoffset="15.5"/>
<line x1="252.5" y1="1006.5" x2="95.0" y2="1092.0" stroke="#9900cc" stroke-width="6.5" stroke-dasharray="28.4 22.8"/>
<line x1="494.5" y1="1185.6" x2="336.7" y2="1271.3" stroke="#9900cc" stroke-width="6.5" stroke-dasharray="28.4 23.4"/>
<line x1="790.3" y1="1405.4" x2="640.0" y2="1499.5" stroke="#9900cc" stroke-width="6.5" stroke-dasharray="28.4 24"/>
</g>
</svg>
</body></html>
